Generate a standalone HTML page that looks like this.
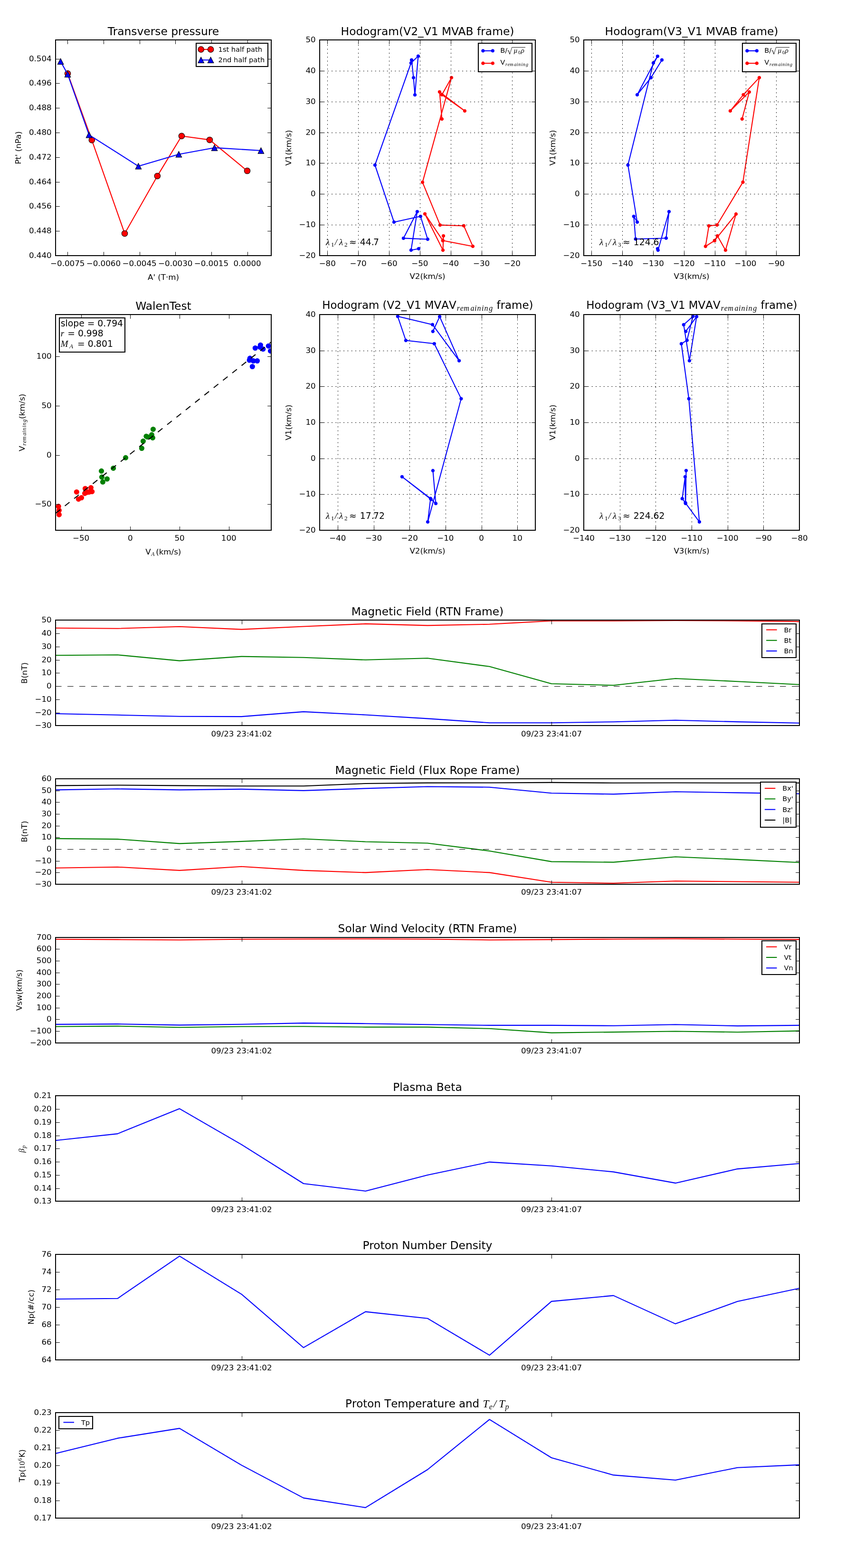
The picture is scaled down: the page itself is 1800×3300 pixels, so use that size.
<!DOCTYPE html>
<html><head><meta charset="utf-8"><title>Flux rope analysis</title>
<style>html,body{margin:0;padding:0;background:#fff;}svg{display:block;}</style>
</head><body>
<svg width="1800" height="3300" viewBox="0 0 864 1584" version="1.1">
<defs>
<style type="text/css">svg *{stroke-linejoin: round; stroke-linecap: butt}</style>
</defs>
<g id="figure_1">
<g id="patch_1">
<path d="M 0 1584 L 864 1584 L 864 0 L 0 0 z
" style="fill: #ffffff"/>
</g>
<g id="axes_1">
<g id="patch_2">
<path d="M 56.16 258.24 L 274.08 258.24 L 274.08 40.32 L 56.16 40.32 z
" style="fill: #ffffff"/>
</g>
<g id="line2d_1">
<path d="M 68.4 74.304 L 92.784 141.504 L 126 235.872 L 159.024 177.792 L 183.552 137.424 L 211.872 141.312 L 249.84 172.608 " clip-path="url(#p8485a4d8d3)" style="fill: none; stroke: #ff0000; stroke-linecap: square"/>
<g clip-path="url(#p8485a4d8d3)">
<path d="M 0 3 C 0.795609 3 1.55874 2.683901 2.12132 2.12132 C 2.683901 1.55874 3 0.795609 3 0 C 3 -0.795609 2.683901 -1.55874 2.12132 -2.12132 C 1.55874 -2.683901 0.795609 -3 0 -3 C -0.795609 -3 -1.55874 -2.683901 -2.12132 -2.12132 C -2.683901 -1.55874 -3 -0.795609 -3 0 C -3 0.795609 -2.683901 1.55874 -2.12132 2.12132 C -1.55874 2.683901 -0.795609 3 0 3 z" transform="translate(68.4 74.304)" style="fill: #ff0000; stroke: #000000; stroke-width: 0.5"/>
<path d="M 0 3 C 0.795609 3 1.55874 2.683901 2.12132 2.12132 C 2.683901 1.55874 3 0.795609 3 0 C 3 -0.795609 2.683901 -1.55874 2.12132 -2.12132 C 1.55874 -2.683901 0.795609 -3 0 -3 C -0.795609 -3 -1.55874 -2.683901 -2.12132 -2.12132 C -2.683901 -1.55874 -3 -0.795609 -3 0 C -3 0.795609 -2.683901 1.55874 -2.12132 2.12132 C -1.55874 2.683901 -0.795609 3 0 3 z" transform="translate(92.784 141.504)" style="fill: #ff0000; stroke: #000000; stroke-width: 0.5"/>
<path d="M 0 3 C 0.795609 3 1.55874 2.683901 2.12132 2.12132 C 2.683901 1.55874 3 0.795609 3 0 C 3 -0.795609 2.683901 -1.55874 2.12132 -2.12132 C 1.55874 -2.683901 0.795609 -3 0 -3 C -0.795609 -3 -1.55874 -2.683901 -2.12132 -2.12132 C -2.683901 -1.55874 -3 -0.795609 -3 0 C -3 0.795609 -2.683901 1.55874 -2.12132 2.12132 C -1.55874 2.683901 -0.795609 3 0 3 z" transform="translate(126 235.872)" style="fill: #ff0000; stroke: #000000; stroke-width: 0.5"/>
<path d="M 0 3 C 0.795609 3 1.55874 2.683901 2.12132 2.12132 C 2.683901 1.55874 3 0.795609 3 0 C 3 -0.795609 2.683901 -1.55874 2.12132 -2.12132 C 1.55874 -2.683901 0.795609 -3 0 -3 C -0.795609 -3 -1.55874 -2.683901 -2.12132 -2.12132 C -2.683901 -1.55874 -3 -0.795609 -3 0 C -3 0.795609 -2.683901 1.55874 -2.12132 2.12132 C -1.55874 2.683901 -0.795609 3 0 3 z" transform="translate(159.024 177.792)" style="fill: #ff0000; stroke: #000000; stroke-width: 0.5"/>
<path d="M 0 3 C 0.795609 3 1.55874 2.683901 2.12132 2.12132 C 2.683901 1.55874 3 0.795609 3 0 C 3 -0.795609 2.683901 -1.55874 2.12132 -2.12132 C 1.55874 -2.683901 0.795609 -3 0 -3 C -0.795609 -3 -1.55874 -2.683901 -2.12132 -2.12132 C -2.683901 -1.55874 -3 -0.795609 -3 0 C -3 0.795609 -2.683901 1.55874 -2.12132 2.12132 C -1.55874 2.683901 -0.795609 3 0 3 z" transform="translate(183.552 137.424)" style="fill: #ff0000; stroke: #000000; stroke-width: 0.5"/>
<path d="M 0 3 C 0.795609 3 1.55874 2.683901 2.12132 2.12132 C 2.683901 1.55874 3 0.795609 3 0 C 3 -0.795609 2.683901 -1.55874 2.12132 -2.12132 C 1.55874 -2.683901 0.795609 -3 0 -3 C -0.795609 -3 -1.55874 -2.683901 -2.12132 -2.12132 C -2.683901 -1.55874 -3 -0.795609 -3 0 C -3 0.795609 -2.683901 1.55874 -2.12132 2.12132 C -1.55874 2.683901 -0.795609 3 0 3 z" transform="translate(211.872 141.312)" style="fill: #ff0000; stroke: #000000; stroke-width: 0.5"/>
<path d="M 0 3 C 0.795609 3 1.55874 2.683901 2.12132 2.12132 C 2.683901 1.55874 3 0.795609 3 0 C 3 -0.795609 2.683901 -1.55874 2.12132 -2.12132 C 1.55874 -2.683901 0.795609 -3 0 -3 C -0.795609 -3 -1.55874 -2.683901 -2.12132 -2.12132 C -2.683901 -1.55874 -3 -0.795609 -3 0 C -3 0.795609 -2.683901 1.55874 -2.12132 2.12132 C -1.55874 2.683901 -0.795609 3 0 3 z" transform="translate(249.84 172.608)" style="fill: #ff0000; stroke: #000000; stroke-width: 0.5"/>
</g>
</g>
<g id="line2d_2">
<path d="M 61.248 62.064 L 68.4 75.024 L 90 136.224 L 139.872 167.904 L 180.672 155.856 L 216.72 149.232 L 263.712 152.112 " clip-path="url(#p8485a4d8d3)" style="fill: none; stroke: #0000ff; stroke-linecap: square"/>
<g clip-path="url(#p8485a4d8d3)">
<path d="M 0 -3 L -3 3 L 3 3 z" transform="translate(61.248 62.064)" style="fill: #0000ff; stroke: #000000; stroke-width: 0.5; stroke-linejoin: miter"/>
<path d="M 0 -3 L -3 3 L 3 3 z" transform="translate(68.4 75.024)" style="fill: #0000ff; stroke: #000000; stroke-width: 0.5; stroke-linejoin: miter"/>
<path d="M 0 -3 L -3 3 L 3 3 z" transform="translate(90 136.224)" style="fill: #0000ff; stroke: #000000; stroke-width: 0.5; stroke-linejoin: miter"/>
<path d="M 0 -3 L -3 3 L 3 3 z" transform="translate(139.872 167.904)" style="fill: #0000ff; stroke: #000000; stroke-width: 0.5; stroke-linejoin: miter"/>
<path d="M 0 -3 L -3 3 L 3 3 z" transform="translate(180.672 155.856)" style="fill: #0000ff; stroke: #000000; stroke-width: 0.5; stroke-linejoin: miter"/>
<path d="M 0 -3 L -3 3 L 3 3 z" transform="translate(216.72 149.232)" style="fill: #0000ff; stroke: #000000; stroke-width: 0.5; stroke-linejoin: miter"/>
<path d="M 0 -3 L -3 3 L 3 3 z" transform="translate(263.712 152.112)" style="fill: #0000ff; stroke: #000000; stroke-width: 0.5; stroke-linejoin: miter"/>
</g>
</g>
<g id="patch_3">
<path d="M 56.1600 258.2400 L 56.1600 40.3200 " style="fill: none; stroke: #000000; stroke-width: 0.96; stroke-linejoin: miter; stroke-linecap: square"/>
</g>
<g id="patch_4">
<path d="M 274.0800 258.2400 L 274.0800 40.3200 " style="fill: none; stroke: #000000; stroke-width: 0.96; stroke-linejoin: miter; stroke-linecap: square"/>
</g>
<g id="patch_5">
<path d="M 56.1600 258.2400 L 274.0800 258.2400 " style="fill: none; stroke: #000000; stroke-width: 0.96; stroke-linejoin: miter; stroke-linecap: square"/>
</g>
<g id="patch_6">
<path d="M 56.1600 40.3200 L 274.0800 40.3200 " style="fill: none; stroke: #000000; stroke-width: 0.96; stroke-linejoin: miter; stroke-linecap: square"/>
</g>
<g id="matplotlib.axis_1">
<g id="xtick_1">
<g id="line2d_3">
<g>
<path d="M 0 0 L 0 -4" transform="translate(68.4000 258.4800)" style="stroke: #000000; stroke-width: 0.48"/>
</g>
</g>
<g id="line2d_4">
<g>
<path d="M 0 0 L 0 4" transform="translate(68.4000 40.5600)" style="stroke: #000000; stroke-width: 0.48"/>
</g>
</g>
<g id="text_1">
<text style="font-size: 8px; font-family: 'DejaVu Sans', sans-serif; text-anchor: middle" x="68.266667" y="268.96" transform="rotate(-0 68.266667 268.96)">−0.0075</text>
</g>
</g>
<g id="xtick_2">
<g id="line2d_5">
<g>
<path d="M 0 0 L 0 -4" transform="translate(104.8800 258.4800)" style="stroke: #000000; stroke-width: 0.48"/>
</g>
</g>
<g id="line2d_6">
<g>
<path d="M 0 0 L 0 4" transform="translate(104.8800 40.5600)" style="stroke: #000000; stroke-width: 0.48"/>
</g>
</g>
<g id="text_2">
<text style="font-size: 8px; font-family: 'DejaVu Sans', sans-serif; text-anchor: middle" x="104.586667" y="268.96" transform="rotate(-0 104.586667 268.96)">−0.0060</text>
</g>
</g>
<g id="xtick_3">
<g id="line2d_7">
<g>
<path d="M 0 0 L 0 -4" transform="translate(141.3600 258.4800)" style="stroke: #000000; stroke-width: 0.48"/>
</g>
</g>
<g id="line2d_8">
<g>
<path d="M 0 0 L 0 4" transform="translate(141.3600 40.5600)" style="stroke: #000000; stroke-width: 0.48"/>
</g>
</g>
<g id="text_3">
<text style="font-size: 8px; font-family: 'DejaVu Sans', sans-serif; text-anchor: middle" x="140.906667" y="268.96" transform="rotate(-0 140.906667 268.96)">−0.0045</text>
</g>
</g>
<g id="xtick_4">
<g id="line2d_9">
<g>
<path d="M 0 0 L 0 -4" transform="translate(177.3600 258.4800)" style="stroke: #000000; stroke-width: 0.48"/>
</g>
</g>
<g id="line2d_10">
<g>
<path d="M 0 0 L 0 4" transform="translate(177.3600 40.5600)" style="stroke: #000000; stroke-width: 0.48"/>
</g>
</g>
<g id="text_4">
<text style="font-size: 8px; font-family: 'DejaVu Sans', sans-serif; text-anchor: middle" x="177.226667" y="268.96" transform="rotate(-0 177.226667 268.96)">−0.0030</text>
</g>
</g>
<g id="xtick_5">
<g id="line2d_11">
<g>
<path d="M 0 0 L 0 -4" transform="translate(213.8400 258.4800)" style="stroke: #000000; stroke-width: 0.48"/>
</g>
</g>
<g id="line2d_12">
<g>
<path d="M 0 0 L 0 4" transform="translate(213.8400 40.5600)" style="stroke: #000000; stroke-width: 0.48"/>
</g>
</g>
<g id="text_5">
<text style="font-size: 8px; font-family: 'DejaVu Sans', sans-serif; text-anchor: middle" x="213.546667" y="268.96" transform="rotate(-0 213.546667 268.96)">−0.0015</text>
</g>
</g>
<g id="xtick_6">
<g id="line2d_13">
<g>
<path d="M 0 0 L 0 -4" transform="translate(250.3200 258.4800)" style="stroke: #000000; stroke-width: 0.48"/>
</g>
</g>
<g id="line2d_14">
<g>
<path d="M 0 0 L 0 4" transform="translate(250.3200 40.5600)" style="stroke: #000000; stroke-width: 0.48"/>
</g>
</g>
<g id="text_6">
<text style="font-size: 8px; font-family: 'DejaVu Sans', sans-serif; text-anchor: middle" x="249.866667" y="268.96" transform="rotate(-0 249.866667 268.96)">0.0000</text>
</g>
</g>
<g id="text_7">
<text style="font-size: 8px; font-family: 'DejaVu Sans', sans-serif; text-anchor: middle" x="165.12" y="282.6" transform="rotate(-0 165.12 282.6)">A' (T·m)</text>
</g>
</g>
<g id="matplotlib.axis_2">
<g id="ytick_1">
<g id="line2d_15">
<g>
<path d="M 0 0 L 4 0" transform="translate(56.4000 258.4800)" style="stroke: #000000; stroke-width: 0.48"/>
</g>
</g>
<g id="line2d_16">
<g>
<path d="M 0 0 L -4 0" transform="translate(274.3200 258.4800)" style="stroke: #000000; stroke-width: 0.48"/>
</g>
</g>
<g id="text_8">
<text style="font-size: 8px; font-family: 'DejaVu Sans', sans-serif; text-anchor: end" x="52.16" y="260.64" transform="rotate(-0 52.16 260.64)">0.440</text>
</g>
</g>
<g id="ytick_2">
<g id="line2d_17">
<g>
<path d="M 0 0 L 4 0" transform="translate(56.4000 233.5200)" style="stroke: #000000; stroke-width: 0.48"/>
</g>
</g>
<g id="line2d_18">
<g>
<path d="M 0 0 L -4 0" transform="translate(274.3200 233.5200)" style="stroke: #000000; stroke-width: 0.48"/>
</g>
</g>
<g id="text_9">
<text style="font-size: 8px; font-family: 'DejaVu Sans', sans-serif; text-anchor: end" x="52.16" y="235.770385" transform="rotate(-0 52.16 235.770385)">0.448</text>
</g>
</g>
<g id="ytick_3">
<g id="line2d_19">
<g>
<path d="M 0 0 L 4 0" transform="translate(56.4000 208.5600)" style="stroke: #000000; stroke-width: 0.48"/>
</g>
</g>
<g id="line2d_20">
<g>
<path d="M 0 0 L -4 0" transform="translate(274.3200 208.5600)" style="stroke: #000000; stroke-width: 0.48"/>
</g>
</g>
<g id="text_10">
<text style="font-size: 8px; font-family: 'DejaVu Sans', sans-serif; text-anchor: end" x="52.16" y="210.90077" transform="rotate(-0 52.16 210.90077)">0.456</text>
</g>
</g>
<g id="ytick_4">
<g id="line2d_21">
<g>
<path d="M 0 0 L 4 0" transform="translate(56.4000 184.0800)" style="stroke: #000000; stroke-width: 0.48"/>
</g>
</g>
<g id="line2d_22">
<g>
<path d="M 0 0 L -4 0" transform="translate(274.3200 184.0800)" style="stroke: #000000; stroke-width: 0.48"/>
</g>
</g>
<g id="text_11">
<text style="font-size: 8px; font-family: 'DejaVu Sans', sans-serif; text-anchor: end" x="52.16" y="186.031155" transform="rotate(-0 52.16 186.031155)">0.464</text>
</g>
</g>
<g id="ytick_5">
<g id="line2d_23">
<g>
<path d="M 0 0 L 4 0" transform="translate(56.4000 159.1200)" style="stroke: #000000; stroke-width: 0.48"/>
</g>
</g>
<g id="line2d_24">
<g>
<path d="M 0 0 L -4 0" transform="translate(274.3200 159.1200)" style="stroke: #000000; stroke-width: 0.48"/>
</g>
</g>
<g id="text_12">
<text style="font-size: 8px; font-family: 'DejaVu Sans', sans-serif; text-anchor: end" x="52.16" y="161.161541" transform="rotate(-0 52.16 161.161541)">0.472</text>
</g>
</g>
<g id="ytick_6">
<g id="line2d_25">
<g>
<path d="M 0 0 L 4 0" transform="translate(56.4000 134.1600)" style="stroke: #000000; stroke-width: 0.48"/>
</g>
</g>
<g id="line2d_26">
<g>
<path d="M 0 0 L -4 0" transform="translate(274.3200 134.1600)" style="stroke: #000000; stroke-width: 0.48"/>
</g>
</g>
<g id="text_13">
<text style="font-size: 8px; font-family: 'DejaVu Sans', sans-serif; text-anchor: end" x="52.16" y="136.291926" transform="rotate(-0 52.16 136.291926)">0.480</text>
</g>
</g>
<g id="ytick_7">
<g id="line2d_27">
<g>
<path d="M 0 0 L 4 0" transform="translate(56.4000 109.2000)" style="stroke: #000000; stroke-width: 0.48"/>
</g>
</g>
<g id="line2d_28">
<g>
<path d="M 0 0 L -4 0" transform="translate(274.3200 109.2000)" style="stroke: #000000; stroke-width: 0.48"/>
</g>
</g>
<g id="text_14">
<text style="font-size: 8px; font-family: 'DejaVu Sans', sans-serif; text-anchor: end" x="52.16" y="111.422311" transform="rotate(-0 52.16 111.422311)">0.488</text>
</g>
</g>
<g id="ytick_8">
<g id="line2d_29">
<g>
<path d="M 0 0 L 4 0" transform="translate(56.4000 84.2400)" style="stroke: #000000; stroke-width: 0.48"/>
</g>
</g>
<g id="line2d_30">
<g>
<path d="M 0 0 L -4 0" transform="translate(274.3200 84.2400)" style="stroke: #000000; stroke-width: 0.48"/>
</g>
</g>
<g id="text_15">
<text style="font-size: 8px; font-family: 'DejaVu Sans', sans-serif; text-anchor: end" x="52.16" y="86.552696" transform="rotate(-0 52.16 86.552696)">0.496</text>
</g>
</g>
<g id="ytick_9">
<g id="line2d_31">
<g>
<path d="M 0 0 L 4 0" transform="translate(56.4000 59.7600)" style="stroke: #000000; stroke-width: 0.48"/>
</g>
</g>
<g id="line2d_32">
<g>
<path d="M 0 0 L -4 0" transform="translate(274.3200 59.7600)" style="stroke: #000000; stroke-width: 0.48"/>
</g>
</g>
<g id="text_16">
<text style="font-size: 8px; font-family: 'DejaVu Sans', sans-serif; text-anchor: end" x="52.16" y="61.683081" transform="rotate(-0 52.16 61.683081)">0.504</text>
</g>
</g>
<g id="text_17">
<text style="font-size: 8px; font-family: 'DejaVu Sans', sans-serif; text-anchor: middle" x="21.3" y="149.28" transform="rotate(-90 21.3 149.28)">Pt' (nPa)</text>
</g>
</g>
<g id="text_18">
<text style="font-size: 11.22px; font-family: 'DejaVu Sans', sans-serif; text-anchor: middle" x="165.12" y="35.32" transform="rotate(-0 165.12 35.32)">Transverse pressure</text>
</g>
<g id="legend_1">
<g id="patch_7">
<path d="M 198.2400 67.2000 L 270.7200 67.2000 L 270.7200 43.6800 L 198.2400 43.6800 z
" style="fill: #ffffff; stroke: #000000; stroke-linejoin: miter"/>
</g>
<g id="line2d_33">
<path d="M 203.12 49.93 L 212.92 49.93 " style="fill: none; stroke: #ff0000; stroke-linecap: square"/>
<g>
<path d="M 0 3 C 0.795609 3 1.55874 2.683901 2.12132 2.12132 C 2.683901 1.55874 3 0.795609 3 0 C 3 -0.795609 2.683901 -1.55874 2.12132 -2.12132 C 1.55874 -2.683901 0.795609 -3 0 -3 C -0.795609 -3 -1.55874 -2.683901 -2.12132 -2.12132 C -2.683901 -1.55874 -3 -0.795609 -3 0 C -3 0.795609 -2.683901 1.55874 -2.12132 2.12132 C -1.55874 2.683901 -0.795609 3 0 3 z" transform="translate(203.12 49.93)" style="fill: #ff0000; stroke: #000000; stroke-width: 0.5"/>
<path d="M 0 3 C 0.795609 3 1.55874 2.683901 2.12132 2.12132 C 2.683901 1.55874 3 0.795609 3 0 C 3 -0.795609 2.683901 -1.55874 2.12132 -2.12132 C 1.55874 -2.683901 0.795609 -3 0 -3 C -0.795609 -3 -1.55874 -2.683901 -2.12132 -2.12132 C -2.683901 -1.55874 -3 -0.795609 -3 0 C -3 0.795609 -2.683901 1.55874 -2.12132 2.12132 C -1.55874 2.683901 -0.795609 3 0 3 z" transform="translate(212.92 49.93)" style="fill: #ff0000; stroke: #000000; stroke-width: 0.5"/>
</g>
</g>
<g id="text_19">
<text style="font-size: 7px; font-family: 'DejaVu Sans', sans-serif; text-anchor: start" x="220.62" y="52.38" transform="rotate(-0 220.62 52.38)">1st half path</text>
</g>
<g id="line2d_34">
<path d="M 203.12 60.63 L 212.92 60.63 " style="fill: none; stroke: #0000ff; stroke-linecap: square"/>
<g>
<path d="M 0 -3 L -3 3 L 3 3 z" transform="translate(203.12 60.63)" style="fill: #0000ff; stroke: #000000; stroke-width: 0.5; stroke-linejoin: miter"/>
<path d="M 0 -3 L -3 3 L 3 3 z" transform="translate(212.92 60.63)" style="fill: #0000ff; stroke: #000000; stroke-width: 0.5; stroke-linejoin: miter"/>
</g>
</g>
<g id="text_20">
<text style="font-size: 7px; font-family: 'DejaVu Sans', sans-serif; text-anchor: start" x="220.62" y="63.08" transform="rotate(-0 220.62 63.08)">2nd half path</text>
</g>
</g>
</g>
<g id="axes_2">
<g id="patch_8">
<path d="M 323.04 258.24 L 540.96 258.24 L 540.96 40.32 L 323.04 40.32 z
" style="fill: #ffffff"/>
</g>
<g id="line2d_35">
<path d="M 415.92 60.576 L 417.84 78.48 L 419.28 95.856 L 422.592 56.736 L 415.344 63.648 L 378.912 166.704 L 398.16 224.352 L 424.944 218.544 L 432.192 241.68 L 407.712 240.672 L 421.632 213.744 L 415.392 252.672 L 423.072 251.232 " clip-path="url(#pe4867e20e9)" style="fill: none; stroke: #0000ff; stroke-linecap: square"/>
<g clip-path="url(#pe4867e20e9)">
<path d="M 0 1.5 C 0.397805 1.5 0.77937 1.341951 1.06066 1.06066 C 1.341951 0.77937 1.5 0.397805 1.5 0 C 1.5 -0.397805 1.341951 -0.77937 1.06066 -1.06066 C 0.77937 -1.341951 0.397805 -1.5 0 -1.5 C -0.397805 -1.5 -0.77937 -1.341951 -1.06066 -1.06066 C -1.341951 -0.77937 -1.5 -0.397805 -1.5 0 C -1.5 0.397805 -1.341951 0.77937 -1.06066 1.06066 C -0.77937 1.341951 -0.397805 1.5 0 1.5 z" transform="translate(415.92 60.576)" style="fill: #0000ff; stroke: #0000ff; stroke-width: 0.5"/>
<path d="M 0 1.5 C 0.397805 1.5 0.77937 1.341951 1.06066 1.06066 C 1.341951 0.77937 1.5 0.397805 1.5 0 C 1.5 -0.397805 1.341951 -0.77937 1.06066 -1.06066 C 0.77937 -1.341951 0.397805 -1.5 0 -1.5 C -0.397805 -1.5 -0.77937 -1.341951 -1.06066 -1.06066 C -1.341951 -0.77937 -1.5 -0.397805 -1.5 0 C -1.5 0.397805 -1.341951 0.77937 -1.06066 1.06066 C -0.77937 1.341951 -0.397805 1.5 0 1.5 z" transform="translate(417.84 78.48)" style="fill: #0000ff; stroke: #0000ff; stroke-width: 0.5"/>
<path d="M 0 1.5 C 0.397805 1.5 0.77937 1.341951 1.06066 1.06066 C 1.341951 0.77937 1.5 0.397805 1.5 0 C 1.5 -0.397805 1.341951 -0.77937 1.06066 -1.06066 C 0.77937 -1.341951 0.397805 -1.5 0 -1.5 C -0.397805 -1.5 -0.77937 -1.341951 -1.06066 -1.06066 C -1.341951 -0.77937 -1.5 -0.397805 -1.5 0 C -1.5 0.397805 -1.341951 0.77937 -1.06066 1.06066 C -0.77937 1.341951 -0.397805 1.5 0 1.5 z" transform="translate(419.28 95.856)" style="fill: #0000ff; stroke: #0000ff; stroke-width: 0.5"/>
<path d="M 0 1.5 C 0.397805 1.5 0.77937 1.341951 1.06066 1.06066 C 1.341951 0.77937 1.5 0.397805 1.5 0 C 1.5 -0.397805 1.341951 -0.77937 1.06066 -1.06066 C 0.77937 -1.341951 0.397805 -1.5 0 -1.5 C -0.397805 -1.5 -0.77937 -1.341951 -1.06066 -1.06066 C -1.341951 -0.77937 -1.5 -0.397805 -1.5 0 C -1.5 0.397805 -1.341951 0.77937 -1.06066 1.06066 C -0.77937 1.341951 -0.397805 1.5 0 1.5 z" transform="translate(422.592 56.736)" style="fill: #0000ff; stroke: #0000ff; stroke-width: 0.5"/>
<path d="M 0 1.5 C 0.397805 1.5 0.77937 1.341951 1.06066 1.06066 C 1.341951 0.77937 1.5 0.397805 1.5 0 C 1.5 -0.397805 1.341951 -0.77937 1.06066 -1.06066 C 0.77937 -1.341951 0.397805 -1.5 0 -1.5 C -0.397805 -1.5 -0.77937 -1.341951 -1.06066 -1.06066 C -1.341951 -0.77937 -1.5 -0.397805 -1.5 0 C -1.5 0.397805 -1.341951 0.77937 -1.06066 1.06066 C -0.77937 1.341951 -0.397805 1.5 0 1.5 z" transform="translate(415.344 63.648)" style="fill: #0000ff; stroke: #0000ff; stroke-width: 0.5"/>
<path d="M 0 1.5 C 0.397805 1.5 0.77937 1.341951 1.06066 1.06066 C 1.341951 0.77937 1.5 0.397805 1.5 0 C 1.5 -0.397805 1.341951 -0.77937 1.06066 -1.06066 C 0.77937 -1.341951 0.397805 -1.5 0 -1.5 C -0.397805 -1.5 -0.77937 -1.341951 -1.06066 -1.06066 C -1.341951 -0.77937 -1.5 -0.397805 -1.5 0 C -1.5 0.397805 -1.341951 0.77937 -1.06066 1.06066 C -0.77937 1.341951 -0.397805 1.5 0 1.5 z" transform="translate(378.912 166.704)" style="fill: #0000ff; stroke: #0000ff; stroke-width: 0.5"/>
<path d="M 0 1.5 C 0.397805 1.5 0.77937 1.341951 1.06066 1.06066 C 1.341951 0.77937 1.5 0.397805 1.5 0 C 1.5 -0.397805 1.341951 -0.77937 1.06066 -1.06066 C 0.77937 -1.341951 0.397805 -1.5 0 -1.5 C -0.397805 -1.5 -0.77937 -1.341951 -1.06066 -1.06066 C -1.341951 -0.77937 -1.5 -0.397805 -1.5 0 C -1.5 0.397805 -1.341951 0.77937 -1.06066 1.06066 C -0.77937 1.341951 -0.397805 1.5 0 1.5 z" transform="translate(398.16 224.352)" style="fill: #0000ff; stroke: #0000ff; stroke-width: 0.5"/>
<path d="M 0 1.5 C 0.397805 1.5 0.77937 1.341951 1.06066 1.06066 C 1.341951 0.77937 1.5 0.397805 1.5 0 C 1.5 -0.397805 1.341951 -0.77937 1.06066 -1.06066 C 0.77937 -1.341951 0.397805 -1.5 0 -1.5 C -0.397805 -1.5 -0.77937 -1.341951 -1.06066 -1.06066 C -1.341951 -0.77937 -1.5 -0.397805 -1.5 0 C -1.5 0.397805 -1.341951 0.77937 -1.06066 1.06066 C -0.77937 1.341951 -0.397805 1.5 0 1.5 z" transform="translate(424.944 218.544)" style="fill: #0000ff; stroke: #0000ff; stroke-width: 0.5"/>
<path d="M 0 1.5 C 0.397805 1.5 0.77937 1.341951 1.06066 1.06066 C 1.341951 0.77937 1.5 0.397805 1.5 0 C 1.5 -0.397805 1.341951 -0.77937 1.06066 -1.06066 C 0.77937 -1.341951 0.397805 -1.5 0 -1.5 C -0.397805 -1.5 -0.77937 -1.341951 -1.06066 -1.06066 C -1.341951 -0.77937 -1.5 -0.397805 -1.5 0 C -1.5 0.397805 -1.341951 0.77937 -1.06066 1.06066 C -0.77937 1.341951 -0.397805 1.5 0 1.5 z" transform="translate(432.192 241.68)" style="fill: #0000ff; stroke: #0000ff; stroke-width: 0.5"/>
<path d="M 0 1.5 C 0.397805 1.5 0.77937 1.341951 1.06066 1.06066 C 1.341951 0.77937 1.5 0.397805 1.5 0 C 1.5 -0.397805 1.341951 -0.77937 1.06066 -1.06066 C 0.77937 -1.341951 0.397805 -1.5 0 -1.5 C -0.397805 -1.5 -0.77937 -1.341951 -1.06066 -1.06066 C -1.341951 -0.77937 -1.5 -0.397805 -1.5 0 C -1.5 0.397805 -1.341951 0.77937 -1.06066 1.06066 C -0.77937 1.341951 -0.397805 1.5 0 1.5 z" transform="translate(407.712 240.672)" style="fill: #0000ff; stroke: #0000ff; stroke-width: 0.5"/>
<path d="M 0 1.5 C 0.397805 1.5 0.77937 1.341951 1.06066 1.06066 C 1.341951 0.77937 1.5 0.397805 1.5 0 C 1.5 -0.397805 1.341951 -0.77937 1.06066 -1.06066 C 0.77937 -1.341951 0.397805 -1.5 0 -1.5 C -0.397805 -1.5 -0.77937 -1.341951 -1.06066 -1.06066 C -1.341951 -0.77937 -1.5 -0.397805 -1.5 0 C -1.5 0.397805 -1.341951 0.77937 -1.06066 1.06066 C -0.77937 1.341951 -0.397805 1.5 0 1.5 z" transform="translate(421.632 213.744)" style="fill: #0000ff; stroke: #0000ff; stroke-width: 0.5"/>
<path d="M 0 1.5 C 0.397805 1.5 0.77937 1.341951 1.06066 1.06066 C 1.341951 0.77937 1.5 0.397805 1.5 0 C 1.5 -0.397805 1.341951 -0.77937 1.06066 -1.06066 C 0.77937 -1.341951 0.397805 -1.5 0 -1.5 C -0.397805 -1.5 -0.77937 -1.341951 -1.06066 -1.06066 C -1.341951 -0.77937 -1.5 -0.397805 -1.5 0 C -1.5 0.397805 -1.341951 0.77937 -1.06066 1.06066 C -0.77937 1.341951 -0.397805 1.5 0 1.5 z" transform="translate(415.392 252.672)" style="fill: #0000ff; stroke: #0000ff; stroke-width: 0.5"/>
<path d="M 0 1.5 C 0.397805 1.5 0.77937 1.341951 1.06066 1.06066 C 1.341951 0.77937 1.5 0.397805 1.5 0 C 1.5 -0.397805 1.341951 -0.77937 1.06066 -1.06066 C 0.77937 -1.341951 0.397805 -1.5 0 -1.5 C -0.397805 -1.5 -0.77937 -1.341951 -1.06066 -1.06066 C -1.341951 -0.77937 -1.5 -0.397805 -1.5 0 C -1.5 0.397805 -1.341951 0.77937 -1.06066 1.06066 C -0.77937 1.341951 -0.397805 1.5 0 1.5 z" transform="translate(423.072 251.232)" style="fill: #0000ff; stroke: #0000ff; stroke-width: 0.5"/>
</g>
</g>
<g id="line2d_36">
<path d="M 446.592 120.24 L 444.192 92.784 L 469.632 112.032 L 446.592 95.664 L 456.24 78.432 L 426.96 184.128 L 444.72 227.328 L 468.672 228.096 L 477.792 248.832 L 447.504 243.024 L 448.08 238.272 L 447.6 252.72 L 429.36 216.096 L 447.504 243.024 " clip-path="url(#pe4867e20e9)" style="fill: none; stroke: #ff0000; stroke-linecap: square"/>
<g clip-path="url(#pe4867e20e9)">
<path d="M 0 1.5 C 0.397805 1.5 0.77937 1.341951 1.06066 1.06066 C 1.341951 0.77937 1.5 0.397805 1.5 0 C 1.5 -0.397805 1.341951 -0.77937 1.06066 -1.06066 C 0.77937 -1.341951 0.397805 -1.5 0 -1.5 C -0.397805 -1.5 -0.77937 -1.341951 -1.06066 -1.06066 C -1.341951 -0.77937 -1.5 -0.397805 -1.5 0 C -1.5 0.397805 -1.341951 0.77937 -1.06066 1.06066 C -0.77937 1.341951 -0.397805 1.5 0 1.5 z" transform="translate(446.592 120.24)" style="fill: #ff0000; stroke: #ff0000; stroke-width: 0.5"/>
<path d="M 0 1.5 C 0.397805 1.5 0.77937 1.341951 1.06066 1.06066 C 1.341951 0.77937 1.5 0.397805 1.5 0 C 1.5 -0.397805 1.341951 -0.77937 1.06066 -1.06066 C 0.77937 -1.341951 0.397805 -1.5 0 -1.5 C -0.397805 -1.5 -0.77937 -1.341951 -1.06066 -1.06066 C -1.341951 -0.77937 -1.5 -0.397805 -1.5 0 C -1.5 0.397805 -1.341951 0.77937 -1.06066 1.06066 C -0.77937 1.341951 -0.397805 1.5 0 1.5 z" transform="translate(444.192 92.784)" style="fill: #ff0000; stroke: #ff0000; stroke-width: 0.5"/>
<path d="M 0 1.5 C 0.397805 1.5 0.77937 1.341951 1.06066 1.06066 C 1.341951 0.77937 1.5 0.397805 1.5 0 C 1.5 -0.397805 1.341951 -0.77937 1.06066 -1.06066 C 0.77937 -1.341951 0.397805 -1.5 0 -1.5 C -0.397805 -1.5 -0.77937 -1.341951 -1.06066 -1.06066 C -1.341951 -0.77937 -1.5 -0.397805 -1.5 0 C -1.5 0.397805 -1.341951 0.77937 -1.06066 1.06066 C -0.77937 1.341951 -0.397805 1.5 0 1.5 z" transform="translate(469.632 112.032)" style="fill: #ff0000; stroke: #ff0000; stroke-width: 0.5"/>
<path d="M 0 1.5 C 0.397805 1.5 0.77937 1.341951 1.06066 1.06066 C 1.341951 0.77937 1.5 0.397805 1.5 0 C 1.5 -0.397805 1.341951 -0.77937 1.06066 -1.06066 C 0.77937 -1.341951 0.397805 -1.5 0 -1.5 C -0.397805 -1.5 -0.77937 -1.341951 -1.06066 -1.06066 C -1.341951 -0.77937 -1.5 -0.397805 -1.5 0 C -1.5 0.397805 -1.341951 0.77937 -1.06066 1.06066 C -0.77937 1.341951 -0.397805 1.5 0 1.5 z" transform="translate(446.592 95.664)" style="fill: #ff0000; stroke: #ff0000; stroke-width: 0.5"/>
<path d="M 0 1.5 C 0.397805 1.5 0.77937 1.341951 1.06066 1.06066 C 1.341951 0.77937 1.5 0.397805 1.5 0 C 1.5 -0.397805 1.341951 -0.77937 1.06066 -1.06066 C 0.77937 -1.341951 0.397805 -1.5 0 -1.5 C -0.397805 -1.5 -0.77937 -1.341951 -1.06066 -1.06066 C -1.341951 -0.77937 -1.5 -0.397805 -1.5 0 C -1.5 0.397805 -1.341951 0.77937 -1.06066 1.06066 C -0.77937 1.341951 -0.397805 1.5 0 1.5 z" transform="translate(456.24 78.432)" style="fill: #ff0000; stroke: #ff0000; stroke-width: 0.5"/>
<path d="M 0 1.5 C 0.397805 1.5 0.77937 1.341951 1.06066 1.06066 C 1.341951 0.77937 1.5 0.397805 1.5 0 C 1.5 -0.397805 1.341951 -0.77937 1.06066 -1.06066 C 0.77937 -1.341951 0.397805 -1.5 0 -1.5 C -0.397805 -1.5 -0.77937 -1.341951 -1.06066 -1.06066 C -1.341951 -0.77937 -1.5 -0.397805 -1.5 0 C -1.5 0.397805 -1.341951 0.77937 -1.06066 1.06066 C -0.77937 1.341951 -0.397805 1.5 0 1.5 z" transform="translate(426.96 184.128)" style="fill: #ff0000; stroke: #ff0000; stroke-width: 0.5"/>
<path d="M 0 1.5 C 0.397805 1.5 0.77937 1.341951 1.06066 1.06066 C 1.341951 0.77937 1.5 0.397805 1.5 0 C 1.5 -0.397805 1.341951 -0.77937 1.06066 -1.06066 C 0.77937 -1.341951 0.397805 -1.5 0 -1.5 C -0.397805 -1.5 -0.77937 -1.341951 -1.06066 -1.06066 C -1.341951 -0.77937 -1.5 -0.397805 -1.5 0 C -1.5 0.397805 -1.341951 0.77937 -1.06066 1.06066 C -0.77937 1.341951 -0.397805 1.5 0 1.5 z" transform="translate(444.72 227.328)" style="fill: #ff0000; stroke: #ff0000; stroke-width: 0.5"/>
<path d="M 0 1.5 C 0.397805 1.5 0.77937 1.341951 1.06066 1.06066 C 1.341951 0.77937 1.5 0.397805 1.5 0 C 1.5 -0.397805 1.341951 -0.77937 1.06066 -1.06066 C 0.77937 -1.341951 0.397805 -1.5 0 -1.5 C -0.397805 -1.5 -0.77937 -1.341951 -1.06066 -1.06066 C -1.341951 -0.77937 -1.5 -0.397805 -1.5 0 C -1.5 0.397805 -1.341951 0.77937 -1.06066 1.06066 C -0.77937 1.341951 -0.397805 1.5 0 1.5 z" transform="translate(468.672 228.096)" style="fill: #ff0000; stroke: #ff0000; stroke-width: 0.5"/>
<path d="M 0 1.5 C 0.397805 1.5 0.77937 1.341951 1.06066 1.06066 C 1.341951 0.77937 1.5 0.397805 1.5 0 C 1.5 -0.397805 1.341951 -0.77937 1.06066 -1.06066 C 0.77937 -1.341951 0.397805 -1.5 0 -1.5 C -0.397805 -1.5 -0.77937 -1.341951 -1.06066 -1.06066 C -1.341951 -0.77937 -1.5 -0.397805 -1.5 0 C -1.5 0.397805 -1.341951 0.77937 -1.06066 1.06066 C -0.77937 1.341951 -0.397805 1.5 0 1.5 z" transform="translate(477.792 248.832)" style="fill: #ff0000; stroke: #ff0000; stroke-width: 0.5"/>
<path d="M 0 1.5 C 0.397805 1.5 0.77937 1.341951 1.06066 1.06066 C 1.341951 0.77937 1.5 0.397805 1.5 0 C 1.5 -0.397805 1.341951 -0.77937 1.06066 -1.06066 C 0.77937 -1.341951 0.397805 -1.5 0 -1.5 C -0.397805 -1.5 -0.77937 -1.341951 -1.06066 -1.06066 C -1.341951 -0.77937 -1.5 -0.397805 -1.5 0 C -1.5 0.397805 -1.341951 0.77937 -1.06066 1.06066 C -0.77937 1.341951 -0.397805 1.5 0 1.5 z" transform="translate(447.504 243.024)" style="fill: #ff0000; stroke: #ff0000; stroke-width: 0.5"/>
<path d="M 0 1.5 C 0.397805 1.5 0.77937 1.341951 1.06066 1.06066 C 1.341951 0.77937 1.5 0.397805 1.5 0 C 1.5 -0.397805 1.341951 -0.77937 1.06066 -1.06066 C 0.77937 -1.341951 0.397805 -1.5 0 -1.5 C -0.397805 -1.5 -0.77937 -1.341951 -1.06066 -1.06066 C -1.341951 -0.77937 -1.5 -0.397805 -1.5 0 C -1.5 0.397805 -1.341951 0.77937 -1.06066 1.06066 C -0.77937 1.341951 -0.397805 1.5 0 1.5 z" transform="translate(448.08 238.272)" style="fill: #ff0000; stroke: #ff0000; stroke-width: 0.5"/>
<path d="M 0 1.5 C 0.397805 1.5 0.77937 1.341951 1.06066 1.06066 C 1.341951 0.77937 1.5 0.397805 1.5 0 C 1.5 -0.397805 1.341951 -0.77937 1.06066 -1.06066 C 0.77937 -1.341951 0.397805 -1.5 0 -1.5 C -0.397805 -1.5 -0.77937 -1.341951 -1.06066 -1.06066 C -1.341951 -0.77937 -1.5 -0.397805 -1.5 0 C -1.5 0.397805 -1.341951 0.77937 -1.06066 1.06066 C -0.77937 1.341951 -0.397805 1.5 0 1.5 z" transform="translate(447.6 252.72)" style="fill: #ff0000; stroke: #ff0000; stroke-width: 0.5"/>
<path d="M 0 1.5 C 0.397805 1.5 0.77937 1.341951 1.06066 1.06066 C 1.341951 0.77937 1.5 0.397805 1.5 0 C 1.5 -0.397805 1.341951 -0.77937 1.06066 -1.06066 C 0.77937 -1.341951 0.397805 -1.5 0 -1.5 C -0.397805 -1.5 -0.77937 -1.341951 -1.06066 -1.06066 C -1.341951 -0.77937 -1.5 -0.397805 -1.5 0 C -1.5 0.397805 -1.341951 0.77937 -1.06066 1.06066 C -0.77937 1.341951 -0.397805 1.5 0 1.5 z" transform="translate(429.36 216.096)" style="fill: #ff0000; stroke: #ff0000; stroke-width: 0.5"/>
<path d="M 0 1.5 C 0.397805 1.5 0.77937 1.341951 1.06066 1.06066 C 1.341951 0.77937 1.5 0.397805 1.5 0 C 1.5 -0.397805 1.341951 -0.77937 1.06066 -1.06066 C 0.77937 -1.341951 0.397805 -1.5 0 -1.5 C -0.397805 -1.5 -0.77937 -1.341951 -1.06066 -1.06066 C -1.341951 -0.77937 -1.5 -0.397805 -1.5 0 C -1.5 0.397805 -1.341951 0.77937 -1.06066 1.06066 C -0.77937 1.341951 -0.397805 1.5 0 1.5 z" transform="translate(447.504 243.024)" style="fill: #ff0000; stroke: #ff0000; stroke-width: 0.5"/>
</g>
</g>
<g id="patch_9">
<path d="M 323.0400 258.2400 L 323.0400 40.3200 " style="fill: none; stroke: #000000; stroke-width: 0.96; stroke-linejoin: miter; stroke-linecap: square"/>
</g>
<g id="patch_10">
<path d="M 540.9600 258.2400 L 540.9600 40.3200 " style="fill: none; stroke: #000000; stroke-width: 0.96; stroke-linejoin: miter; stroke-linecap: square"/>
</g>
<g id="patch_11">
<path d="M 323.0400 258.2400 L 540.9600 258.2400 " style="fill: none; stroke: #000000; stroke-width: 0.96; stroke-linejoin: miter; stroke-linecap: square"/>
</g>
<g id="patch_12">
<path d="M 323.0400 40.3200 L 540.9600 40.3200 " style="fill: none; stroke: #000000; stroke-width: 0.96; stroke-linejoin: miter; stroke-linecap: square"/>
</g>
<g id="matplotlib.axis_3">
<g id="xtick_7">
<g id="line2d_37">
<path d="M 330.9600 258.2400 L 330.9600 40.3200 " clip-path="url(#pe4867e20e9)" style="fill: none; stroke-dasharray: 1,3; stroke-dashoffset: 0; stroke: #000000; stroke-width: 0.48"/>
</g>
<g id="line2d_38">
<g>
<path d="M 0 0 L 0 -4" transform="translate(330.9600 258.4800)" style="stroke: #000000; stroke-width: 0.48"/>
</g>
</g>
<g id="line2d_39">
<g>
<path d="M 0 0 L 0 4" transform="translate(330.9600 40.5600)" style="stroke: #000000; stroke-width: 0.48"/>
</g>
</g>
<g id="text_21">
<text style="font-size: 8px; font-family: 'DejaVu Sans', sans-serif; text-anchor: middle" x="330.822857" y="268.96" transform="rotate(-0 330.822857 268.96)">−80</text>
</g>
</g>
<g id="xtick_8">
<g id="line2d_40">
<path d="M 362.1600 258.2400 L 362.1600 40.3200 " clip-path="url(#pe4867e20e9)" style="fill: none; stroke-dasharray: 1,3; stroke-dashoffset: 0; stroke: #000000; stroke-width: 0.48"/>
</g>
<g id="line2d_41">
<g>
<path d="M 0 0 L 0 -4" transform="translate(362.1600 258.4800)" style="stroke: #000000; stroke-width: 0.48"/>
</g>
</g>
<g id="line2d_42">
<g>
<path d="M 0 0 L 0 4" transform="translate(362.1600 40.5600)" style="stroke: #000000; stroke-width: 0.48"/>
</g>
</g>
<g id="text_22">
<text style="font-size: 8px; font-family: 'DejaVu Sans', sans-serif; text-anchor: middle" x="361.954286" y="268.96" transform="rotate(-0 361.954286 268.96)">−70</text>
</g>
</g>
<g id="xtick_9">
<g id="line2d_43">
<path d="M 393.3600 258.2400 L 393.3600 40.3200 " clip-path="url(#pe4867e20e9)" style="fill: none; stroke-dasharray: 1,3; stroke-dashoffset: 0; stroke: #000000; stroke-width: 0.48"/>
</g>
<g id="line2d_44">
<g>
<path d="M 0 0 L 0 -4" transform="translate(393.3600 258.4800)" style="stroke: #000000; stroke-width: 0.48"/>
</g>
</g>
<g id="line2d_45">
<g>
<path d="M 0 0 L 0 4" transform="translate(393.3600 40.5600)" style="stroke: #000000; stroke-width: 0.48"/>
</g>
</g>
<g id="text_23">
<text style="font-size: 8px; font-family: 'DejaVu Sans', sans-serif; text-anchor: middle" x="393.085714" y="268.96" transform="rotate(-0 393.085714 268.96)">−60</text>
</g>
</g>
<g id="xtick_10">
<g id="line2d_46">
<path d="M 424.5600 258.2400 L 424.5600 40.3200 " clip-path="url(#pe4867e20e9)" style="fill: none; stroke-dasharray: 1,3; stroke-dashoffset: 0; stroke: #000000; stroke-width: 0.48"/>
</g>
<g id="line2d_47">
<g>
<path d="M 0 0 L 0 -4" transform="translate(424.5600 258.4800)" style="stroke: #000000; stroke-width: 0.48"/>
</g>
</g>
<g id="line2d_48">
<g>
<path d="M 0 0 L 0 4" transform="translate(424.5600 40.5600)" style="stroke: #000000; stroke-width: 0.48"/>
</g>
</g>
<g id="text_24">
<text style="font-size: 8px; font-family: 'DejaVu Sans', sans-serif; text-anchor: middle" x="424.217143" y="268.96" transform="rotate(-0 424.217143 268.96)">−50</text>
</g>
</g>
<g id="xtick_11">
<g id="line2d_49">
<path d="M 455.7600 258.2400 L 455.7600 40.3200 " clip-path="url(#pe4867e20e9)" style="fill: none; stroke-dasharray: 1,3; stroke-dashoffset: 0; stroke: #000000; stroke-width: 0.48"/>
</g>
<g id="line2d_50">
<g>
<path d="M 0 0 L 0 -4" transform="translate(455.7600 258.4800)" style="stroke: #000000; stroke-width: 0.48"/>
</g>
</g>
<g id="line2d_51">
<g>
<path d="M 0 0 L 0 4" transform="translate(455.7600 40.5600)" style="stroke: #000000; stroke-width: 0.48"/>
</g>
</g>
<g id="text_25">
<text style="font-size: 8px; font-family: 'DejaVu Sans', sans-serif; text-anchor: middle" x="455.348571" y="268.96" transform="rotate(-0 455.348571 268.96)">−40</text>
</g>
</g>
<g id="xtick_12">
<g id="line2d_52">
<path d="M 486.9600 258.2400 L 486.9600 40.3200 " clip-path="url(#pe4867e20e9)" style="fill: none; stroke-dasharray: 1,3; stroke-dashoffset: 0; stroke: #000000; stroke-width: 0.48"/>
</g>
<g id="line2d_53">
<g>
<path d="M 0 0 L 0 -4" transform="translate(486.9600 258.4800)" style="stroke: #000000; stroke-width: 0.48"/>
</g>
</g>
<g id="line2d_54">
<g>
<path d="M 0 0 L 0 4" transform="translate(486.9600 40.5600)" style="stroke: #000000; stroke-width: 0.48"/>
</g>
</g>
<g id="text_26">
<text style="font-size: 8px; font-family: 'DejaVu Sans', sans-serif; text-anchor: middle" x="486.48" y="268.96" transform="rotate(-0 486.48 268.96)">−30</text>
</g>
</g>
<g id="xtick_13">
<g id="line2d_55">
<path d="M 517.6800 258.2400 L 517.6800 40.3200 " clip-path="url(#pe4867e20e9)" style="fill: none; stroke-dasharray: 1,3; stroke-dashoffset: 0; stroke: #000000; stroke-width: 0.48"/>
</g>
<g id="line2d_56">
<g>
<path d="M 0 0 L 0 -4" transform="translate(517.6800 258.4800)" style="stroke: #000000; stroke-width: 0.48"/>
</g>
</g>
<g id="line2d_57">
<g>
<path d="M 0 0 L 0 4" transform="translate(517.6800 40.5600)" style="stroke: #000000; stroke-width: 0.48"/>
</g>
</g>
<g id="text_27">
<text style="font-size: 8px; font-family: 'DejaVu Sans', sans-serif; text-anchor: middle" x="517.611429" y="268.96" transform="rotate(-0 517.611429 268.96)">−20</text>
</g>
</g>
<g id="text_28">
<text style="font-size: 8px; font-family: 'DejaVu Sans', sans-serif; text-anchor: middle" x="432" y="281.6" transform="rotate(-0 432 281.6)">V2(km/s)</text>
</g>
</g>
<g id="matplotlib.axis_4">
<g id="ytick_10">
<g id="line2d_58">
<path d="M 323.0400 258.4800 L 540.9600 258.4800 " clip-path="url(#pe4867e20e9)" style="fill: none; stroke-dasharray: 1,3; stroke-dashoffset: 0; stroke: #000000; stroke-width: 0.48"/>
</g>
<g id="line2d_59">
<g>
<path d="M 0 0 L 4 0" transform="translate(323.2800 258.4800)" style="stroke: #000000; stroke-width: 0.48"/>
</g>
</g>
<g id="line2d_60">
<g>
<path d="M 0 0 L -4 0" transform="translate(541.2000 258.4800)" style="stroke: #000000; stroke-width: 0.48"/>
</g>
</g>
<g id="text_29">
<text style="font-size: 8px; font-family: 'DejaVu Sans', sans-serif; text-anchor: end" x="319.04" y="260.64" transform="rotate(-0 319.04 260.64)">−20</text>
</g>
</g>
<g id="ytick_11">
<g id="line2d_61">
<path d="M 323.0400 227.2800 L 540.9600 227.2800 " clip-path="url(#pe4867e20e9)" style="fill: none; stroke-dasharray: 1,3; stroke-dashoffset: 0; stroke: #000000; stroke-width: 0.48"/>
</g>
<g id="line2d_62">
<g>
<path d="M 0 0 L 4 0" transform="translate(323.2800 227.2800)" style="stroke: #000000; stroke-width: 0.48"/>
</g>
</g>
<g id="line2d_63">
<g>
<path d="M 0 0 L -4 0" transform="translate(541.2000 227.2800)" style="stroke: #000000; stroke-width: 0.48"/>
</g>
</g>
<g id="text_30">
<text style="font-size: 8px; font-family: 'DejaVu Sans', sans-serif; text-anchor: end" x="319.04" y="229.508571" transform="rotate(-0 319.04 229.508571)">−10</text>
</g>
</g>
<g id="ytick_12">
<g id="line2d_64">
<path d="M 323.0400 196.0800 L 540.9600 196.0800 " clip-path="url(#pe4867e20e9)" style="fill: none; stroke-dasharray: 1,3; stroke-dashoffset: 0; stroke: #000000; stroke-width: 0.48"/>
</g>
<g id="line2d_65">
<g>
<path d="M 0 0 L 4 0" transform="translate(323.2800 196.0800)" style="stroke: #000000; stroke-width: 0.48"/>
</g>
</g>
<g id="line2d_66">
<g>
<path d="M 0 0 L -4 0" transform="translate(541.2000 196.0800)" style="stroke: #000000; stroke-width: 0.48"/>
</g>
</g>
<g id="text_31">
<text style="font-size: 8px; font-family: 'DejaVu Sans', sans-serif; text-anchor: end" x="319.04" y="198.377143" transform="rotate(-0 319.04 198.377143)">0</text>
</g>
</g>
<g id="ytick_13">
<g id="line2d_67">
<path d="M 323.0400 164.8800 L 540.9600 164.8800 " clip-path="url(#pe4867e20e9)" style="fill: none; stroke-dasharray: 1,3; stroke-dashoffset: 0; stroke: #000000; stroke-width: 0.48"/>
</g>
<g id="line2d_68">
<g>
<path d="M 0 0 L 4 0" transform="translate(323.2800 164.8800)" style="stroke: #000000; stroke-width: 0.48"/>
</g>
</g>
<g id="line2d_69">
<g>
<path d="M 0 0 L -4 0" transform="translate(541.2000 164.8800)" style="stroke: #000000; stroke-width: 0.48"/>
</g>
</g>
<g id="text_32">
<text style="font-size: 8px; font-family: 'DejaVu Sans', sans-serif; text-anchor: end" x="319.04" y="167.245714" transform="rotate(-0 319.04 167.245714)">10</text>
</g>
</g>
<g id="ytick_14">
<g id="line2d_70">
<path d="M 323.0400 134.1600 L 540.9600 134.1600 " clip-path="url(#pe4867e20e9)" style="fill: none; stroke-dasharray: 1,3; stroke-dashoffset: 0; stroke: #000000; stroke-width: 0.48"/>
</g>
<g id="line2d_71">
<g>
<path d="M 0 0 L 4 0" transform="translate(323.2800 134.1600)" style="stroke: #000000; stroke-width: 0.48"/>
</g>
</g>
<g id="line2d_72">
<g>
<path d="M 0 0 L -4 0" transform="translate(541.2000 134.1600)" style="stroke: #000000; stroke-width: 0.48"/>
</g>
</g>
<g id="text_33">
<text style="font-size: 8px; font-family: 'DejaVu Sans', sans-serif; text-anchor: end" x="319.04" y="136.114286" transform="rotate(-0 319.04 136.114286)">20</text>
</g>
</g>
<g id="ytick_15">
<g id="line2d_73">
<path d="M 323.0400 102.9600 L 540.9600 102.9600 " clip-path="url(#pe4867e20e9)" style="fill: none; stroke-dasharray: 1,3; stroke-dashoffset: 0; stroke: #000000; stroke-width: 0.48"/>
</g>
<g id="line2d_74">
<g>
<path d="M 0 0 L 4 0" transform="translate(323.2800 102.9600)" style="stroke: #000000; stroke-width: 0.48"/>
</g>
</g>
<g id="line2d_75">
<g>
<path d="M 0 0 L -4 0" transform="translate(541.2000 102.9600)" style="stroke: #000000; stroke-width: 0.48"/>
</g>
</g>
<g id="text_34">
<text style="font-size: 8px; font-family: 'DejaVu Sans', sans-serif; text-anchor: end" x="319.04" y="104.982857" transform="rotate(-0 319.04 104.982857)">30</text>
</g>
</g>
<g id="ytick_16">
<g id="line2d_76">
<path d="M 323.0400 71.7600 L 540.9600 71.7600 " clip-path="url(#pe4867e20e9)" style="fill: none; stroke-dasharray: 1,3; stroke-dashoffset: 0; stroke: #000000; stroke-width: 0.48"/>
</g>
<g id="line2d_77">
<g>
<path d="M 0 0 L 4 0" transform="translate(323.2800 71.7600)" style="stroke: #000000; stroke-width: 0.48"/>
</g>
</g>
<g id="line2d_78">
<g>
<path d="M 0 0 L -4 0" transform="translate(541.2000 71.7600)" style="stroke: #000000; stroke-width: 0.48"/>
</g>
</g>
<g id="text_35">
<text style="font-size: 8px; font-family: 'DejaVu Sans', sans-serif; text-anchor: end" x="319.04" y="73.851429" transform="rotate(-0 319.04 73.851429)">40</text>
</g>
</g>
<g id="ytick_17">
<g id="line2d_79">
<path d="M 323.0400 40.5600 L 540.9600 40.5600 " clip-path="url(#pe4867e20e9)" style="fill: none; stroke-dasharray: 1,3; stroke-dashoffset: 0; stroke: #000000; stroke-width: 0.48"/>
</g>
<g id="line2d_80">
<g>
<path d="M 0 0 L 4 0" transform="translate(323.2800 40.5600)" style="stroke: #000000; stroke-width: 0.48"/>
</g>
</g>
<g id="line2d_81">
<g>
<path d="M 0 0 L -4 0" transform="translate(541.2000 40.5600)" style="stroke: #000000; stroke-width: 0.48"/>
</g>
</g>
<g id="text_36">
<text style="font-size: 8px; font-family: 'DejaVu Sans', sans-serif; text-anchor: end" x="319.04" y="42.72" transform="rotate(-0 319.04 42.72)">50</text>
</g>
</g>
<g id="text_37">
<text style="font-size: 8px; font-family: 'DejaVu Sans', sans-serif; text-anchor: middle" x="294.12" y="149.28" transform="rotate(-90 294.12 149.28)">V1(km/s)</text>
</g>
</g>
<g id="text_38">
<!-- $\lambda_1/\lambda_2\approx$44.7 -->
<g transform="translate(329.28 247.728)">
<text>
<tspan x="0" y="-0.25" style="font-size: 9.000px; font-family: 'Liberation Serif', serif; font-style: italic">λ</tspan>
<tspan x="8.971031" y="-0.25" style="font-size: 9.000px; font-family: 'Liberation Serif', serif; font-style: italic">/</tspan>
<tspan x="13.471031" y="-0.25" style="font-size: 9.000px; font-family: 'Liberation Serif', serif; font-style: italic">λ</tspan>
<tspan x="5.24707" y="1.280563" style="font-size: 6.300px; font-family: 'Liberation Serif', serif">1</tspan>
<tspan x="18.718102" y="1.280563" style="font-size: 6.300px; font-family: 'Liberation Serif', serif">2</tspan>
<tspan x="23.5223" y="-0.25" style="font-size: 9.000px; font-family: 'DejaVu Sans', sans-serif">≈</tspan>
<tspan x="34.4943" y="-0.25" style="font-size: 9px; font-family: 'DejaVu Sans', sans-serif">4</tspan>
<tspan x="40.2204" y="-0.25" style="font-size: 9px; font-family: 'DejaVu Sans', sans-serif">4</tspan>
<tspan x="45.9465" y="-0.25" style="font-size: 9px; font-family: 'DejaVu Sans', sans-serif">.</tspan>
<tspan x="48.0573" y="-0.25" style="font-size: 9px; font-family: 'DejaVu Sans', sans-serif">7</tspan>
</text>
</g>
</g>
<g id="text_39">
<text style="font-size: 11.22px; font-family: 'DejaVu Sans', sans-serif; text-anchor: middle" x="432" y="35.32" transform="rotate(-0 432 35.32)">Hodogram(V2_V1 MVAB frame)</text>
</g>
<g id="legend_2">
<g id="patch_13">
<path d="M 483.3600 72.4800 L 537.6000 72.4800 L 537.6000 43.6800 L 483.3600 43.6800 z
" style="fill: #ffffff; stroke: #000000; stroke-linejoin: miter"/>
</g>
<g id="line2d_82">
<path d="M 488.098144 51.3275 L 497.898144 51.3275 " style="fill: none; stroke: #0000ff; stroke-linecap: square"/>
<g>
<path d="M 0 1.5 C 0.397805 1.5 0.77937 1.341951 1.06066 1.06066 C 1.341951 0.77937 1.5 0.397805 1.5 0 C 1.5 -0.397805 1.341951 -0.77937 1.06066 -1.06066 C 0.77937 -1.341951 0.397805 -1.5 0 -1.5 C -0.397805 -1.5 -0.77937 -1.341951 -1.06066 -1.06066 C -1.341951 -0.77937 -1.5 -0.397805 -1.5 0 C -1.5 0.397805 -1.341951 0.77937 -1.06066 1.06066 C -0.77937 1.341951 -0.397805 1.5 0 1.5 z" transform="translate(488.098144 51.3275)" style="fill: #0000ff; stroke: #0000ff; stroke-width: 0.5"/>
<path d="M 0 1.5 C 0.397805 1.5 0.77937 1.341951 1.06066 1.06066 C 1.341951 0.77937 1.5 0.397805 1.5 0 C 1.5 -0.397805 1.341951 -0.77937 1.06066 -1.06066 C 0.77937 -1.341951 0.397805 -1.5 0 -1.5 C -0.397805 -1.5 -0.77937 -1.341951 -1.06066 -1.06066 C -1.341951 -0.77937 -1.5 -0.397805 -1.5 0 C -1.5 0.397805 -1.341951 0.77937 -1.06066 1.06066 C -0.77937 1.341951 -0.397805 1.5 0 1.5 z" transform="translate(497.898144 51.3275)" style="fill: #0000ff; stroke: #0000ff; stroke-width: 0.5"/>
</g>
</g>
<g id="text_40">
<!-- B/$\sqrt{\mu_0\rho}$ -->
<g transform="translate(505.598144 53.7775)">
<text>
<tspan x="0" y="-0.314375" style="font-size: 7px; font-family: 'DejaVu Sans', sans-serif">B</tspan>
<tspan x="4.802246" y="-0.314375" style="font-size: 7px; font-family: 'DejaVu Sans', sans-serif">/</tspan>
<tspan x="7.0606" y="0.9988" style="font-size: 9px; font-family: 'Liberation Serif', serif">√</tspan>
<tspan x="13.691895" y="-0.46875" style="font-size: 7.000px; font-family: 'Liberation Serif', serif; font-style: italic">μ</tspan>
<tspan x="20.802664" y="-0.46875" style="font-size: 7.000px; font-family: 'Liberation Serif', serif; font-style: italic">ρ</tspan>
<tspan x="17.90625" y="0.721687" style="font-size: 4.900px; font-family: 'Liberation Serif', serif">0</tspan>
</text>
<rect x="11.95" y="-6.125" width="13.347293" height="0.4375"/>
</g>
</g>
<g id="line2d_83">
<path d="M 488.098144 63.917 L 497.898144 63.917 " style="fill: none; stroke: #ff0000; stroke-linecap: square"/>
<g>
<path d="M 0 1.5 C 0.397805 1.5 0.77937 1.341951 1.06066 1.06066 C 1.341951 0.77937 1.5 0.397805 1.5 0 C 1.5 -0.397805 1.341951 -0.77937 1.06066 -1.06066 C 0.77937 -1.341951 0.397805 -1.5 0 -1.5 C -0.397805 -1.5 -0.77937 -1.341951 -1.06066 -1.06066 C -1.341951 -0.77937 -1.5 -0.397805 -1.5 0 C -1.5 0.397805 -1.341951 0.77937 -1.06066 1.06066 C -0.77937 1.341951 -0.397805 1.5 0 1.5 z" transform="translate(488.098144 63.917)" style="fill: #ff0000; stroke: #ff0000; stroke-width: 0.5"/>
<path d="M 0 1.5 C 0.397805 1.5 0.77937 1.341951 1.06066 1.06066 C 1.341951 0.77937 1.5 0.397805 1.5 0 C 1.5 -0.397805 1.341951 -0.77937 1.06066 -1.06066 C 0.77937 -1.341951 0.397805 -1.5 0 -1.5 C -0.397805 -1.5 -0.77937 -1.341951 -1.06066 -1.06066 C -1.341951 -0.77937 -1.5 -0.397805 -1.5 0 C -1.5 0.397805 -1.341951 0.77937 -1.06066 1.06066 C -0.77937 1.341951 -0.397805 1.5 0 1.5 z" transform="translate(497.898144 63.917)" style="fill: #ff0000; stroke: #ff0000; stroke-width: 0.5"/>
</g>
</g>
<g id="text_41">
<!-- V$_{remaining}$ -->
<g transform="translate(505.598144 66.367)">
<text>
<tspan x="0" y="-0.890625" style="font-size: 7px; font-family: 'DejaVu Sans', sans-serif">V</tspan>
<tspan x="5.101064" y="0.299812" style="font-size: 4.900px; font-family: 'Liberation Serif', serif; font-style: italic">r</tspan>
<tspan x="7.311806" y="0.299812" style="font-size: 4.900px; font-family: 'Liberation Serif', serif; font-style: italic">e</tspan>
<tspan x="9.589541" y="0.299812" style="font-size: 4.900px; font-family: 'Liberation Serif', serif; font-style: italic">m</tspan>
<tspan x="13.891396" y="0.299812" style="font-size: 4.900px; font-family: 'Liberation Serif', serif; font-style: italic">a</tspan>
<tspan x="16.477773" y="0.299812" style="font-size: 4.900px; font-family: 'Liberation Serif', serif; font-style: italic">i</tspan>
<tspan x="18.164541" y="0.299812" style="font-size: 4.900px; font-family: 'Liberation Serif', serif; font-style: italic">n</tspan>
<tspan x="21.105019" y="0.299812" style="font-size: 4.900px; font-family: 'Liberation Serif', serif; font-style: italic">i</tspan>
<tspan x="22.791787" y="0.299812" style="font-size: 4.900px; font-family: 'Liberation Serif', serif; font-style: italic">n</tspan>
<tspan x="25.732265" y="0.299812" style="font-size: 4.900px; font-family: 'Liberation Serif', serif; font-style: italic">g</tspan>
</text>
</g>
</g>
</g>
</g>
<g id="axes_3">
<g id="patch_14">
<path d="M 589.92 258.24 L 807.84 258.24 L 807.84 40.32 L 589.92 40.32 z
" style="fill: #ffffff"/>
</g>
<g id="line2d_84">
<path d="M 668.88 60.576 L 657.84 78.48 L 643.92 95.712 L 664.512 56.784 L 660.192 63.6 L 634.56 166.704 L 643.92 224.352 L 640.416 218.544 L 642.288 241.44 L 673.152 240.576 L 676.08 213.744 L 664.944 252.72 L 664.512 251.184 " clip-path="url(#pc75b457d42)" style="fill: none; stroke: #0000ff; stroke-linecap: square"/>
<g clip-path="url(#pc75b457d42)">
<path d="M 0 1.5 C 0.397805 1.5 0.77937 1.341951 1.06066 1.06066 C 1.341951 0.77937 1.5 0.397805 1.5 0 C 1.5 -0.397805 1.341951 -0.77937 1.06066 -1.06066 C 0.77937 -1.341951 0.397805 -1.5 0 -1.5 C -0.397805 -1.5 -0.77937 -1.341951 -1.06066 -1.06066 C -1.341951 -0.77937 -1.5 -0.397805 -1.5 0 C -1.5 0.397805 -1.341951 0.77937 -1.06066 1.06066 C -0.77937 1.341951 -0.397805 1.5 0 1.5 z" transform="translate(668.88 60.576)" style="fill: #0000ff; stroke: #0000ff; stroke-width: 0.5"/>
<path d="M 0 1.5 C 0.397805 1.5 0.77937 1.341951 1.06066 1.06066 C 1.341951 0.77937 1.5 0.397805 1.5 0 C 1.5 -0.397805 1.341951 -0.77937 1.06066 -1.06066 C 0.77937 -1.341951 0.397805 -1.5 0 -1.5 C -0.397805 -1.5 -0.77937 -1.341951 -1.06066 -1.06066 C -1.341951 -0.77937 -1.5 -0.397805 -1.5 0 C -1.5 0.397805 -1.341951 0.77937 -1.06066 1.06066 C -0.77937 1.341951 -0.397805 1.5 0 1.5 z" transform="translate(657.84 78.48)" style="fill: #0000ff; stroke: #0000ff; stroke-width: 0.5"/>
<path d="M 0 1.5 C 0.397805 1.5 0.77937 1.341951 1.06066 1.06066 C 1.341951 0.77937 1.5 0.397805 1.5 0 C 1.5 -0.397805 1.341951 -0.77937 1.06066 -1.06066 C 0.77937 -1.341951 0.397805 -1.5 0 -1.5 C -0.397805 -1.5 -0.77937 -1.341951 -1.06066 -1.06066 C -1.341951 -0.77937 -1.5 -0.397805 -1.5 0 C -1.5 0.397805 -1.341951 0.77937 -1.06066 1.06066 C -0.77937 1.341951 -0.397805 1.5 0 1.5 z" transform="translate(643.92 95.712)" style="fill: #0000ff; stroke: #0000ff; stroke-width: 0.5"/>
<path d="M 0 1.5 C 0.397805 1.5 0.77937 1.341951 1.06066 1.06066 C 1.341951 0.77937 1.5 0.397805 1.5 0 C 1.5 -0.397805 1.341951 -0.77937 1.06066 -1.06066 C 0.77937 -1.341951 0.397805 -1.5 0 -1.5 C -0.397805 -1.5 -0.77937 -1.341951 -1.06066 -1.06066 C -1.341951 -0.77937 -1.5 -0.397805 -1.5 0 C -1.5 0.397805 -1.341951 0.77937 -1.06066 1.06066 C -0.77937 1.341951 -0.397805 1.5 0 1.5 z" transform="translate(664.512 56.784)" style="fill: #0000ff; stroke: #0000ff; stroke-width: 0.5"/>
<path d="M 0 1.5 C 0.397805 1.5 0.77937 1.341951 1.06066 1.06066 C 1.341951 0.77937 1.5 0.397805 1.5 0 C 1.5 -0.397805 1.341951 -0.77937 1.06066 -1.06066 C 0.77937 -1.341951 0.397805 -1.5 0 -1.5 C -0.397805 -1.5 -0.77937 -1.341951 -1.06066 -1.06066 C -1.341951 -0.77937 -1.5 -0.397805 -1.5 0 C -1.5 0.397805 -1.341951 0.77937 -1.06066 1.06066 C -0.77937 1.341951 -0.397805 1.5 0 1.5 z" transform="translate(660.192 63.6)" style="fill: #0000ff; stroke: #0000ff; stroke-width: 0.5"/>
<path d="M 0 1.5 C 0.397805 1.5 0.77937 1.341951 1.06066 1.06066 C 1.341951 0.77937 1.5 0.397805 1.5 0 C 1.5 -0.397805 1.341951 -0.77937 1.06066 -1.06066 C 0.77937 -1.341951 0.397805 -1.5 0 -1.5 C -0.397805 -1.5 -0.77937 -1.341951 -1.06066 -1.06066 C -1.341951 -0.77937 -1.5 -0.397805 -1.5 0 C -1.5 0.397805 -1.341951 0.77937 -1.06066 1.06066 C -0.77937 1.341951 -0.397805 1.5 0 1.5 z" transform="translate(634.56 166.704)" style="fill: #0000ff; stroke: #0000ff; stroke-width: 0.5"/>
<path d="M 0 1.5 C 0.397805 1.5 0.77937 1.341951 1.06066 1.06066 C 1.341951 0.77937 1.5 0.397805 1.5 0 C 1.5 -0.397805 1.341951 -0.77937 1.06066 -1.06066 C 0.77937 -1.341951 0.397805 -1.5 0 -1.5 C -0.397805 -1.5 -0.77937 -1.341951 -1.06066 -1.06066 C -1.341951 -0.77937 -1.5 -0.397805 -1.5 0 C -1.5 0.397805 -1.341951 0.77937 -1.06066 1.06066 C -0.77937 1.341951 -0.397805 1.5 0 1.5 z" transform="translate(643.92 224.352)" style="fill: #0000ff; stroke: #0000ff; stroke-width: 0.5"/>
<path d="M 0 1.5 C 0.397805 1.5 0.77937 1.341951 1.06066 1.06066 C 1.341951 0.77937 1.5 0.397805 1.5 0 C 1.5 -0.397805 1.341951 -0.77937 1.06066 -1.06066 C 0.77937 -1.341951 0.397805 -1.5 0 -1.5 C -0.397805 -1.5 -0.77937 -1.341951 -1.06066 -1.06066 C -1.341951 -0.77937 -1.5 -0.397805 -1.5 0 C -1.5 0.397805 -1.341951 0.77937 -1.06066 1.06066 C -0.77937 1.341951 -0.397805 1.5 0 1.5 z" transform="translate(640.416 218.544)" style="fill: #0000ff; stroke: #0000ff; stroke-width: 0.5"/>
<path d="M 0 1.5 C 0.397805 1.5 0.77937 1.341951 1.06066 1.06066 C 1.341951 0.77937 1.5 0.397805 1.5 0 C 1.5 -0.397805 1.341951 -0.77937 1.06066 -1.06066 C 0.77937 -1.341951 0.397805 -1.5 0 -1.5 C -0.397805 -1.5 -0.77937 -1.341951 -1.06066 -1.06066 C -1.341951 -0.77937 -1.5 -0.397805 -1.5 0 C -1.5 0.397805 -1.341951 0.77937 -1.06066 1.06066 C -0.77937 1.341951 -0.397805 1.5 0 1.5 z" transform="translate(642.288 241.44)" style="fill: #0000ff; stroke: #0000ff; stroke-width: 0.5"/>
<path d="M 0 1.5 C 0.397805 1.5 0.77937 1.341951 1.06066 1.06066 C 1.341951 0.77937 1.5 0.397805 1.5 0 C 1.5 -0.397805 1.341951 -0.77937 1.06066 -1.06066 C 0.77937 -1.341951 0.397805 -1.5 0 -1.5 C -0.397805 -1.5 -0.77937 -1.341951 -1.06066 -1.06066 C -1.341951 -0.77937 -1.5 -0.397805 -1.5 0 C -1.5 0.397805 -1.341951 0.77937 -1.06066 1.06066 C -0.77937 1.341951 -0.397805 1.5 0 1.5 z" transform="translate(673.152 240.576)" style="fill: #0000ff; stroke: #0000ff; stroke-width: 0.5"/>
<path d="M 0 1.5 C 0.397805 1.5 0.77937 1.341951 1.06066 1.06066 C 1.341951 0.77937 1.5 0.397805 1.5 0 C 1.5 -0.397805 1.341951 -0.77937 1.06066 -1.06066 C 0.77937 -1.341951 0.397805 -1.5 0 -1.5 C -0.397805 -1.5 -0.77937 -1.341951 -1.06066 -1.06066 C -1.341951 -0.77937 -1.5 -0.397805 -1.5 0 C -1.5 0.397805 -1.341951 0.77937 -1.06066 1.06066 C -0.77937 1.341951 -0.397805 1.5 0 1.5 z" transform="translate(676.08 213.744)" style="fill: #0000ff; stroke: #0000ff; stroke-width: 0.5"/>
<path d="M 0 1.5 C 0.397805 1.5 0.77937 1.341951 1.06066 1.06066 C 1.341951 0.77937 1.5 0.397805 1.5 0 C 1.5 -0.397805 1.341951 -0.77937 1.06066 -1.06066 C 0.77937 -1.341951 0.397805 -1.5 0 -1.5 C -0.397805 -1.5 -0.77937 -1.341951 -1.06066 -1.06066 C -1.341951 -0.77937 -1.5 -0.397805 -1.5 0 C -1.5 0.397805 -1.341951 0.77937 -1.06066 1.06066 C -0.77937 1.341951 -0.397805 1.5 0 1.5 z" transform="translate(664.944 252.72)" style="fill: #0000ff; stroke: #0000ff; stroke-width: 0.5"/>
<path d="M 0 1.5 C 0.397805 1.5 0.77937 1.341951 1.06066 1.06066 C 1.341951 0.77937 1.5 0.397805 1.5 0 C 1.5 -0.397805 1.341951 -0.77937 1.06066 -1.06066 C 0.77937 -1.341951 0.397805 -1.5 0 -1.5 C -0.397805 -1.5 -0.77937 -1.341951 -1.06066 -1.06066 C -1.341951 -0.77937 -1.5 -0.397805 -1.5 0 C -1.5 0.397805 -1.341951 0.77937 -1.06066 1.06066 C -0.77937 1.341951 -0.397805 1.5 0 1.5 z" transform="translate(664.512 251.184)" style="fill: #0000ff; stroke: #0000ff; stroke-width: 0.5"/>
</g>
</g>
<g id="line2d_85">
<path d="M 749.904 120.144 L 757.152 92.928 L 737.952 112.032 L 751.2 95.664 L 767.28 78.432 L 750.72 184.032 L 724.56 227.28 L 716.352 228.192 L 712.944 248.88 L 722.112 243.072 L 724.992 238.272 L 733.152 252.72 L 743.76 216.24 L 722.112 243.072 " clip-path="url(#pc75b457d42)" style="fill: none; stroke: #ff0000; stroke-linecap: square"/>
<g clip-path="url(#pc75b457d42)">
<path d="M 0 1.5 C 0.397805 1.5 0.77937 1.341951 1.06066 1.06066 C 1.341951 0.77937 1.5 0.397805 1.5 0 C 1.5 -0.397805 1.341951 -0.77937 1.06066 -1.06066 C 0.77937 -1.341951 0.397805 -1.5 0 -1.5 C -0.397805 -1.5 -0.77937 -1.341951 -1.06066 -1.06066 C -1.341951 -0.77937 -1.5 -0.397805 -1.5 0 C -1.5 0.397805 -1.341951 0.77937 -1.06066 1.06066 C -0.77937 1.341951 -0.397805 1.5 0 1.5 z" transform="translate(749.904 120.144)" style="fill: #ff0000; stroke: #ff0000; stroke-width: 0.5"/>
<path d="M 0 1.5 C 0.397805 1.5 0.77937 1.341951 1.06066 1.06066 C 1.341951 0.77937 1.5 0.397805 1.5 0 C 1.5 -0.397805 1.341951 -0.77937 1.06066 -1.06066 C 0.77937 -1.341951 0.397805 -1.5 0 -1.5 C -0.397805 -1.5 -0.77937 -1.341951 -1.06066 -1.06066 C -1.341951 -0.77937 -1.5 -0.397805 -1.5 0 C -1.5 0.397805 -1.341951 0.77937 -1.06066 1.06066 C -0.77937 1.341951 -0.397805 1.5 0 1.5 z" transform="translate(757.152 92.928)" style="fill: #ff0000; stroke: #ff0000; stroke-width: 0.5"/>
<path d="M 0 1.5 C 0.397805 1.5 0.77937 1.341951 1.06066 1.06066 C 1.341951 0.77937 1.5 0.397805 1.5 0 C 1.5 -0.397805 1.341951 -0.77937 1.06066 -1.06066 C 0.77937 -1.341951 0.397805 -1.5 0 -1.5 C -0.397805 -1.5 -0.77937 -1.341951 -1.06066 -1.06066 C -1.341951 -0.77937 -1.5 -0.397805 -1.5 0 C -1.5 0.397805 -1.341951 0.77937 -1.06066 1.06066 C -0.77937 1.341951 -0.397805 1.5 0 1.5 z" transform="translate(737.952 112.032)" style="fill: #ff0000; stroke: #ff0000; stroke-width: 0.5"/>
<path d="M 0 1.5 C 0.397805 1.5 0.77937 1.341951 1.06066 1.06066 C 1.341951 0.77937 1.5 0.397805 1.5 0 C 1.5 -0.397805 1.341951 -0.77937 1.06066 -1.06066 C 0.77937 -1.341951 0.397805 -1.5 0 -1.5 C -0.397805 -1.5 -0.77937 -1.341951 -1.06066 -1.06066 C -1.341951 -0.77937 -1.5 -0.397805 -1.5 0 C -1.5 0.397805 -1.341951 0.77937 -1.06066 1.06066 C -0.77937 1.341951 -0.397805 1.5 0 1.5 z" transform="translate(751.2 95.664)" style="fill: #ff0000; stroke: #ff0000; stroke-width: 0.5"/>
<path d="M 0 1.5 C 0.397805 1.5 0.77937 1.341951 1.06066 1.06066 C 1.341951 0.77937 1.5 0.397805 1.5 0 C 1.5 -0.397805 1.341951 -0.77937 1.06066 -1.06066 C 0.77937 -1.341951 0.397805 -1.5 0 -1.5 C -0.397805 -1.5 -0.77937 -1.341951 -1.06066 -1.06066 C -1.341951 -0.77937 -1.5 -0.397805 -1.5 0 C -1.5 0.397805 -1.341951 0.77937 -1.06066 1.06066 C -0.77937 1.341951 -0.397805 1.5 0 1.5 z" transform="translate(767.28 78.432)" style="fill: #ff0000; stroke: #ff0000; stroke-width: 0.5"/>
<path d="M 0 1.5 C 0.397805 1.5 0.77937 1.341951 1.06066 1.06066 C 1.341951 0.77937 1.5 0.397805 1.5 0 C 1.5 -0.397805 1.341951 -0.77937 1.06066 -1.06066 C 0.77937 -1.341951 0.397805 -1.5 0 -1.5 C -0.397805 -1.5 -0.77937 -1.341951 -1.06066 -1.06066 C -1.341951 -0.77937 -1.5 -0.397805 -1.5 0 C -1.5 0.397805 -1.341951 0.77937 -1.06066 1.06066 C -0.77937 1.341951 -0.397805 1.5 0 1.5 z" transform="translate(750.72 184.032)" style="fill: #ff0000; stroke: #ff0000; stroke-width: 0.5"/>
<path d="M 0 1.5 C 0.397805 1.5 0.77937 1.341951 1.06066 1.06066 C 1.341951 0.77937 1.5 0.397805 1.5 0 C 1.5 -0.397805 1.341951 -0.77937 1.06066 -1.06066 C 0.77937 -1.341951 0.397805 -1.5 0 -1.5 C -0.397805 -1.5 -0.77937 -1.341951 -1.06066 -1.06066 C -1.341951 -0.77937 -1.5 -0.397805 -1.5 0 C -1.5 0.397805 -1.341951 0.77937 -1.06066 1.06066 C -0.77937 1.341951 -0.397805 1.5 0 1.5 z" transform="translate(724.56 227.28)" style="fill: #ff0000; stroke: #ff0000; stroke-width: 0.5"/>
<path d="M 0 1.5 C 0.397805 1.5 0.77937 1.341951 1.06066 1.06066 C 1.341951 0.77937 1.5 0.397805 1.5 0 C 1.5 -0.397805 1.341951 -0.77937 1.06066 -1.06066 C 0.77937 -1.341951 0.397805 -1.5 0 -1.5 C -0.397805 -1.5 -0.77937 -1.341951 -1.06066 -1.06066 C -1.341951 -0.77937 -1.5 -0.397805 -1.5 0 C -1.5 0.397805 -1.341951 0.77937 -1.06066 1.06066 C -0.77937 1.341951 -0.397805 1.5 0 1.5 z" transform="translate(716.352 228.192)" style="fill: #ff0000; stroke: #ff0000; stroke-width: 0.5"/>
<path d="M 0 1.5 C 0.397805 1.5 0.77937 1.341951 1.06066 1.06066 C 1.341951 0.77937 1.5 0.397805 1.5 0 C 1.5 -0.397805 1.341951 -0.77937 1.06066 -1.06066 C 0.77937 -1.341951 0.397805 -1.5 0 -1.5 C -0.397805 -1.5 -0.77937 -1.341951 -1.06066 -1.06066 C -1.341951 -0.77937 -1.5 -0.397805 -1.5 0 C -1.5 0.397805 -1.341951 0.77937 -1.06066 1.06066 C -0.77937 1.341951 -0.397805 1.5 0 1.5 z" transform="translate(712.944 248.88)" style="fill: #ff0000; stroke: #ff0000; stroke-width: 0.5"/>
<path d="M 0 1.5 C 0.397805 1.5 0.77937 1.341951 1.06066 1.06066 C 1.341951 0.77937 1.5 0.397805 1.5 0 C 1.5 -0.397805 1.341951 -0.77937 1.06066 -1.06066 C 0.77937 -1.341951 0.397805 -1.5 0 -1.5 C -0.397805 -1.5 -0.77937 -1.341951 -1.06066 -1.06066 C -1.341951 -0.77937 -1.5 -0.397805 -1.5 0 C -1.5 0.397805 -1.341951 0.77937 -1.06066 1.06066 C -0.77937 1.341951 -0.397805 1.5 0 1.5 z" transform="translate(722.112 243.072)" style="fill: #ff0000; stroke: #ff0000; stroke-width: 0.5"/>
<path d="M 0 1.5 C 0.397805 1.5 0.77937 1.341951 1.06066 1.06066 C 1.341951 0.77937 1.5 0.397805 1.5 0 C 1.5 -0.397805 1.341951 -0.77937 1.06066 -1.06066 C 0.77937 -1.341951 0.397805 -1.5 0 -1.5 C -0.397805 -1.5 -0.77937 -1.341951 -1.06066 -1.06066 C -1.341951 -0.77937 -1.5 -0.397805 -1.5 0 C -1.5 0.397805 -1.341951 0.77937 -1.06066 1.06066 C -0.77937 1.341951 -0.397805 1.5 0 1.5 z" transform="translate(724.992 238.272)" style="fill: #ff0000; stroke: #ff0000; stroke-width: 0.5"/>
<path d="M 0 1.5 C 0.397805 1.5 0.77937 1.341951 1.06066 1.06066 C 1.341951 0.77937 1.5 0.397805 1.5 0 C 1.5 -0.397805 1.341951 -0.77937 1.06066 -1.06066 C 0.77937 -1.341951 0.397805 -1.5 0 -1.5 C -0.397805 -1.5 -0.77937 -1.341951 -1.06066 -1.06066 C -1.341951 -0.77937 -1.5 -0.397805 -1.5 0 C -1.5 0.397805 -1.341951 0.77937 -1.06066 1.06066 C -0.77937 1.341951 -0.397805 1.5 0 1.5 z" transform="translate(733.152 252.72)" style="fill: #ff0000; stroke: #ff0000; stroke-width: 0.5"/>
<path d="M 0 1.5 C 0.397805 1.5 0.77937 1.341951 1.06066 1.06066 C 1.341951 0.77937 1.5 0.397805 1.5 0 C 1.5 -0.397805 1.341951 -0.77937 1.06066 -1.06066 C 0.77937 -1.341951 0.397805 -1.5 0 -1.5 C -0.397805 -1.5 -0.77937 -1.341951 -1.06066 -1.06066 C -1.341951 -0.77937 -1.5 -0.397805 -1.5 0 C -1.5 0.397805 -1.341951 0.77937 -1.06066 1.06066 C -0.77937 1.341951 -0.397805 1.5 0 1.5 z" transform="translate(743.76 216.24)" style="fill: #ff0000; stroke: #ff0000; stroke-width: 0.5"/>
<path d="M 0 1.5 C 0.397805 1.5 0.77937 1.341951 1.06066 1.06066 C 1.341951 0.77937 1.5 0.397805 1.5 0 C 1.5 -0.397805 1.341951 -0.77937 1.06066 -1.06066 C 0.77937 -1.341951 0.397805 -1.5 0 -1.5 C -0.397805 -1.5 -0.77937 -1.341951 -1.06066 -1.06066 C -1.341951 -0.77937 -1.5 -0.397805 -1.5 0 C -1.5 0.397805 -1.341951 0.77937 -1.06066 1.06066 C -0.77937 1.341951 -0.397805 1.5 0 1.5 z" transform="translate(722.112 243.072)" style="fill: #ff0000; stroke: #ff0000; stroke-width: 0.5"/>
</g>
</g>
<g id="patch_15">
<path d="M 589.9200 258.2400 L 589.9200 40.3200 " style="fill: none; stroke: #000000; stroke-width: 0.96; stroke-linejoin: miter; stroke-linecap: square"/>
</g>
<g id="patch_16">
<path d="M 807.8400 258.2400 L 807.8400 40.3200 " style="fill: none; stroke: #000000; stroke-width: 0.96; stroke-linejoin: miter; stroke-linecap: square"/>
</g>
<g id="patch_17">
<path d="M 589.9200 258.2400 L 807.8400 258.2400 " style="fill: none; stroke: #000000; stroke-width: 0.96; stroke-linejoin: miter; stroke-linecap: square"/>
</g>
<g id="patch_18">
<path d="M 589.9200 40.3200 L 807.8400 40.3200 " style="fill: none; stroke: #000000; stroke-width: 0.96; stroke-linejoin: miter; stroke-linecap: square"/>
</g>
<g id="matplotlib.axis_5">
<g id="xtick_14">
<g id="line2d_86">
<path d="M 597.8400 258.2400 L 597.8400 40.3200 " clip-path="url(#pc75b457d42)" style="fill: none; stroke-dasharray: 1,3; stroke-dashoffset: 0; stroke: #000000; stroke-width: 0.48"/>
</g>
<g id="line2d_87">
<g>
<path d="M 0 0 L 0 -4" transform="translate(597.8400 258.4800)" style="stroke: #000000; stroke-width: 0.48"/>
</g>
</g>
<g id="line2d_88">
<g>
<path d="M 0 0 L 0 4" transform="translate(597.8400 40.5600)" style="stroke: #000000; stroke-width: 0.48"/>
</g>
</g>
<g id="text_42">
<text style="font-size: 8px; font-family: 'DejaVu Sans', sans-serif; text-anchor: middle" x="597.702857" y="268.96" transform="rotate(-0 597.702857 268.96)">−150</text>
</g>
</g>
<g id="xtick_15">
<g id="line2d_89">
<path d="M 629.0400 258.2400 L 629.0400 40.3200 " clip-path="url(#pc75b457d42)" style="fill: none; stroke-dasharray: 1,3; stroke-dashoffset: 0; stroke: #000000; stroke-width: 0.48"/>
</g>
<g id="line2d_90">
<g>
<path d="M 0 0 L 0 -4" transform="translate(629.0400 258.4800)" style="stroke: #000000; stroke-width: 0.48"/>
</g>
</g>
<g id="line2d_91">
<g>
<path d="M 0 0 L 0 4" transform="translate(629.0400 40.5600)" style="stroke: #000000; stroke-width: 0.48"/>
</g>
</g>
<g id="text_43">
<text style="font-size: 8px; font-family: 'DejaVu Sans', sans-serif; text-anchor: middle" x="628.834286" y="268.96" transform="rotate(-0 628.834286 268.96)">−140</text>
</g>
</g>
<g id="xtick_16">
<g id="line2d_92">
<path d="M 660.2400 258.2400 L 660.2400 40.3200 " clip-path="url(#pc75b457d42)" style="fill: none; stroke-dasharray: 1,3; stroke-dashoffset: 0; stroke: #000000; stroke-width: 0.48"/>
</g>
<g id="line2d_93">
<g>
<path d="M 0 0 L 0 -4" transform="translate(660.2400 258.4800)" style="stroke: #000000; stroke-width: 0.48"/>
</g>
</g>
<g id="line2d_94">
<g>
<path d="M 0 0 L 0 4" transform="translate(660.2400 40.5600)" style="stroke: #000000; stroke-width: 0.48"/>
</g>
</g>
<g id="text_44">
<text style="font-size: 8px; font-family: 'DejaVu Sans', sans-serif; text-anchor: middle" x="659.965714" y="268.96" transform="rotate(-0 659.965714 268.96)">−130</text>
</g>
</g>
<g id="xtick_17">
<g id="line2d_95">
<path d="M 691.4400 258.2400 L 691.4400 40.3200 " clip-path="url(#pc75b457d42)" style="fill: none; stroke-dasharray: 1,3; stroke-dashoffset: 0; stroke: #000000; stroke-width: 0.48"/>
</g>
<g id="line2d_96">
<g>
<path d="M 0 0 L 0 -4" transform="translate(691.4400 258.4800)" style="stroke: #000000; stroke-width: 0.48"/>
</g>
</g>
<g id="line2d_97">
<g>
<path d="M 0 0 L 0 4" transform="translate(691.4400 40.5600)" style="stroke: #000000; stroke-width: 0.48"/>
</g>
</g>
<g id="text_45">
<text style="font-size: 8px; font-family: 'DejaVu Sans', sans-serif; text-anchor: middle" x="691.097143" y="268.96" transform="rotate(-0 691.097143 268.96)">−120</text>
</g>
</g>
<g id="xtick_18">
<g id="line2d_98">
<path d="M 722.6400 258.2400 L 722.6400 40.3200 " clip-path="url(#pc75b457d42)" style="fill: none; stroke-dasharray: 1,3; stroke-dashoffset: 0; stroke: #000000; stroke-width: 0.48"/>
</g>
<g id="line2d_99">
<g>
<path d="M 0 0 L 0 -4" transform="translate(722.6400 258.4800)" style="stroke: #000000; stroke-width: 0.48"/>
</g>
</g>
<g id="line2d_100">
<g>
<path d="M 0 0 L 0 4" transform="translate(722.6400 40.5600)" style="stroke: #000000; stroke-width: 0.48"/>
</g>
</g>
<g id="text_46">
<text style="font-size: 8px; font-family: 'DejaVu Sans', sans-serif; text-anchor: middle" x="722.228571" y="268.96" transform="rotate(-0 722.228571 268.96)">−110</text>
</g>
</g>
<g id="xtick_19">
<g id="line2d_101">
<path d="M 753.8400 258.2400 L 753.8400 40.3200 " clip-path="url(#pc75b457d42)" style="fill: none; stroke-dasharray: 1,3; stroke-dashoffset: 0; stroke: #000000; stroke-width: 0.48"/>
</g>
<g id="line2d_102">
<g>
<path d="M 0 0 L 0 -4" transform="translate(753.8400 258.4800)" style="stroke: #000000; stroke-width: 0.48"/>
</g>
</g>
<g id="line2d_103">
<g>
<path d="M 0 0 L 0 4" transform="translate(753.8400 40.5600)" style="stroke: #000000; stroke-width: 0.48"/>
</g>
</g>
<g id="text_47">
<text style="font-size: 8px; font-family: 'DejaVu Sans', sans-serif; text-anchor: middle" x="753.36" y="268.96" transform="rotate(-0 753.36 268.96)">−100</text>
</g>
</g>
<g id="xtick_20">
<g id="line2d_104">
<path d="M 784.5600 258.2400 L 784.5600 40.3200 " clip-path="url(#pc75b457d42)" style="fill: none; stroke-dasharray: 1,3; stroke-dashoffset: 0; stroke: #000000; stroke-width: 0.48"/>
</g>
<g id="line2d_105">
<g>
<path d="M 0 0 L 0 -4" transform="translate(784.5600 258.4800)" style="stroke: #000000; stroke-width: 0.48"/>
</g>
</g>
<g id="line2d_106">
<g>
<path d="M 0 0 L 0 4" transform="translate(784.5600 40.5600)" style="stroke: #000000; stroke-width: 0.48"/>
</g>
</g>
<g id="text_48">
<text style="font-size: 8px; font-family: 'DejaVu Sans', sans-serif; text-anchor: middle" x="784.491429" y="268.96" transform="rotate(-0 784.491429 268.96)">−90</text>
</g>
</g>
<g id="text_49">
<text style="font-size: 8px; font-family: 'DejaVu Sans', sans-serif; text-anchor: middle" x="698.88" y="281.6" transform="rotate(-0 698.88 281.6)">V3(km/s)</text>
</g>
</g>
<g id="matplotlib.axis_6">
<g id="ytick_18">
<g id="line2d_107">
<path d="M 589.9200 258.4800 L 807.8400 258.4800 " clip-path="url(#pc75b457d42)" style="fill: none; stroke-dasharray: 1,3; stroke-dashoffset: 0; stroke: #000000; stroke-width: 0.48"/>
</g>
<g id="line2d_108">
<g>
<path d="M 0 0 L 4 0" transform="translate(590.1600 258.4800)" style="stroke: #000000; stroke-width: 0.48"/>
</g>
</g>
<g id="line2d_109">
<g>
<path d="M 0 0 L -4 0" transform="translate(808.0800 258.4800)" style="stroke: #000000; stroke-width: 0.48"/>
</g>
</g>
<g id="text_50">
<text style="font-size: 8px; font-family: 'DejaVu Sans', sans-serif; text-anchor: end" x="585.92" y="260.64" transform="rotate(-0 585.92 260.64)">−20</text>
</g>
</g>
<g id="ytick_19">
<g id="line2d_110">
<path d="M 589.9200 227.2800 L 807.8400 227.2800 " clip-path="url(#pc75b457d42)" style="fill: none; stroke-dasharray: 1,3; stroke-dashoffset: 0; stroke: #000000; stroke-width: 0.48"/>
</g>
<g id="line2d_111">
<g>
<path d="M 0 0 L 4 0" transform="translate(590.1600 227.2800)" style="stroke: #000000; stroke-width: 0.48"/>
</g>
</g>
<g id="line2d_112">
<g>
<path d="M 0 0 L -4 0" transform="translate(808.0800 227.2800)" style="stroke: #000000; stroke-width: 0.48"/>
</g>
</g>
<g id="text_51">
<text style="font-size: 8px; font-family: 'DejaVu Sans', sans-serif; text-anchor: end" x="585.92" y="229.508571" transform="rotate(-0 585.92 229.508571)">−10</text>
</g>
</g>
<g id="ytick_20">
<g id="line2d_113">
<path d="M 589.9200 196.0800 L 807.8400 196.0800 " clip-path="url(#pc75b457d42)" style="fill: none; stroke-dasharray: 1,3; stroke-dashoffset: 0; stroke: #000000; stroke-width: 0.48"/>
</g>
<g id="line2d_114">
<g>
<path d="M 0 0 L 4 0" transform="translate(590.1600 196.0800)" style="stroke: #000000; stroke-width: 0.48"/>
</g>
</g>
<g id="line2d_115">
<g>
<path d="M 0 0 L -4 0" transform="translate(808.0800 196.0800)" style="stroke: #000000; stroke-width: 0.48"/>
</g>
</g>
<g id="text_52">
<text style="font-size: 8px; font-family: 'DejaVu Sans', sans-serif; text-anchor: end" x="585.92" y="198.377143" transform="rotate(-0 585.92 198.377143)">0</text>
</g>
</g>
<g id="ytick_21">
<g id="line2d_116">
<path d="M 589.9200 164.8800 L 807.8400 164.8800 " clip-path="url(#pc75b457d42)" style="fill: none; stroke-dasharray: 1,3; stroke-dashoffset: 0; stroke: #000000; stroke-width: 0.48"/>
</g>
<g id="line2d_117">
<g>
<path d="M 0 0 L 4 0" transform="translate(590.1600 164.8800)" style="stroke: #000000; stroke-width: 0.48"/>
</g>
</g>
<g id="line2d_118">
<g>
<path d="M 0 0 L -4 0" transform="translate(808.0800 164.8800)" style="stroke: #000000; stroke-width: 0.48"/>
</g>
</g>
<g id="text_53">
<text style="font-size: 8px; font-family: 'DejaVu Sans', sans-serif; text-anchor: end" x="585.92" y="167.245714" transform="rotate(-0 585.92 167.245714)">10</text>
</g>
</g>
<g id="ytick_22">
<g id="line2d_119">
<path d="M 589.9200 134.1600 L 807.8400 134.1600 " clip-path="url(#pc75b457d42)" style="fill: none; stroke-dasharray: 1,3; stroke-dashoffset: 0; stroke: #000000; stroke-width: 0.48"/>
</g>
<g id="line2d_120">
<g>
<path d="M 0 0 L 4 0" transform="translate(590.1600 134.1600)" style="stroke: #000000; stroke-width: 0.48"/>
</g>
</g>
<g id="line2d_121">
<g>
<path d="M 0 0 L -4 0" transform="translate(808.0800 134.1600)" style="stroke: #000000; stroke-width: 0.48"/>
</g>
</g>
<g id="text_54">
<text style="font-size: 8px; font-family: 'DejaVu Sans', sans-serif; text-anchor: end" x="585.92" y="136.114286" transform="rotate(-0 585.92 136.114286)">20</text>
</g>
</g>
<g id="ytick_23">
<g id="line2d_122">
<path d="M 589.9200 102.9600 L 807.8400 102.9600 " clip-path="url(#pc75b457d42)" style="fill: none; stroke-dasharray: 1,3; stroke-dashoffset: 0; stroke: #000000; stroke-width: 0.48"/>
</g>
<g id="line2d_123">
<g>
<path d="M 0 0 L 4 0" transform="translate(590.1600 102.9600)" style="stroke: #000000; stroke-width: 0.48"/>
</g>
</g>
<g id="line2d_124">
<g>
<path d="M 0 0 L -4 0" transform="translate(808.0800 102.9600)" style="stroke: #000000; stroke-width: 0.48"/>
</g>
</g>
<g id="text_55">
<text style="font-size: 8px; font-family: 'DejaVu Sans', sans-serif; text-anchor: end" x="585.92" y="104.982857" transform="rotate(-0 585.92 104.982857)">30</text>
</g>
</g>
<g id="ytick_24">
<g id="line2d_125">
<path d="M 589.9200 71.7600 L 807.8400 71.7600 " clip-path="url(#pc75b457d42)" style="fill: none; stroke-dasharray: 1,3; stroke-dashoffset: 0; stroke: #000000; stroke-width: 0.48"/>
</g>
<g id="line2d_126">
<g>
<path d="M 0 0 L 4 0" transform="translate(590.1600 71.7600)" style="stroke: #000000; stroke-width: 0.48"/>
</g>
</g>
<g id="line2d_127">
<g>
<path d="M 0 0 L -4 0" transform="translate(808.0800 71.7600)" style="stroke: #000000; stroke-width: 0.48"/>
</g>
</g>
<g id="text_56">
<text style="font-size: 8px; font-family: 'DejaVu Sans', sans-serif; text-anchor: end" x="585.92" y="73.851429" transform="rotate(-0 585.92 73.851429)">40</text>
</g>
</g>
<g id="ytick_25">
<g id="line2d_128">
<path d="M 589.9200 40.5600 L 807.8400 40.5600 " clip-path="url(#pc75b457d42)" style="fill: none; stroke-dasharray: 1,3; stroke-dashoffset: 0; stroke: #000000; stroke-width: 0.48"/>
</g>
<g id="line2d_129">
<g>
<path d="M 0 0 L 4 0" transform="translate(590.1600 40.5600)" style="stroke: #000000; stroke-width: 0.48"/>
</g>
</g>
<g id="line2d_130">
<g>
<path d="M 0 0 L -4 0" transform="translate(808.0800 40.5600)" style="stroke: #000000; stroke-width: 0.48"/>
</g>
</g>
<g id="text_57">
<text style="font-size: 8px; font-family: 'DejaVu Sans', sans-serif; text-anchor: end" x="585.92" y="42.72" transform="rotate(-0 585.92 42.72)">50</text>
</g>
</g>
<g id="text_58">
<text style="font-size: 8px; font-family: 'DejaVu Sans', sans-serif; text-anchor: middle" x="561" y="149.28" transform="rotate(-90 561 149.28)">V1(km/s)</text>
</g>
</g>
<g id="text_59">
<!-- $\lambda_1/\lambda_3\approx$124.6 -->
<g transform="translate(605.76 247.728)">
<text>
<tspan x="0" y="-0.25" style="font-size: 9.000px; font-family: 'Liberation Serif', serif; font-style: italic">λ</tspan>
<tspan x="8.971031" y="-0.25" style="font-size: 9.000px; font-family: 'Liberation Serif', serif; font-style: italic">/</tspan>
<tspan x="13.471031" y="-0.25" style="font-size: 9.000px; font-family: 'Liberation Serif', serif; font-style: italic">λ</tspan>
<tspan x="5.24707" y="1.280563" style="font-size: 6.300px; font-family: 'Liberation Serif', serif">1</tspan>
<tspan x="18.718102" y="1.280563" style="font-size: 6.300px; font-family: 'Liberation Serif', serif">3</tspan>
<tspan x="23.5223" y="-0.25" style="font-size: 9.000px; font-family: 'DejaVu Sans', sans-serif">≈</tspan>
<tspan x="34.4943" y="-0.25" style="font-size: 9px; font-family: 'DejaVu Sans', sans-serif">1</tspan>
<tspan x="40.2204" y="-0.25" style="font-size: 9px; font-family: 'DejaVu Sans', sans-serif">2</tspan>
<tspan x="45.9465" y="-0.25" style="font-size: 9px; font-family: 'DejaVu Sans', sans-serif">4</tspan>
<tspan x="51.6725" y="-0.25" style="font-size: 9px; font-family: 'DejaVu Sans', sans-serif">.</tspan>
<tspan x="54.5334" y="-0.25" style="font-size: 9px; font-family: 'DejaVu Sans', sans-serif">6</tspan>
</text>
</g>
</g>
<g id="text_60">
<text style="font-size: 11.22px; font-family: 'DejaVu Sans', sans-serif; text-anchor: middle" x="698.88" y="35.32" transform="rotate(-0 698.88 35.32)">Hodogram(V3_V1 MVAB frame)</text>
</g>
<g id="legend_3">
<g id="patch_19">
<path d="M 750.2400 72.4800 L 804.4800 72.4800 L 804.4800 43.6800 L 750.2400 43.6800 z
" style="fill: #ffffff; stroke: #000000; stroke-linejoin: miter"/>
</g>
<g id="line2d_131">
<path d="M 754.978144 51.3275 L 764.778144 51.3275 " style="fill: none; stroke: #0000ff; stroke-linecap: square"/>
<g>
<path d="M 0 1.5 C 0.397805 1.5 0.77937 1.341951 1.06066 1.06066 C 1.341951 0.77937 1.5 0.397805 1.5 0 C 1.5 -0.397805 1.341951 -0.77937 1.06066 -1.06066 C 0.77937 -1.341951 0.397805 -1.5 0 -1.5 C -0.397805 -1.5 -0.77937 -1.341951 -1.06066 -1.06066 C -1.341951 -0.77937 -1.5 -0.397805 -1.5 0 C -1.5 0.397805 -1.341951 0.77937 -1.06066 1.06066 C -0.77937 1.341951 -0.397805 1.5 0 1.5 z" transform="translate(754.978144 51.3275)" style="fill: #0000ff; stroke: #0000ff; stroke-width: 0.5"/>
<path d="M 0 1.5 C 0.397805 1.5 0.77937 1.341951 1.06066 1.06066 C 1.341951 0.77937 1.5 0.397805 1.5 0 C 1.5 -0.397805 1.341951 -0.77937 1.06066 -1.06066 C 0.77937 -1.341951 0.397805 -1.5 0 -1.5 C -0.397805 -1.5 -0.77937 -1.341951 -1.06066 -1.06066 C -1.341951 -0.77937 -1.5 -0.397805 -1.5 0 C -1.5 0.397805 -1.341951 0.77937 -1.06066 1.06066 C -0.77937 1.341951 -0.397805 1.5 0 1.5 z" transform="translate(764.778144 51.3275)" style="fill: #0000ff; stroke: #0000ff; stroke-width: 0.5"/>
</g>
</g>
<g id="text_61">
<!-- B/$\sqrt{\mu_0\rho}$ -->
<g transform="translate(772.478144 53.7775)">
<text>
<tspan x="0" y="-0.314375" style="font-size: 7px; font-family: 'DejaVu Sans', sans-serif">B</tspan>
<tspan x="4.802246" y="-0.314375" style="font-size: 7px; font-family: 'DejaVu Sans', sans-serif">/</tspan>
<tspan x="7.0606" y="0.9988" style="font-size: 9px; font-family: 'Liberation Serif', serif">√</tspan>
<tspan x="13.691895" y="-0.46875" style="font-size: 7.000px; font-family: 'Liberation Serif', serif; font-style: italic">μ</tspan>
<tspan x="20.802664" y="-0.46875" style="font-size: 7.000px; font-family: 'Liberation Serif', serif; font-style: italic">ρ</tspan>
<tspan x="17.90625" y="0.721687" style="font-size: 4.900px; font-family: 'Liberation Serif', serif">0</tspan>
</text>
<rect x="11.95" y="-6.125" width="13.347293" height="0.4375"/>
</g>
</g>
<g id="line2d_132">
<path d="M 754.978144 63.917 L 764.778144 63.917 " style="fill: none; stroke: #ff0000; stroke-linecap: square"/>
<g>
<path d="M 0 1.5 C 0.397805 1.5 0.77937 1.341951 1.06066 1.06066 C 1.341951 0.77937 1.5 0.397805 1.5 0 C 1.5 -0.397805 1.341951 -0.77937 1.06066 -1.06066 C 0.77937 -1.341951 0.397805 -1.5 0 -1.5 C -0.397805 -1.5 -0.77937 -1.341951 -1.06066 -1.06066 C -1.341951 -0.77937 -1.5 -0.397805 -1.5 0 C -1.5 0.397805 -1.341951 0.77937 -1.06066 1.06066 C -0.77937 1.341951 -0.397805 1.5 0 1.5 z" transform="translate(754.978144 63.917)" style="fill: #ff0000; stroke: #ff0000; stroke-width: 0.5"/>
<path d="M 0 1.5 C 0.397805 1.5 0.77937 1.341951 1.06066 1.06066 C 1.341951 0.77937 1.5 0.397805 1.5 0 C 1.5 -0.397805 1.341951 -0.77937 1.06066 -1.06066 C 0.77937 -1.341951 0.397805 -1.5 0 -1.5 C -0.397805 -1.5 -0.77937 -1.341951 -1.06066 -1.06066 C -1.341951 -0.77937 -1.5 -0.397805 -1.5 0 C -1.5 0.397805 -1.341951 0.77937 -1.06066 1.06066 C -0.77937 1.341951 -0.397805 1.5 0 1.5 z" transform="translate(764.778144 63.917)" style="fill: #ff0000; stroke: #ff0000; stroke-width: 0.5"/>
</g>
</g>
<g id="text_62">
<!-- V$_{remaining}$ -->
<g transform="translate(772.478144 66.367)">
<text>
<tspan x="0" y="-0.890625" style="font-size: 7px; font-family: 'DejaVu Sans', sans-serif">V</tspan>
<tspan x="5.101064" y="0.299812" style="font-size: 4.900px; font-family: 'Liberation Serif', serif; font-style: italic">r</tspan>
<tspan x="7.311806" y="0.299812" style="font-size: 4.900px; font-family: 'Liberation Serif', serif; font-style: italic">e</tspan>
<tspan x="9.589541" y="0.299812" style="font-size: 4.900px; font-family: 'Liberation Serif', serif; font-style: italic">m</tspan>
<tspan x="13.891396" y="0.299812" style="font-size: 4.900px; font-family: 'Liberation Serif', serif; font-style: italic">a</tspan>
<tspan x="16.477773" y="0.299812" style="font-size: 4.900px; font-family: 'Liberation Serif', serif; font-style: italic">i</tspan>
<tspan x="18.164541" y="0.299812" style="font-size: 4.900px; font-family: 'Liberation Serif', serif; font-style: italic">n</tspan>
<tspan x="21.105019" y="0.299812" style="font-size: 4.900px; font-family: 'Liberation Serif', serif; font-style: italic">i</tspan>
<tspan x="22.791787" y="0.299812" style="font-size: 4.900px; font-family: 'Liberation Serif', serif; font-style: italic">n</tspan>
<tspan x="25.732265" y="0.299812" style="font-size: 4.900px; font-family: 'Liberation Serif', serif; font-style: italic">g</tspan>
</text>
</g>
</g>
</g>
</g>
<g id="axes_4">
<g id="patch_20">
<path d="M 56.16 535.68 L 274.08 535.68 L 274.08 317.76 L 56.16 317.76 z
" style="fill: #ffffff"/>
</g>
<g id="PathCollection_1">
<g clip-path="url(#p6fa958b996)">
<path d="M 0 2.645751 C 0.701661 2.645751 1.374679 2.366978 1.870829 1.870829 C 2.366978 1.374679 2.645751 0.701661 2.645751 -0 C 2.645751 -0.701661 2.366978 -1.374679 1.870829 -1.870829 C 1.374679 -2.366978 0.701661 -2.645751 0 -2.645751 C -0.701661 -2.645751 -1.374679 -2.366978 -1.870829 -1.870829 C -2.366978 -1.374679 -2.645751 -0.701661 -2.645751 0 C -2.645751 0.701661 -2.366978 1.374679 -1.870829 1.870829 C -1.374679 2.366978 -0.701661 2.645751 0 2.645751 z" transform="translate(53.28 509.76)" style="fill: #ff0000"/>
</g>
<g clip-path="url(#p6fa958b996)">
<path d="M 0 2.645751 C 0.701661 2.645751 1.374679 2.366978 1.870829 1.870829 C 2.366978 1.374679 2.645751 0.701661 2.645751 -0 C 2.645751 -0.701661 2.366978 -1.374679 1.870829 -1.870829 C 1.374679 -2.366978 0.701661 -2.645751 0 -2.645751 C -0.701661 -2.645751 -1.374679 -2.366978 -1.870829 -1.870829 C -2.366978 -1.374679 -2.645751 -0.701661 -2.645751 0 C -2.645751 0.701661 -2.366978 1.374679 -1.870829 1.870829 C -1.374679 2.366978 -0.701661 2.645751 0 2.645751 z" transform="translate(54.24 517.44)" style="fill: #ff0000"/>
</g>
<g clip-path="url(#p6fa958b996)">
<path d="M 0 2.645751 C 0.701661 2.645751 1.374679 2.366978 1.870829 1.870829 C 2.366978 1.374679 2.645751 0.701661 2.645751 -0 C 2.645751 -0.701661 2.366978 -1.374679 1.870829 -1.870829 C 1.374679 -2.366978 0.701661 -2.645751 0 -2.645751 C -0.701661 -2.645751 -1.374679 -2.366978 -1.870829 -1.870829 C -2.366978 -1.374679 -2.645751 -0.701661 -2.645751 0 C -2.645751 0.701661 -2.366978 1.374679 -1.870829 1.870829 C -1.374679 2.366978 -0.701661 2.645751 0 2.645751 z" transform="translate(59.136 511.584)" style="fill: #ff0000"/>
</g>
<g clip-path="url(#p6fa958b996)">
<path d="M 0 2.645751 C 0.701661 2.645751 1.374679 2.366978 1.870829 1.870829 C 2.366978 1.374679 2.645751 0.701661 2.645751 -0 C 2.645751 -0.701661 2.366978 -1.374679 1.870829 -1.870829 C 1.374679 -2.366978 0.701661 -2.645751 0 -2.645751 C -0.701661 -2.645751 -1.374679 -2.366978 -1.870829 -1.870829 C -2.366978 -1.374679 -2.645751 -0.701661 -2.645751 0 C -2.645751 0.701661 -2.366978 1.374679 -1.870829 1.870829 C -1.374679 2.366978 -0.701661 2.645751 0 2.645751 z" transform="translate(59.712 515.568)" style="fill: #ff0000"/>
</g>
<g clip-path="url(#p6fa958b996)">
<path d="M 0 2.645751 C 0.701661 2.645751 1.374679 2.366978 1.870829 1.870829 C 2.366978 1.374679 2.645751 0.701661 2.645751 -0 C 2.645751 -0.701661 2.366978 -1.374679 1.870829 -1.870829 C 1.374679 -2.366978 0.701661 -2.645751 0 -2.645751 C -0.701661 -2.645751 -1.374679 -2.366978 -1.870829 -1.870829 C -2.366978 -1.374679 -2.645751 -0.701661 -2.645751 0 C -2.645751 0.701661 -2.366978 1.374679 -1.870829 1.870829 C -1.374679 2.366978 -0.701661 2.645751 0 2.645751 z" transform="translate(59.712 519.936)" style="fill: #ff0000"/>
</g>
<g clip-path="url(#p6fa958b996)">
<path d="M 0 2.645751 C 0.701661 2.645751 1.374679 2.366978 1.870829 1.870829 C 2.366978 1.374679 2.645751 0.701661 2.645751 -0 C 2.645751 -0.701661 2.366978 -1.374679 1.870829 -1.870829 C 1.374679 -2.366978 0.701661 -2.645751 0 -2.645751 C -0.701661 -2.645751 -1.374679 -2.366978 -1.870829 -1.870829 C -2.366978 -1.374679 -2.645751 -0.701661 -2.645751 0 C -2.645751 0.701661 -2.366978 1.374679 -1.870829 1.870829 C -1.374679 2.366978 -0.701661 2.645751 0 2.645751 z" transform="translate(77.424 496.992)" style="fill: #ff0000"/>
</g>
<g clip-path="url(#p6fa958b996)">
<path d="M 0 2.645751 C 0.701661 2.645751 1.374679 2.366978 1.870829 1.870829 C 2.366978 1.374679 2.645751 0.701661 2.645751 -0 C 2.645751 -0.701661 2.366978 -1.374679 1.870829 -1.870829 C 1.374679 -2.366978 0.701661 -2.645751 0 -2.645751 C -0.701661 -2.645751 -1.374679 -2.366978 -1.870829 -1.870829 C -2.366978 -1.374679 -2.645751 -0.701661 -2.645751 0 C -2.645751 0.701661 -2.366978 1.374679 -1.870829 1.870829 C -1.374679 2.366978 -0.701661 2.645751 0 2.645751 z" transform="translate(79.344 504.192)" style="fill: #ff0000"/>
</g>
<g clip-path="url(#p6fa958b996)">
<path d="M 0 2.645751 C 0.701661 2.645751 1.374679 2.366978 1.870829 1.870829 C 2.366978 1.374679 2.645751 0.701661 2.645751 -0 C 2.645751 -0.701661 2.366978 -1.374679 1.870829 -1.870829 C 1.374679 -2.366978 0.701661 -2.645751 0 -2.645751 C -0.701661 -2.645751 -1.374679 -2.366978 -1.870829 -1.870829 C -2.366978 -1.374679 -2.645751 -0.701661 -2.645751 0 C -2.645751 0.701661 -2.366978 1.374679 -1.870829 1.870829 C -1.374679 2.366978 -0.701661 2.645751 0 2.645751 z" transform="translate(82.32 502.848)" style="fill: #ff0000"/>
</g>
<g clip-path="url(#p6fa958b996)">
<path d="M 0 2.645751 C 0.701661 2.645751 1.374679 2.366978 1.870829 1.870829 C 2.366978 1.374679 2.645751 0.701661 2.645751 -0 C 2.645751 -0.701661 2.366978 -1.374679 1.870829 -1.870829 C 1.374679 -2.366978 0.701661 -2.645751 0 -2.645751 C -0.701661 -2.645751 -1.374679 -2.366978 -1.870829 -1.870829 C -2.366978 -1.374679 -2.645751 -0.701661 -2.645751 0 C -2.645751 0.701661 -2.366978 1.374679 -1.870829 1.870829 C -1.374679 2.366978 -0.701661 2.645751 0 2.645751 z" transform="translate(86.112 493.536)" style="fill: #ff0000"/>
</g>
<g clip-path="url(#p6fa958b996)">
<path d="M 0 2.645751 C 0.701661 2.645751 1.374679 2.366978 1.870829 1.870829 C 2.366978 1.374679 2.645751 0.701661 2.645751 -0 C 2.645751 -0.701661 2.366978 -1.374679 1.870829 -1.870829 C 1.374679 -2.366978 0.701661 -2.645751 0 -2.645751 C -0.701661 -2.645751 -1.374679 -2.366978 -1.870829 -1.870829 C -2.366978 -1.374679 -2.645751 -0.701661 -2.645751 0 C -2.645751 0.701661 -2.366978 1.374679 -1.870829 1.870829 C -1.374679 2.366978 -0.701661 2.645751 0 2.645751 z" transform="translate(85.68 498.432)" style="fill: #ff0000"/>
</g>
<g clip-path="url(#p6fa958b996)">
<path d="M 0 2.645751 C 0.701661 2.645751 1.374679 2.366978 1.870829 1.870829 C 2.366978 1.374679 2.645751 0.701661 2.645751 -0 C 2.645751 -0.701661 2.366978 -1.374679 1.870829 -1.870829 C 1.374679 -2.366978 0.701661 -2.645751 0 -2.645751 C -0.701661 -2.645751 -1.374679 -2.366978 -1.870829 -1.870829 C -2.366978 -1.374679 -2.645751 -0.701661 -2.645751 0 C -2.645751 0.701661 -2.366978 1.374679 -1.870829 1.870829 C -1.374679 2.366978 -0.701661 2.645751 0 2.645751 z" transform="translate(91.872 492.672)" style="fill: #ff0000"/>
</g>
<g clip-path="url(#p6fa958b996)">
<path d="M 0 2.645751 C 0.701661 2.645751 1.374679 2.366978 1.870829 1.870829 C 2.366978 1.374679 2.645751 0.701661 2.645751 -0 C 2.645751 -0.701661 2.366978 -1.374679 1.870829 -1.870829 C 1.374679 -2.366978 0.701661 -2.645751 0 -2.645751 C -0.701661 -2.645751 -1.374679 -2.366978 -1.870829 -1.870829 C -2.366978 -1.374679 -2.645751 -0.701661 -2.645751 0 C -2.645751 0.701661 -2.366978 1.374679 -1.870829 1.870829 C -1.374679 2.366978 -0.701661 2.645751 0 2.645751 z" transform="translate(90 497.088)" style="fill: #ff0000"/>
</g>
<g clip-path="url(#p6fa958b996)">
<path d="M 0 2.645751 C 0.701661 2.645751 1.374679 2.366978 1.870829 1.870829 C 2.366978 1.374679 2.645751 0.701661 2.645751 -0 C 2.645751 -0.701661 2.366978 -1.374679 1.870829 -1.870829 C 1.374679 -2.366978 0.701661 -2.645751 0 -2.645751 C -0.701661 -2.645751 -1.374679 -2.366978 -1.870829 -1.870829 C -2.366978 -1.374679 -2.645751 -0.701661 -2.645751 0 C -2.645751 0.701661 -2.366978 1.374679 -1.870829 1.870829 C -1.374679 2.366978 -0.701661 2.645751 0 2.645751 z" transform="translate(92.976 496.656)" style="fill: #ff0000"/>
</g>
<g clip-path="url(#p6fa958b996)">
<path d="M 0 2.645751 C 0.701661 2.645751 1.374679 2.366978 1.870829 1.870829 C 2.366978 1.374679 2.645751 0.701661 2.645751 -0 C 2.645751 -0.701661 2.366978 -1.374679 1.870829 -1.870829 C 1.374679 -2.366978 0.701661 -2.645751 0 -2.645751 C -0.701661 -2.645751 -1.374679 -2.366978 -1.870829 -1.870829 C -2.366978 -1.374679 -2.645751 -0.701661 -2.645751 0 C -2.645751 0.701661 -2.366978 1.374679 -1.870829 1.870829 C -1.374679 2.366978 -0.701661 2.645751 0 2.645751 z" transform="translate(88.32 497.28)" style="fill: #ff0000"/>
</g>
</g>
<g id="PathCollection_2">
<g clip-path="url(#p6fa958b996)">
<path d="M 0 2.645751 C 0.701661 2.645751 1.374679 2.366978 1.870829 1.870829 C 2.366978 1.374679 2.645751 0.701661 2.645751 -0 C 2.645751 -0.701661 2.366978 -1.374679 1.870829 -1.870829 C 1.374679 -2.366978 0.701661 -2.645751 0 -2.645751 C -0.701661 -2.645751 -1.374679 -2.366978 -1.870829 -1.870829 C -2.366978 -1.374679 -2.645751 -0.701661 -2.645751 0 C -2.645751 0.701661 -2.366978 1.374679 -1.870829 1.870829 C -1.374679 2.366978 -0.701661 2.645751 0 2.645751 z" transform="translate(102.48 475.824)" style="fill: #008000"/>
</g>
<g clip-path="url(#p6fa958b996)">
<path d="M 0 2.645751 C 0.701661 2.645751 1.374679 2.366978 1.870829 1.870829 C 2.366978 1.374679 2.645751 0.701661 2.645751 -0 C 2.645751 -0.701661 2.366978 -1.374679 1.870829 -1.870829 C 1.374679 -2.366978 0.701661 -2.645751 0 -2.645751 C -0.701661 -2.645751 -1.374679 -2.366978 -1.870829 -1.870829 C -2.366978 -1.374679 -2.645751 -0.701661 -2.645751 0 C -2.645751 0.701661 -2.366978 1.374679 -1.870829 1.870829 C -1.374679 2.366978 -0.701661 2.645751 0 2.645751 z" transform="translate(102.912 481.968)" style="fill: #008000"/>
</g>
<g clip-path="url(#p6fa958b996)">
<path d="M 0 2.645751 C 0.701661 2.645751 1.374679 2.366978 1.870829 1.870829 C 2.366978 1.374679 2.645751 0.701661 2.645751 -0 C 2.645751 -0.701661 2.366978 -1.374679 1.870829 -1.870829 C 1.374679 -2.366978 0.701661 -2.645751 0 -2.645751 C -0.701661 -2.645751 -1.374679 -2.366978 -1.870829 -1.870829 C -2.366978 -1.374679 -2.645751 -0.701661 -2.645751 0 C -2.645751 0.701661 -2.366978 1.374679 -1.870829 1.870829 C -1.374679 2.366978 -0.701661 2.645751 0 2.645751 z" transform="translate(108.192 483.84)" style="fill: #008000"/>
</g>
<g clip-path="url(#p6fa958b996)">
<path d="M 0 2.645751 C 0.701661 2.645751 1.374679 2.366978 1.870829 1.870829 C 2.366978 1.374679 2.645751 0.701661 2.645751 -0 C 2.645751 -0.701661 2.366978 -1.374679 1.870829 -1.870829 C 1.374679 -2.366978 0.701661 -2.645751 0 -2.645751 C -0.701661 -2.645751 -1.374679 -2.366978 -1.870829 -1.870829 C -2.366978 -1.374679 -2.645751 -0.701661 -2.645751 0 C -2.645751 0.701661 -2.366978 1.374679 -1.870829 1.870829 C -1.374679 2.366978 -0.701661 2.645751 0 2.645751 z" transform="translate(103.872 486.864)" style="fill: #008000"/>
</g>
<g clip-path="url(#p6fa958b996)">
<path d="M 0 2.645751 C 0.701661 2.645751 1.374679 2.366978 1.870829 1.870829 C 2.366978 1.374679 2.645751 0.701661 2.645751 -0 C 2.645751 -0.701661 2.366978 -1.374679 1.870829 -1.870829 C 1.374679 -2.366978 0.701661 -2.645751 0 -2.645751 C -0.701661 -2.645751 -1.374679 -2.366978 -1.870829 -1.870829 C -2.366978 -1.374679 -2.645751 -0.701661 -2.645751 0 C -2.645751 0.701661 -2.366978 1.374679 -1.870829 1.870829 C -1.374679 2.366978 -0.701661 2.645751 0 2.645751 z" transform="translate(114.528 472.992)" style="fill: #008000"/>
</g>
<g clip-path="url(#p6fa958b996)">
<path d="M 0 2.645751 C 0.701661 2.645751 1.374679 2.366978 1.870829 1.870829 C 2.366978 1.374679 2.645751 0.701661 2.645751 -0 C 2.645751 -0.701661 2.366978 -1.374679 1.870829 -1.870829 C 1.374679 -2.366978 0.701661 -2.645751 0 -2.645751 C -0.701661 -2.645751 -1.374679 -2.366978 -1.870829 -1.870829 C -2.366978 -1.374679 -2.645751 -0.701661 -2.645751 0 C -2.645751 0.701661 -2.366978 1.374679 -1.870829 1.870829 C -1.374679 2.366978 -0.701661 2.645751 0 2.645751 z" transform="translate(126.96 462.384)" style="fill: #008000"/>
</g>
<g clip-path="url(#p6fa958b996)">
<path d="M 0 2.645751 C 0.701661 2.645751 1.374679 2.366978 1.870829 1.870829 C 2.366978 1.374679 2.645751 0.701661 2.645751 -0 C 2.645751 -0.701661 2.366978 -1.374679 1.870829 -1.870829 C 1.374679 -2.366978 0.701661 -2.645751 0 -2.645751 C -0.701661 -2.645751 -1.374679 -2.366978 -1.870829 -1.870829 C -2.366978 -1.374679 -2.645751 -0.701661 -2.645751 0 C -2.645751 0.701661 -2.366978 1.374679 -1.870829 1.870829 C -1.374679 2.366978 -0.701661 2.645751 0 2.645751 z" transform="translate(143.232 452.88)" style="fill: #008000"/>
</g>
<g clip-path="url(#p6fa958b996)">
<path d="M 0 2.645751 C 0.701661 2.645751 1.374679 2.366978 1.870829 1.870829 C 2.366978 1.374679 2.645751 0.701661 2.645751 -0 C 2.645751 -0.701661 2.366978 -1.374679 1.870829 -1.870829 C 1.374679 -2.366978 0.701661 -2.645751 0 -2.645751 C -0.701661 -2.645751 -1.374679 -2.366978 -1.870829 -1.870829 C -2.366978 -1.374679 -2.645751 -0.701661 -2.645751 0 C -2.645751 0.701661 -2.366978 1.374679 -1.870829 1.870829 C -1.374679 2.366978 -0.701661 2.645751 0 2.645751 z" transform="translate(144.672 445.68)" style="fill: #008000"/>
</g>
<g clip-path="url(#p6fa958b996)">
<path d="M 0 2.645751 C 0.701661 2.645751 1.374679 2.366978 1.870829 1.870829 C 2.366978 1.374679 2.645751 0.701661 2.645751 -0 C 2.645751 -0.701661 2.366978 -1.374679 1.870829 -1.870829 C 1.374679 -2.366978 0.701661 -2.645751 0 -2.645751 C -0.701661 -2.645751 -1.374679 -2.366978 -1.870829 -1.870829 C -2.366978 -1.374679 -2.645751 -0.701661 -2.645751 0 C -2.645751 0.701661 -2.366978 1.374679 -1.870829 1.870829 C -1.374679 2.366978 -0.701661 2.645751 0 2.645751 z" transform="translate(147.792 440.736)" style="fill: #008000"/>
</g>
<g clip-path="url(#p6fa958b996)">
<path d="M 0 2.645751 C 0.701661 2.645751 1.374679 2.366978 1.870829 1.870829 C 2.366978 1.374679 2.645751 0.701661 2.645751 -0 C 2.645751 -0.701661 2.366978 -1.374679 1.870829 -1.870829 C 1.374679 -2.366978 0.701661 -2.645751 0 -2.645751 C -0.701661 -2.645751 -1.374679 -2.366978 -1.870829 -1.870829 C -2.366978 -1.374679 -2.645751 -0.701661 -2.645751 0 C -2.645751 0.701661 -2.366978 1.374679 -1.870829 1.870829 C -1.374679 2.366978 -0.701661 2.645751 0 2.645751 z" transform="translate(153.312 439.248)" style="fill: #008000"/>
</g>
<g clip-path="url(#p6fa958b996)">
<path d="M 0 2.645751 C 0.701661 2.645751 1.374679 2.366978 1.870829 1.870829 C 2.366978 1.374679 2.645751 0.701661 2.645751 -0 C 2.645751 -0.701661 2.366978 -1.374679 1.870829 -1.870829 C 1.374679 -2.366978 0.701661 -2.645751 0 -2.645751 C -0.701661 -2.645751 -1.374679 -2.366978 -1.870829 -1.870829 C -2.366978 -1.374679 -2.645751 -0.701661 -2.645751 0 C -2.645751 0.701661 -2.366978 1.374679 -1.870829 1.870829 C -1.374679 2.366978 -0.701661 2.645751 0 2.645751 z" transform="translate(154.272 442.272)" style="fill: #008000"/>
</g>
<g clip-path="url(#p6fa958b996)">
<path d="M 0 2.645751 C 0.701661 2.645751 1.374679 2.366978 1.870829 1.870829 C 2.366978 1.374679 2.645751 0.701661 2.645751 -0 C 2.645751 -0.701661 2.366978 -1.374679 1.870829 -1.870829 C 1.374679 -2.366978 0.701661 -2.645751 0 -2.645751 C -0.701661 -2.645751 -1.374679 -2.366978 -1.870829 -1.870829 C -2.366978 -1.374679 -2.645751 -0.701661 -2.645751 0 C -2.645751 0.701661 -2.366978 1.374679 -1.870829 1.870829 C -1.374679 2.366978 -0.701661 2.645751 0 2.645751 z" transform="translate(154.752 433.632)" style="fill: #008000"/>
</g>
<g clip-path="url(#p6fa958b996)">
<path d="M 0 2.645751 C 0.701661 2.645751 1.374679 2.366978 1.870829 1.870829 C 2.366978 1.374679 2.645751 0.701661 2.645751 -0 C 2.645751 -0.701661 2.366978 -1.374679 1.870829 -1.870829 C 1.374679 -2.366978 0.701661 -2.645751 0 -2.645751 C -0.701661 -2.645751 -1.374679 -2.366978 -1.870829 -1.870829 C -2.366978 -1.374679 -2.645751 -0.701661 -2.645751 0 C -2.645751 0.701661 -2.366978 1.374679 -1.870829 1.870829 C -1.374679 2.366978 -0.701661 2.645751 0 2.645751 z" transform="translate(149.04 441.36)" style="fill: #008000"/>
</g>
</g>
<g id="PathCollection_3">
<g clip-path="url(#p6fa958b996)">
<path d="M 0 2.645751 C 0.701661 2.645751 1.374679 2.366978 1.870829 1.870829 C 2.366978 1.374679 2.645751 0.701661 2.645751 -0 C 2.645751 -0.701661 2.366978 -1.374679 1.870829 -1.870829 C 1.374679 -2.366978 0.701661 -2.645751 0 -2.645751 C -0.701661 -2.645751 -1.374679 -2.366978 -1.870829 -1.870829 C -2.366978 -1.374679 -2.645751 -0.701661 -2.645751 0 C -2.645751 0.701661 -2.366978 1.374679 -1.870829 1.870829 C -1.374679 2.366978 -0.701661 2.645751 0 2.645751 z" transform="translate(257.904 351.6)" style="fill: #0000ff"/>
</g>
<g clip-path="url(#p6fa958b996)">
<path d="M 0 2.645751 C 0.701661 2.645751 1.374679 2.366978 1.870829 1.870829 C 2.366978 1.374679 2.645751 0.701661 2.645751 -0 C 2.645751 -0.701661 2.366978 -1.374679 1.870829 -1.870829 C 1.374679 -2.366978 0.701661 -2.645751 0 -2.645751 C -0.701661 -2.645751 -1.374679 -2.366978 -1.870829 -1.870829 C -2.366978 -1.374679 -2.645751 -0.701661 -2.645751 0 C -2.645751 0.701661 -2.366978 1.374679 -1.870829 1.870829 C -1.374679 2.366978 -0.701661 2.645751 0 2.645751 z" transform="translate(263.232 348.576)" style="fill: #0000ff"/>
</g>
<g clip-path="url(#p6fa958b996)">
<path d="M 0 2.645751 C 0.701661 2.645751 1.374679 2.366978 1.870829 1.870829 C 2.366978 1.374679 2.645751 0.701661 2.645751 -0 C 2.645751 -0.701661 2.366978 -1.374679 1.870829 -1.870829 C 1.374679 -2.366978 0.701661 -2.645751 0 -2.645751 C -0.701661 -2.645751 -1.374679 -2.366978 -1.870829 -1.870829 C -2.366978 -1.374679 -2.645751 -0.701661 -2.645751 0 C -2.645751 0.701661 -2.366978 1.374679 -1.870829 1.870829 C -1.374679 2.366978 -0.701661 2.645751 0 2.645751 z" transform="translate(265.824 352.656)" style="fill: #0000ff"/>
</g>
<g clip-path="url(#p6fa958b996)">
<path d="M 0 2.645751 C 0.701661 2.645751 1.374679 2.366978 1.870829 1.870829 C 2.366978 1.374679 2.645751 0.701661 2.645751 -0 C 2.645751 -0.701661 2.366978 -1.374679 1.870829 -1.870829 C 1.374679 -2.366978 0.701661 -2.645751 0 -2.645751 C -0.701661 -2.645751 -1.374679 -2.366978 -1.870829 -1.870829 C -2.366978 -1.374679 -2.645751 -0.701661 -2.645751 0 C -2.645751 0.701661 -2.366978 1.374679 -1.870829 1.870829 C -1.374679 2.366978 -0.701661 2.645751 0 2.645751 z" transform="translate(271.296 349.536)" style="fill: #0000ff"/>
</g>
<g clip-path="url(#p6fa958b996)">
<path d="M 0 2.645751 C 0.701661 2.645751 1.374679 2.366978 1.870829 1.870829 C 2.366978 1.374679 2.645751 0.701661 2.645751 -0 C 2.645751 -0.701661 2.366978 -1.374679 1.870829 -1.870829 C 1.374679 -2.366978 0.701661 -2.645751 0 -2.645751 C -0.701661 -2.645751 -1.374679 -2.366978 -1.870829 -1.870829 C -2.366978 -1.374679 -2.645751 -0.701661 -2.645751 0 C -2.645751 0.701661 -2.366978 1.374679 -1.870829 1.870829 C -1.374679 2.366978 -0.701661 2.645751 0 2.645751 z" transform="translate(273.36 354.576)" style="fill: #0000ff"/>
</g>
<g clip-path="url(#p6fa958b996)">
<path d="M 0 2.645751 C 0.701661 2.645751 1.374679 2.366978 1.870829 1.870829 C 2.366978 1.374679 2.645751 0.701661 2.645751 -0 C 2.645751 -0.701661 2.366978 -1.374679 1.870829 -1.870829 C 1.374679 -2.366978 0.701661 -2.645751 0 -2.645751 C -0.701661 -2.645751 -1.374679 -2.366978 -1.870829 -1.870829 C -2.366978 -1.374679 -2.645751 -0.701661 -2.645751 0 C -2.645751 0.701661 -2.366978 1.374679 -1.870829 1.870829 C -1.374679 2.366978 -0.701661 2.645751 0 2.645751 z" transform="translate(252.576 361.968)" style="fill: #0000ff"/>
</g>
<g clip-path="url(#p6fa958b996)">
<path d="M 0 2.645751 C 0.701661 2.645751 1.374679 2.366978 1.870829 1.870829 C 2.366978 1.374679 2.645751 0.701661 2.645751 -0 C 2.645751 -0.701661 2.366978 -1.374679 1.870829 -1.870829 C 1.374679 -2.366978 0.701661 -2.645751 0 -2.645751 C -0.701661 -2.645751 -1.374679 -2.366978 -1.870829 -1.870829 C -2.366978 -1.374679 -2.645751 -0.701661 -2.645751 0 C -2.645751 0.701661 -2.366978 1.374679 -1.870829 1.870829 C -1.374679 2.366978 -0.701661 2.645751 0 2.645751 z" transform="translate(252.048 363.888)" style="fill: #0000ff"/>
</g>
<g clip-path="url(#p6fa958b996)">
<path d="M 0 2.645751 C 0.701661 2.645751 1.374679 2.366978 1.870829 1.870829 C 2.366978 1.374679 2.645751 0.701661 2.645751 -0 C 2.645751 -0.701661 2.366978 -1.374679 1.870829 -1.870829 C 1.374679 -2.366978 0.701661 -2.645751 0 -2.645751 C -0.701661 -2.645751 -1.374679 -2.366978 -1.870829 -1.870829 C -2.366978 -1.374679 -2.645751 -0.701661 -2.645751 0 C -2.645751 0.701661 -2.366978 1.374679 -1.870829 1.870829 C -1.374679 2.366978 -0.701661 2.645751 0 2.645751 z" transform="translate(255.984 364.56)" style="fill: #0000ff"/>
</g>
<g clip-path="url(#p6fa958b996)">
<path d="M 0 2.645751 C 0.701661 2.645751 1.374679 2.366978 1.870829 1.870829 C 2.366978 1.374679 2.645751 0.701661 2.645751 -0 C 2.645751 -0.701661 2.366978 -1.374679 1.870829 -1.870829 C 1.374679 -2.366978 0.701661 -2.645751 0 -2.645751 C -0.701661 -2.645751 -1.374679 -2.366978 -1.870829 -1.870829 C -2.366978 -1.374679 -2.645751 -0.701661 -2.645751 0 C -2.645751 0.701661 -2.366978 1.374679 -1.870829 1.870829 C -1.374679 2.366978 -0.701661 2.645751 0 2.645751 z" transform="translate(259.92 364.56)" style="fill: #0000ff"/>
</g>
<g clip-path="url(#p6fa958b996)">
<path d="M 0 2.645751 C 0.701661 2.645751 1.374679 2.366978 1.870829 1.870829 C 2.366978 1.374679 2.645751 0.701661 2.645751 -0 C 2.645751 -0.701661 2.366978 -1.374679 1.870829 -1.870829 C 1.374679 -2.366978 0.701661 -2.645751 0 -2.645751 C -0.701661 -2.645751 -1.374679 -2.366978 -1.870829 -1.870829 C -2.366978 -1.374679 -2.645751 -0.701661 -2.645751 0 C -2.645751 0.701661 -2.366978 1.374679 -1.870829 1.870829 C -1.374679 2.366978 -0.701661 2.645751 0 2.645751 z" transform="translate(255.024 370.32)" style="fill: #0000ff"/>
</g>
<g clip-path="url(#p6fa958b996)">
<path d="M 0 2.645751 C 0.701661 2.645751 1.374679 2.366978 1.870829 1.870829 C 2.366978 1.374679 2.645751 0.701661 2.645751 -0 C 2.645751 -0.701661 2.366978 -1.374679 1.870829 -1.870829 C 1.374679 -2.366978 0.701661 -2.645751 0 -2.645751 C -0.701661 -2.645751 -1.374679 -2.366978 -1.870829 -1.870829 C -2.366978 -1.374679 -2.645751 -0.701661 -2.645751 0 C -2.645751 0.701661 -2.366978 1.374679 -1.870829 1.870829 C -1.374679 2.366978 -0.701661 2.645751 0 2.645751 z" transform="translate(262.8 350.64)" style="fill: #0000ff"/>
</g>
<g clip-path="url(#p6fa958b996)">
<path d="M 0 2.645751 C 0.701661 2.645751 1.374679 2.366978 1.870829 1.870829 C 2.366978 1.374679 2.645751 0.701661 2.645751 -0 C 2.645751 -0.701661 2.366978 -1.374679 1.870829 -1.870829 C 1.374679 -2.366978 0.701661 -2.645751 0 -2.645751 C -0.701661 -2.645751 -1.374679 -2.366978 -1.870829 -1.870829 C -2.366978 -1.374679 -2.645751 -0.701661 -2.645751 0 C -2.645751 0.701661 -2.366978 1.374679 -1.870829 1.870829 C -1.374679 2.366978 -0.701661 2.645751 0 2.645751 z" transform="translate(276 348.96)" style="fill: #0000ff"/>
</g>
</g>
<g id="line2d_133">
<path d="M 56.16 518.559648 L 274.08 345.531168 " clip-path="url(#p6fa958b996)" style="fill: none; stroke-dasharray: 6,6; stroke-dashoffset: 0; stroke: #000000"/>
</g>
<g id="patch_21">
<path d="M 56.1600 535.6800 L 56.1600 317.7600 " style="fill: none; stroke: #000000; stroke-width: 0.96; stroke-linejoin: miter; stroke-linecap: square"/>
</g>
<g id="patch_22">
<path d="M 274.0800 535.6800 L 274.0800 317.7600 " style="fill: none; stroke: #000000; stroke-width: 0.96; stroke-linejoin: miter; stroke-linecap: square"/>
</g>
<g id="patch_23">
<path d="M 56.1600 535.6800 L 274.0800 535.6800 " style="fill: none; stroke: #000000; stroke-width: 0.96; stroke-linejoin: miter; stroke-linecap: square"/>
</g>
<g id="patch_24">
<path d="M 56.1600 317.7600 L 274.0800 317.7600 " style="fill: none; stroke: #000000; stroke-width: 0.96; stroke-linejoin: miter; stroke-linecap: square"/>
</g>
<g id="matplotlib.axis_7">
<g id="xtick_21">
<g id="line2d_134">
<g>
<path d="M 0 0 L 0 -4" transform="translate(82.3200 535.9200)" style="stroke: #000000; stroke-width: 0.48"/>
</g>
</g>
<g id="line2d_135">
<g>
<path d="M 0 0 L 0 4" transform="translate(82.3200 318.0000)" style="stroke: #000000; stroke-width: 0.48"/>
</g>
</g>
<g id="text_63">
<text style="font-size: 8px; font-family: 'DejaVu Sans', sans-serif; text-anchor: middle" x="81.888" y="546.4" transform="rotate(-0 81.888 546.4)">−50</text>
</g>
</g>
<g id="xtick_22">
<g id="line2d_136">
<g>
<path d="M 0 0 L 0 -4" transform="translate(131.7600 535.9200)" style="stroke: #000000; stroke-width: 0.48"/>
</g>
</g>
<g id="line2d_137">
<g>
<path d="M 0 0 L 0 4" transform="translate(131.7600 318.0000)" style="stroke: #000000; stroke-width: 0.48"/>
</g>
</g>
<g id="text_64">
<text style="font-size: 8px; font-family: 'DejaVu Sans', sans-serif; text-anchor: middle" x="131.664" y="546.4" transform="rotate(-0 131.664 546.4)">0</text>
</g>
</g>
<g id="xtick_23">
<g id="line2d_138">
<g>
<path d="M 0 0 L 0 -4" transform="translate(181.6800 535.9200)" style="stroke: #000000; stroke-width: 0.48"/>
</g>
</g>
<g id="line2d_139">
<g>
<path d="M 0 0 L 0 4" transform="translate(181.6800 318.0000)" style="stroke: #000000; stroke-width: 0.48"/>
</g>
</g>
<g id="text_65">
<text style="font-size: 8px; font-family: 'DejaVu Sans', sans-serif; text-anchor: middle" x="181.44" y="546.4" transform="rotate(-0 181.44 546.4)">50</text>
</g>
</g>
<g id="xtick_24">
<g id="line2d_140">
<g>
<path d="M 0 0 L 0 -4" transform="translate(231.6000 535.9200)" style="stroke: #000000; stroke-width: 0.48"/>
</g>
</g>
<g id="line2d_141">
<g>
<path d="M 0 0 L 0 4" transform="translate(231.6000 318.0000)" style="stroke: #000000; stroke-width: 0.48"/>
</g>
</g>
<g id="text_66">
<text style="font-size: 8px; font-family: 'DejaVu Sans', sans-serif; text-anchor: middle" x="231.216" y="546.4" transform="rotate(-0 231.216 546.4)">100</text>
</g>
</g>
<g id="text_67">
<!-- V$_A$(km/s) -->
<g transform="translate(146.98112 561)">
<text>
<tspan x="0" y="-0.921875" style="font-size: 8px; font-family: 'DejaVu Sans', sans-serif">V</tspan>
<tspan x="10.539975" y="-0.921875" style="font-size: 8px; font-family: 'DejaVu Sans', sans-serif">(</tspan>
<tspan x="13.661069" y="-0.921875" style="font-size: 8px; font-family: 'DejaVu Sans', sans-serif">k</tspan>
<tspan x="18.293881" y="-0.921875" style="font-size: 8px; font-family: 'DejaVu Sans', sans-serif">m</tspan>
<tspan x="26.08685" y="-0.921875" style="font-size: 8px; font-family: 'DejaVu Sans', sans-serif">/</tspan>
<tspan x="28.782162" y="-0.921875" style="font-size: 8px; font-family: 'DejaVu Sans', sans-serif">s</tspan>
<tspan x="32.950131" y="-0.921875" style="font-size: 8px; font-family: 'DejaVu Sans', sans-serif">)</tspan>
<tspan x="5.829788" y="0.438625" style="font-size: 5.600px; font-family: 'Liberation Serif', serif; font-style: italic">A</tspan>
</text>
</g>
</g>
</g>
<g id="matplotlib.axis_8">
<g id="ytick_26">
<g id="line2d_142">
<g>
<path d="M 0 0 L 4 0" transform="translate(56.4000 509.5200)" style="stroke: #000000; stroke-width: 0.48"/>
</g>
</g>
<g id="line2d_143">
<g>
<path d="M 0 0 L -4 0" transform="translate(274.3200 509.5200)" style="stroke: #000000; stroke-width: 0.48"/>
</g>
</g>
<g id="text_68">
<text style="font-size: 8px; font-family: 'DejaVu Sans', sans-serif; text-anchor: end" x="52.16" y="511.872" transform="rotate(-0 52.16 511.872)">−50</text>
</g>
</g>
<g id="ytick_27">
<g id="line2d_144">
<g>
<path d="M 0 0 L 4 0" transform="translate(56.4000 460.0800)" style="stroke: #000000; stroke-width: 0.48"/>
</g>
</g>
<g id="line2d_145">
<g>
<path d="M 0 0 L -4 0" transform="translate(274.3200 460.0800)" style="stroke: #000000; stroke-width: 0.48"/>
</g>
</g>
<g id="text_69">
<text style="font-size: 8px; font-family: 'DejaVu Sans', sans-serif; text-anchor: end" x="52.16" y="462.096" transform="rotate(-0 52.16 462.096)">0</text>
</g>
</g>
<g id="ytick_28">
<g id="line2d_146">
<g>
<path d="M 0 0 L 4 0" transform="translate(56.4000 410.1600)" style="stroke: #000000; stroke-width: 0.48"/>
</g>
</g>
<g id="line2d_147">
<g>
<path d="M 0 0 L -4 0" transform="translate(274.3200 410.1600)" style="stroke: #000000; stroke-width: 0.48"/>
</g>
</g>
<g id="text_70">
<text style="font-size: 8px; font-family: 'DejaVu Sans', sans-serif; text-anchor: end" x="52.16" y="412.32" transform="rotate(-0 52.16 412.32)">50</text>
</g>
</g>
<g id="ytick_29">
<g id="line2d_148">
<g>
<path d="M 0 0 L 4 0" transform="translate(56.4000 360.2400)" style="stroke: #000000; stroke-width: 0.48"/>
</g>
</g>
<g id="line2d_149">
<g>
<path d="M 0 0 L -4 0" transform="translate(274.3200 360.2400)" style="stroke: #000000; stroke-width: 0.48"/>
</g>
</g>
<g id="text_71">
<text style="font-size: 8px; font-family: 'DejaVu Sans', sans-serif; text-anchor: end" x="52.16" y="362.544" transform="rotate(-0 52.16 362.544)">100</text>
</g>
</g>
<g id="text_72">
<!-- V$_{remaining}$(km/s) -->
<g transform="translate(25.9395 455.883439) rotate(-90)">
<text>
<tspan x="0" y="-0.921875" style="font-size: 8px; font-family: 'DejaVu Sans', sans-serif">V</tspan>
<tspan x="32.589975" y="-0.921875" style="font-size: 8px; font-family: 'DejaVu Sans', sans-serif">(</tspan>
<tspan x="35.711069" y="-0.921875" style="font-size: 8px; font-family: 'DejaVu Sans', sans-serif">k</tspan>
<tspan x="40.343881" y="-0.921875" style="font-size: 8px; font-family: 'DejaVu Sans', sans-serif">m</tspan>
<tspan x="48.13685" y="-0.921875" style="font-size: 8px; font-family: 'DejaVu Sans', sans-serif">/</tspan>
<tspan x="50.832162" y="-0.921875" style="font-size: 8px; font-family: 'DejaVu Sans', sans-serif">s</tspan>
<tspan x="55.000131" y="-0.921875" style="font-size: 8px; font-family: 'DejaVu Sans', sans-serif">)</tspan>
<tspan x="5.829788" y="0.438625" style="font-size: 5.600px; font-family: 'Liberation Serif', serif; font-style: italic">r</tspan>
<tspan x="8.35635" y="0.438625" style="font-size: 5.600px; font-family: 'Liberation Serif', serif; font-style: italic">e</tspan>
<tspan x="10.959475" y="0.438625" style="font-size: 5.600px; font-family: 'Liberation Serif', serif; font-style: italic">m</tspan>
<tspan x="15.875881" y="0.438625" style="font-size: 5.600px; font-family: 'Liberation Serif', serif; font-style: italic">a</tspan>
<tspan x="18.831741" y="0.438625" style="font-size: 5.600px; font-family: 'Liberation Serif', serif; font-style: italic">i</tspan>
<tspan x="20.759475" y="0.438625" style="font-size: 5.600px; font-family: 'Liberation Serif', serif; font-style: italic">n</tspan>
<tspan x="24.120022" y="0.438625" style="font-size: 5.600px; font-family: 'Liberation Serif', serif; font-style: italic">i</tspan>
<tspan x="26.047756" y="0.438625" style="font-size: 5.600px; font-family: 'Liberation Serif', serif; font-style: italic">n</tspan>
<tspan x="29.408303" y="0.438625" style="font-size: 5.600px; font-family: 'Liberation Serif', serif; font-style: italic">g</tspan>
</text>
</g>
</g>
</g>
<g id="text_73">
<text style="font-size: 11.22px; font-family: 'DejaVu Sans', sans-serif; text-anchor: middle" x="165.12" y="312.76" transform="rotate(-0 165.12 312.76)">WalenTest</text>
</g>
</g>
<g id="axes_5">
<g id="patch_25">
<path d="M 323.04 535.68 L 540.96 535.68 L 540.96 317.76 L 323.04 317.76 z
" style="fill: #ffffff"/>
</g>
<g id="line2d_150">
<path d="M 437.424 334.8 L 444.288 319.872 L 463.968 364.416 L 437.04 327.936 L 401.904 319.584 L 410.112 343.92 L 438.864 347.184 L 466.032 402.768 L 432.24 527.232 L 435.072 503.568 L 406.272 481.584 L 435.6 504.48 L 440.4 508.656 L 437.472 475.44 " clip-path="url(#pda71e8f11e)" style="fill: none; stroke: #0000ff; stroke-linecap: square"/>
<g clip-path="url(#pda71e8f11e)">
<path d="M 0 1.5 C 0.397805 1.5 0.77937 1.341951 1.06066 1.06066 C 1.341951 0.77937 1.5 0.397805 1.5 0 C 1.5 -0.397805 1.341951 -0.77937 1.06066 -1.06066 C 0.77937 -1.341951 0.397805 -1.5 0 -1.5 C -0.397805 -1.5 -0.77937 -1.341951 -1.06066 -1.06066 C -1.341951 -0.77937 -1.5 -0.397805 -1.5 0 C -1.5 0.397805 -1.341951 0.77937 -1.06066 1.06066 C -0.77937 1.341951 -0.397805 1.5 0 1.5 z" transform="translate(437.424 334.8)" style="fill: #0000ff; stroke: #0000ff; stroke-width: 0.5"/>
<path d="M 0 1.5 C 0.397805 1.5 0.77937 1.341951 1.06066 1.06066 C 1.341951 0.77937 1.5 0.397805 1.5 0 C 1.5 -0.397805 1.341951 -0.77937 1.06066 -1.06066 C 0.77937 -1.341951 0.397805 -1.5 0 -1.5 C -0.397805 -1.5 -0.77937 -1.341951 -1.06066 -1.06066 C -1.341951 -0.77937 -1.5 -0.397805 -1.5 0 C -1.5 0.397805 -1.341951 0.77937 -1.06066 1.06066 C -0.77937 1.341951 -0.397805 1.5 0 1.5 z" transform="translate(444.288 319.872)" style="fill: #0000ff; stroke: #0000ff; stroke-width: 0.5"/>
<path d="M 0 1.5 C 0.397805 1.5 0.77937 1.341951 1.06066 1.06066 C 1.341951 0.77937 1.5 0.397805 1.5 0 C 1.5 -0.397805 1.341951 -0.77937 1.06066 -1.06066 C 0.77937 -1.341951 0.397805 -1.5 0 -1.5 C -0.397805 -1.5 -0.77937 -1.341951 -1.06066 -1.06066 C -1.341951 -0.77937 -1.5 -0.397805 -1.5 0 C -1.5 0.397805 -1.341951 0.77937 -1.06066 1.06066 C -0.77937 1.341951 -0.397805 1.5 0 1.5 z" transform="translate(463.968 364.416)" style="fill: #0000ff; stroke: #0000ff; stroke-width: 0.5"/>
<path d="M 0 1.5 C 0.397805 1.5 0.77937 1.341951 1.06066 1.06066 C 1.341951 0.77937 1.5 0.397805 1.5 0 C 1.5 -0.397805 1.341951 -0.77937 1.06066 -1.06066 C 0.77937 -1.341951 0.397805 -1.5 0 -1.5 C -0.397805 -1.5 -0.77937 -1.341951 -1.06066 -1.06066 C -1.341951 -0.77937 -1.5 -0.397805 -1.5 0 C -1.5 0.397805 -1.341951 0.77937 -1.06066 1.06066 C -0.77937 1.341951 -0.397805 1.5 0 1.5 z" transform="translate(437.04 327.936)" style="fill: #0000ff; stroke: #0000ff; stroke-width: 0.5"/>
<path d="M 0 1.5 C 0.397805 1.5 0.77937 1.341951 1.06066 1.06066 C 1.341951 0.77937 1.5 0.397805 1.5 0 C 1.5 -0.397805 1.341951 -0.77937 1.06066 -1.06066 C 0.77937 -1.341951 0.397805 -1.5 0 -1.5 C -0.397805 -1.5 -0.77937 -1.341951 -1.06066 -1.06066 C -1.341951 -0.77937 -1.5 -0.397805 -1.5 0 C -1.5 0.397805 -1.341951 0.77937 -1.06066 1.06066 C -0.77937 1.341951 -0.397805 1.5 0 1.5 z" transform="translate(401.904 319.584)" style="fill: #0000ff; stroke: #0000ff; stroke-width: 0.5"/>
<path d="M 0 1.5 C 0.397805 1.5 0.77937 1.341951 1.06066 1.06066 C 1.341951 0.77937 1.5 0.397805 1.5 0 C 1.5 -0.397805 1.341951 -0.77937 1.06066 -1.06066 C 0.77937 -1.341951 0.397805 -1.5 0 -1.5 C -0.397805 -1.5 -0.77937 -1.341951 -1.06066 -1.06066 C -1.341951 -0.77937 -1.5 -0.397805 -1.5 0 C -1.5 0.397805 -1.341951 0.77937 -1.06066 1.06066 C -0.77937 1.341951 -0.397805 1.5 0 1.5 z" transform="translate(410.112 343.92)" style="fill: #0000ff; stroke: #0000ff; stroke-width: 0.5"/>
<path d="M 0 1.5 C 0.397805 1.5 0.77937 1.341951 1.06066 1.06066 C 1.341951 0.77937 1.5 0.397805 1.5 0 C 1.5 -0.397805 1.341951 -0.77937 1.06066 -1.06066 C 0.77937 -1.341951 0.397805 -1.5 0 -1.5 C -0.397805 -1.5 -0.77937 -1.341951 -1.06066 -1.06066 C -1.341951 -0.77937 -1.5 -0.397805 -1.5 0 C -1.5 0.397805 -1.341951 0.77937 -1.06066 1.06066 C -0.77937 1.341951 -0.397805 1.5 0 1.5 z" transform="translate(438.864 347.184)" style="fill: #0000ff; stroke: #0000ff; stroke-width: 0.5"/>
<path d="M 0 1.5 C 0.397805 1.5 0.77937 1.341951 1.06066 1.06066 C 1.341951 0.77937 1.5 0.397805 1.5 0 C 1.5 -0.397805 1.341951 -0.77937 1.06066 -1.06066 C 0.77937 -1.341951 0.397805 -1.5 0 -1.5 C -0.397805 -1.5 -0.77937 -1.341951 -1.06066 -1.06066 C -1.341951 -0.77937 -1.5 -0.397805 -1.5 0 C -1.5 0.397805 -1.341951 0.77937 -1.06066 1.06066 C -0.77937 1.341951 -0.397805 1.5 0 1.5 z" transform="translate(466.032 402.768)" style="fill: #0000ff; stroke: #0000ff; stroke-width: 0.5"/>
<path d="M 0 1.5 C 0.397805 1.5 0.77937 1.341951 1.06066 1.06066 C 1.341951 0.77937 1.5 0.397805 1.5 0 C 1.5 -0.397805 1.341951 -0.77937 1.06066 -1.06066 C 0.77937 -1.341951 0.397805 -1.5 0 -1.5 C -0.397805 -1.5 -0.77937 -1.341951 -1.06066 -1.06066 C -1.341951 -0.77937 -1.5 -0.397805 -1.5 0 C -1.5 0.397805 -1.341951 0.77937 -1.06066 1.06066 C -0.77937 1.341951 -0.397805 1.5 0 1.5 z" transform="translate(432.24 527.232)" style="fill: #0000ff; stroke: #0000ff; stroke-width: 0.5"/>
<path d="M 0 1.5 C 0.397805 1.5 0.77937 1.341951 1.06066 1.06066 C 1.341951 0.77937 1.5 0.397805 1.5 0 C 1.5 -0.397805 1.341951 -0.77937 1.06066 -1.06066 C 0.77937 -1.341951 0.397805 -1.5 0 -1.5 C -0.397805 -1.5 -0.77937 -1.341951 -1.06066 -1.06066 C -1.341951 -0.77937 -1.5 -0.397805 -1.5 0 C -1.5 0.397805 -1.341951 0.77937 -1.06066 1.06066 C -0.77937 1.341951 -0.397805 1.5 0 1.5 z" transform="translate(435.072 503.568)" style="fill: #0000ff; stroke: #0000ff; stroke-width: 0.5"/>
<path d="M 0 1.5 C 0.397805 1.5 0.77937 1.341951 1.06066 1.06066 C 1.341951 0.77937 1.5 0.397805 1.5 0 C 1.5 -0.397805 1.341951 -0.77937 1.06066 -1.06066 C 0.77937 -1.341951 0.397805 -1.5 0 -1.5 C -0.397805 -1.5 -0.77937 -1.341951 -1.06066 -1.06066 C -1.341951 -0.77937 -1.5 -0.397805 -1.5 0 C -1.5 0.397805 -1.341951 0.77937 -1.06066 1.06066 C -0.77937 1.341951 -0.397805 1.5 0 1.5 z" transform="translate(406.272 481.584)" style="fill: #0000ff; stroke: #0000ff; stroke-width: 0.5"/>
<path d="M 0 1.5 C 0.397805 1.5 0.77937 1.341951 1.06066 1.06066 C 1.341951 0.77937 1.5 0.397805 1.5 0 C 1.5 -0.397805 1.341951 -0.77937 1.06066 -1.06066 C 0.77937 -1.341951 0.397805 -1.5 0 -1.5 C -0.397805 -1.5 -0.77937 -1.341951 -1.06066 -1.06066 C -1.341951 -0.77937 -1.5 -0.397805 -1.5 0 C -1.5 0.397805 -1.341951 0.77937 -1.06066 1.06066 C -0.77937 1.341951 -0.397805 1.5 0 1.5 z" transform="translate(435.6 504.48)" style="fill: #0000ff; stroke: #0000ff; stroke-width: 0.5"/>
<path d="M 0 1.5 C 0.397805 1.5 0.77937 1.341951 1.06066 1.06066 C 1.341951 0.77937 1.5 0.397805 1.5 0 C 1.5 -0.397805 1.341951 -0.77937 1.06066 -1.06066 C 0.77937 -1.341951 0.397805 -1.5 0 -1.5 C -0.397805 -1.5 -0.77937 -1.341951 -1.06066 -1.06066 C -1.341951 -0.77937 -1.5 -0.397805 -1.5 0 C -1.5 0.397805 -1.341951 0.77937 -1.06066 1.06066 C -0.77937 1.341951 -0.397805 1.5 0 1.5 z" transform="translate(440.4 508.656)" style="fill: #0000ff; stroke: #0000ff; stroke-width: 0.5"/>
<path d="M 0 1.5 C 0.397805 1.5 0.77937 1.341951 1.06066 1.06066 C 1.341951 0.77937 1.5 0.397805 1.5 0 C 1.5 -0.397805 1.341951 -0.77937 1.06066 -1.06066 C 0.77937 -1.341951 0.397805 -1.5 0 -1.5 C -0.397805 -1.5 -0.77937 -1.341951 -1.06066 -1.06066 C -1.341951 -0.77937 -1.5 -0.397805 -1.5 0 C -1.5 0.397805 -1.341951 0.77937 -1.06066 1.06066 C -0.77937 1.341951 -0.397805 1.5 0 1.5 z" transform="translate(437.472 475.44)" style="fill: #0000ff; stroke: #0000ff; stroke-width: 0.5"/>
</g>
</g>
<g id="patch_26">
<path d="M 323.0400 535.6800 L 323.0400 317.7600 " style="fill: none; stroke: #000000; stroke-width: 0.96; stroke-linejoin: miter; stroke-linecap: square"/>
</g>
<g id="patch_27">
<path d="M 540.9600 535.6800 L 540.9600 317.7600 " style="fill: none; stroke: #000000; stroke-width: 0.96; stroke-linejoin: miter; stroke-linecap: square"/>
</g>
<g id="patch_28">
<path d="M 323.0400 535.6800 L 540.9600 535.6800 " style="fill: none; stroke: #000000; stroke-width: 0.96; stroke-linejoin: miter; stroke-linecap: square"/>
</g>
<g id="patch_29">
<path d="M 323.0400 317.7600 L 540.9600 317.7600 " style="fill: none; stroke: #000000; stroke-width: 0.96; stroke-linejoin: miter; stroke-linecap: square"/>
</g>
<g id="matplotlib.axis_9">
<g id="xtick_25">
<g id="line2d_151">
<path d="M 341.5200 535.6800 L 341.5200 317.7600 " clip-path="url(#pda71e8f11e)" style="fill: none; stroke-dasharray: 1,3; stroke-dashoffset: 0; stroke: #000000; stroke-width: 0.48"/>
</g>
<g id="line2d_152">
<g>
<path d="M 0 0 L 0 -4" transform="translate(341.5200 535.9200)" style="stroke: #000000; stroke-width: 0.48"/>
</g>
</g>
<g id="line2d_153">
<g>
<path d="M 0 0 L 0 4" transform="translate(341.5200 318.0000)" style="stroke: #000000; stroke-width: 0.48"/>
</g>
</g>
<g id="text_74">
<text style="font-size: 8px; font-family: 'DejaVu Sans', sans-serif; text-anchor: middle" x="341.2" y="546.4" transform="rotate(-0 341.2 546.4)">−40</text>
</g>
</g>
<g id="xtick_26">
<g id="line2d_154">
<path d="M 378.0000 535.6800 L 378.0000 317.7600 " clip-path="url(#pda71e8f11e)" style="fill: none; stroke-dasharray: 1,3; stroke-dashoffset: 0; stroke: #000000; stroke-width: 0.48"/>
</g>
<g id="line2d_155">
<g>
<path d="M 0 0 L 0 -4" transform="translate(378.0000 535.9200)" style="stroke: #000000; stroke-width: 0.48"/>
</g>
</g>
<g id="line2d_156">
<g>
<path d="M 0 0 L 0 4" transform="translate(378.0000 318.0000)" style="stroke: #000000; stroke-width: 0.48"/>
</g>
</g>
<g id="text_75">
<text style="font-size: 8px; font-family: 'DejaVu Sans', sans-serif; text-anchor: middle" x="377.52" y="546.4" transform="rotate(-0 377.52 546.4)">−30</text>
</g>
</g>
<g id="xtick_27">
<g id="line2d_157">
<path d="M 414.0000 535.6800 L 414.0000 317.7600 " clip-path="url(#pda71e8f11e)" style="fill: none; stroke-dasharray: 1,3; stroke-dashoffset: 0; stroke: #000000; stroke-width: 0.48"/>
</g>
<g id="line2d_158">
<g>
<path d="M 0 0 L 0 -4" transform="translate(414.0000 535.9200)" style="stroke: #000000; stroke-width: 0.48"/>
</g>
</g>
<g id="line2d_159">
<g>
<path d="M 0 0 L 0 4" transform="translate(414.0000 318.0000)" style="stroke: #000000; stroke-width: 0.48"/>
</g>
</g>
<g id="text_76">
<text style="font-size: 8px; font-family: 'DejaVu Sans', sans-serif; text-anchor: middle" x="413.84" y="546.4" transform="rotate(-0 413.84 546.4)">−20</text>
</g>
</g>
<g id="xtick_28">
<g id="line2d_160">
<path d="M 450.4800 535.6800 L 450.4800 317.7600 " clip-path="url(#pda71e8f11e)" style="fill: none; stroke-dasharray: 1,3; stroke-dashoffset: 0; stroke: #000000; stroke-width: 0.48"/>
</g>
<g id="line2d_161">
<g>
<path d="M 0 0 L 0 -4" transform="translate(450.4800 535.9200)" style="stroke: #000000; stroke-width: 0.48"/>
</g>
</g>
<g id="line2d_162">
<g>
<path d="M 0 0 L 0 4" transform="translate(450.4800 318.0000)" style="stroke: #000000; stroke-width: 0.48"/>
</g>
</g>
<g id="text_77">
<text style="font-size: 8px; font-family: 'DejaVu Sans', sans-serif; text-anchor: middle" x="450.16" y="546.4" transform="rotate(-0 450.16 546.4)">−10</text>
</g>
</g>
<g id="xtick_29">
<g id="line2d_163">
<path d="M 486.9600 535.6800 L 486.9600 317.7600 " clip-path="url(#pda71e8f11e)" style="fill: none; stroke-dasharray: 1,3; stroke-dashoffset: 0; stroke: #000000; stroke-width: 0.48"/>
</g>
<g id="line2d_164">
<g>
<path d="M 0 0 L 0 -4" transform="translate(486.9600 535.9200)" style="stroke: #000000; stroke-width: 0.48"/>
</g>
</g>
<g id="line2d_165">
<g>
<path d="M 0 0 L 0 4" transform="translate(486.9600 318.0000)" style="stroke: #000000; stroke-width: 0.48"/>
</g>
</g>
<g id="text_78">
<text style="font-size: 8px; font-family: 'DejaVu Sans', sans-serif; text-anchor: middle" x="486.48" y="546.4" transform="rotate(-0 486.48 546.4)">0</text>
</g>
</g>
<g id="xtick_30">
<g id="line2d_166">
<path d="M 522.9600 535.6800 L 522.9600 317.7600 " clip-path="url(#pda71e8f11e)" style="fill: none; stroke-dasharray: 1,3; stroke-dashoffset: 0; stroke: #000000; stroke-width: 0.48"/>
</g>
<g id="line2d_167">
<g>
<path d="M 0 0 L 0 -4" transform="translate(522.9600 535.9200)" style="stroke: #000000; stroke-width: 0.48"/>
</g>
</g>
<g id="line2d_168">
<g>
<path d="M 0 0 L 0 4" transform="translate(522.9600 318.0000)" style="stroke: #000000; stroke-width: 0.48"/>
</g>
</g>
<g id="text_79">
<text style="font-size: 8px; font-family: 'DejaVu Sans', sans-serif; text-anchor: middle" x="522.8" y="546.4" transform="rotate(-0 522.8 546.4)">10</text>
</g>
</g>
<g id="text_80">
<text style="font-size: 8px; font-family: 'DejaVu Sans', sans-serif; text-anchor: middle" x="432" y="559.04" transform="rotate(-0 432 559.04)">V2(km/s)</text>
</g>
</g>
<g id="matplotlib.axis_10">
<g id="ytick_30">
<g id="line2d_169">
<path d="M 323.0400 535.9200 L 540.9600 535.9200 " clip-path="url(#pda71e8f11e)" style="fill: none; stroke-dasharray: 1,3; stroke-dashoffset: 0; stroke: #000000; stroke-width: 0.48"/>
</g>
<g id="line2d_170">
<g>
<path d="M 0 0 L 4 0" transform="translate(323.2800 535.9200)" style="stroke: #000000; stroke-width: 0.48"/>
</g>
</g>
<g id="line2d_171">
<g>
<path d="M 0 0 L -4 0" transform="translate(541.2000 535.9200)" style="stroke: #000000; stroke-width: 0.48"/>
</g>
</g>
<g id="text_81">
<text style="font-size: 8px; font-family: 'DejaVu Sans', sans-serif; text-anchor: end" x="319.04" y="538.08" transform="rotate(-0 319.04 538.08)">−20</text>
</g>
</g>
<g id="ytick_31">
<g id="line2d_172">
<path d="M 323.0400 499.4400 L 540.9600 499.4400 " clip-path="url(#pda71e8f11e)" style="fill: none; stroke-dasharray: 1,3; stroke-dashoffset: 0; stroke: #000000; stroke-width: 0.48"/>
</g>
<g id="line2d_173">
<g>
<path d="M 0 0 L 4 0" transform="translate(323.2800 499.4400)" style="stroke: #000000; stroke-width: 0.48"/>
</g>
</g>
<g id="line2d_174">
<g>
<path d="M 0 0 L -4 0" transform="translate(541.2000 499.4400)" style="stroke: #000000; stroke-width: 0.48"/>
</g>
</g>
<g id="text_82">
<text style="font-size: 8px; font-family: 'DejaVu Sans', sans-serif; text-anchor: end" x="319.04" y="501.76" transform="rotate(-0 319.04 501.76)">−10</text>
</g>
</g>
<g id="ytick_32">
<g id="line2d_175">
<path d="M 323.0400 463.4400 L 540.9600 463.4400 " clip-path="url(#pda71e8f11e)" style="fill: none; stroke-dasharray: 1,3; stroke-dashoffset: 0; stroke: #000000; stroke-width: 0.48"/>
</g>
<g id="line2d_176">
<g>
<path d="M 0 0 L 4 0" transform="translate(323.2800 463.4400)" style="stroke: #000000; stroke-width: 0.48"/>
</g>
</g>
<g id="line2d_177">
<g>
<path d="M 0 0 L -4 0" transform="translate(541.2000 463.4400)" style="stroke: #000000; stroke-width: 0.48"/>
</g>
</g>
<g id="text_83">
<text style="font-size: 8px; font-family: 'DejaVu Sans', sans-serif; text-anchor: end" x="319.04" y="465.44" transform="rotate(-0 319.04 465.44)">0</text>
</g>
</g>
<g id="ytick_33">
<g id="line2d_178">
<path d="M 323.0400 426.9600 L 540.9600 426.9600 " clip-path="url(#pda71e8f11e)" style="fill: none; stroke-dasharray: 1,3; stroke-dashoffset: 0; stroke: #000000; stroke-width: 0.48"/>
</g>
<g id="line2d_179">
<g>
<path d="M 0 0 L 4 0" transform="translate(323.2800 426.9600)" style="stroke: #000000; stroke-width: 0.48"/>
</g>
</g>
<g id="line2d_180">
<g>
<path d="M 0 0 L -4 0" transform="translate(541.2000 426.9600)" style="stroke: #000000; stroke-width: 0.48"/>
</g>
</g>
<g id="text_84">
<text style="font-size: 8px; font-family: 'DejaVu Sans', sans-serif; text-anchor: end" x="319.04" y="429.12" transform="rotate(-0 319.04 429.12)">10</text>
</g>
</g>
<g id="ytick_34">
<g id="line2d_181">
<path d="M 323.0400 390.4800 L 540.9600 390.4800 " clip-path="url(#pda71e8f11e)" style="fill: none; stroke-dasharray: 1,3; stroke-dashoffset: 0; stroke: #000000; stroke-width: 0.48"/>
</g>
<g id="line2d_182">
<g>
<path d="M 0 0 L 4 0" transform="translate(323.2800 390.4800)" style="stroke: #000000; stroke-width: 0.48"/>
</g>
</g>
<g id="line2d_183">
<g>
<path d="M 0 0 L -4 0" transform="translate(541.2000 390.4800)" style="stroke: #000000; stroke-width: 0.48"/>
</g>
</g>
<g id="text_85">
<text style="font-size: 8px; font-family: 'DejaVu Sans', sans-serif; text-anchor: end" x="319.04" y="392.8" transform="rotate(-0 319.04 392.8)">20</text>
</g>
</g>
<g id="ytick_35">
<g id="line2d_184">
<path d="M 323.0400 354.4800 L 540.9600 354.4800 " clip-path="url(#pda71e8f11e)" style="fill: none; stroke-dasharray: 1,3; stroke-dashoffset: 0; stroke: #000000; stroke-width: 0.48"/>
</g>
<g id="line2d_185">
<g>
<path d="M 0 0 L 4 0" transform="translate(323.2800 354.4800)" style="stroke: #000000; stroke-width: 0.48"/>
</g>
</g>
<g id="line2d_186">
<g>
<path d="M 0 0 L -4 0" transform="translate(541.2000 354.4800)" style="stroke: #000000; stroke-width: 0.48"/>
</g>
</g>
<g id="text_86">
<text style="font-size: 8px; font-family: 'DejaVu Sans', sans-serif; text-anchor: end" x="319.04" y="356.48" transform="rotate(-0 319.04 356.48)">30</text>
</g>
</g>
<g id="ytick_36">
<g id="line2d_187">
<path d="M 323.0400 318.0000 L 540.9600 318.0000 " clip-path="url(#pda71e8f11e)" style="fill: none; stroke-dasharray: 1,3; stroke-dashoffset: 0; stroke: #000000; stroke-width: 0.48"/>
</g>
<g id="line2d_188">
<g>
<path d="M 0 0 L 4 0" transform="translate(323.2800 318.0000)" style="stroke: #000000; stroke-width: 0.48"/>
</g>
</g>
<g id="line2d_189">
<g>
<path d="M 0 0 L -4 0" transform="translate(541.2000 318.0000)" style="stroke: #000000; stroke-width: 0.48"/>
</g>
</g>
<g id="text_87">
<text style="font-size: 8px; font-family: 'DejaVu Sans', sans-serif; text-anchor: end" x="319.04" y="320.16" transform="rotate(-0 319.04 320.16)">40</text>
</g>
</g>
<g id="text_88">
<text style="font-size: 8px; font-family: 'DejaVu Sans', sans-serif; text-anchor: middle" x="294.12" y="426.72" transform="rotate(-90 294.12 426.72)">V1(km/s)</text>
</g>
</g>
<g id="text_89">
<!-- $\lambda_1/\lambda_2\approx$17.72 -->
<g transform="translate(329.28 524.496)">
<text>
<tspan x="0" y="-0.25" style="font-size: 9.000px; font-family: 'Liberation Serif', serif; font-style: italic">λ</tspan>
<tspan x="8.971031" y="-0.25" style="font-size: 9.000px; font-family: 'Liberation Serif', serif; font-style: italic">/</tspan>
<tspan x="13.471031" y="-0.25" style="font-size: 9.000px; font-family: 'Liberation Serif', serif; font-style: italic">λ</tspan>
<tspan x="5.24707" y="1.280563" style="font-size: 6.300px; font-family: 'Liberation Serif', serif">1</tspan>
<tspan x="18.718102" y="1.280563" style="font-size: 6.300px; font-family: 'Liberation Serif', serif">2</tspan>
<tspan x="23.5223" y="-0.25" style="font-size: 9.000px; font-family: 'DejaVu Sans', sans-serif">≈</tspan>
<tspan x="34.4943" y="-0.25" style="font-size: 9px; font-family: 'DejaVu Sans', sans-serif">1</tspan>
<tspan x="40.2204" y="-0.25" style="font-size: 9px; font-family: 'DejaVu Sans', sans-serif">7</tspan>
<tspan x="45.9465" y="-0.25" style="font-size: 9px; font-family: 'DejaVu Sans', sans-serif">.</tspan>
<tspan x="48.0573" y="-0.25" style="font-size: 9px; font-family: 'DejaVu Sans', sans-serif">7</tspan>
<tspan x="53.7834" y="-0.25" style="font-size: 9px; font-family: 'DejaVu Sans', sans-serif">2</tspan>
</text>
</g>
</g>
<g id="text_90">
<!-- Hodogram (V2_V1 MVAV$_{remaining}$ frame) -->
<g transform="translate(325.52869 312.76)">
<text>
<tspan x="0" y="-0.640625" style="font-size: 11px; font-family: 'DejaVu Sans', sans-serif">H</tspan>
<tspan x="8.271484" y="-0.640625" style="font-size: 11px; font-family: 'DejaVu Sans', sans-serif">o</tspan>
<tspan x="15.001465" y="-0.640625" style="font-size: 11px; font-family: 'DejaVu Sans', sans-serif">d</tspan>
<tspan x="21.983887" y="-0.640625" style="font-size: 11px; font-family: 'DejaVu Sans', sans-serif">o</tspan>
<tspan x="28.713867" y="-0.640625" style="font-size: 11px; font-family: 'DejaVu Sans', sans-serif">g</tspan>
<tspan x="35.696289" y="-0.640625" style="font-size: 11px; font-family: 'DejaVu Sans', sans-serif">r</tspan>
<tspan x="40.21875" y="-0.640625" style="font-size: 11px; font-family: 'DejaVu Sans', sans-serif">a</tspan>
<tspan x="46.959473" y="-0.640625" style="font-size: 11px; font-family: 'DejaVu Sans', sans-serif">m</tspan>
<tspan x="57.674805" y="-0.640625" style="font-size: 11px; font-family: 'DejaVu Sans', sans-serif"> </tspan>
<tspan x="61.171387" y="-0.640625" style="font-size: 11px; font-family: 'DejaVu Sans', sans-serif">(</tspan>
<tspan x="65.462891" y="-0.640625" style="font-size: 11px; font-family: 'DejaVu Sans', sans-serif">V</tspan>
<tspan x="72.987793" y="-0.640625" style="font-size: 11px; font-family: 'DejaVu Sans', sans-serif">2</tspan>
<tspan x="79.986328" y="-0.640625" style="font-size: 11px; font-family: 'DejaVu Sans', sans-serif">_</tspan>
<tspan x="85.486328" y="-0.640625" style="font-size: 11px; font-family: 'DejaVu Sans', sans-serif">V</tspan>
<tspan x="93.01123" y="-0.640625" style="font-size: 11px; font-family: 'DejaVu Sans', sans-serif">1</tspan>
<tspan x="100.009766" y="-0.640625" style="font-size: 11px; font-family: 'DejaVu Sans', sans-serif"> </tspan>
<tspan x="103.506348" y="-0.640625" style="font-size: 11px; font-family: 'DejaVu Sans', sans-serif">M</tspan>
<tspan x="112.99707" y="-0.640625" style="font-size: 11px; font-family: 'DejaVu Sans', sans-serif">V</tspan>
<tspan x="120.521973" y="-0.640625" style="font-size: 11px; font-family: 'DejaVu Sans', sans-serif">A</tspan>
<tspan x="128.046875" y="-0.640625" style="font-size: 11px; font-family: 'DejaVu Sans', sans-serif">V</tspan>
<tspan x="172.858091" y="-0.640625" style="font-size: 11px; font-family: 'DejaVu Sans', sans-serif"> </tspan>
<tspan x="176.354673" y="-0.640625" style="font-size: 11px; font-family: 'DejaVu Sans', sans-serif">f</tspan>
<tspan x="180.227231" y="-0.640625" style="font-size: 11px; font-family: 'DejaVu Sans', sans-serif">r</tspan>
<tspan x="184.749692" y="-0.640625" style="font-size: 11px; font-family: 'DejaVu Sans', sans-serif">a</tspan>
<tspan x="191.490415" y="-0.640625" style="font-size: 11px; font-family: 'DejaVu Sans', sans-serif">m</tspan>
<tspan x="202.205747" y="-0.640625" style="font-size: 11px; font-family: 'DejaVu Sans', sans-serif">e</tspan>
<tspan x="208.973325" y="-0.640625" style="font-size: 11px; font-family: 'DejaVu Sans', sans-serif">)</tspan>
<tspan x="136.062833" y="1.230063" style="font-size: 7.700px; font-family: 'Liberation Serif', serif; font-style: italic">r</tspan>
<tspan x="139.536856" y="1.230063" style="font-size: 7.700px; font-family: 'Liberation Serif', serif; font-style: italic">e</tspan>
<tspan x="143.116153" y="1.230063" style="font-size: 7.700px; font-family: 'Liberation Serif', serif; font-style: italic">m</tspan>
<tspan x="149.876212" y="1.230063" style="font-size: 7.700px; font-family: 'Liberation Serif', serif; font-style: italic">a</tspan>
<tspan x="153.940518" y="1.230063" style="font-size: 7.700px; font-family: 'Liberation Serif', serif; font-style: italic">i</tspan>
<tspan x="156.591153" y="1.230063" style="font-size: 7.700px; font-family: 'Liberation Serif', serif; font-style: italic">n</tspan>
<tspan x="161.211905" y="1.230063" style="font-size: 7.700px; font-family: 'Liberation Serif', serif; font-style: italic">i</tspan>
<tspan x="163.86254" y="1.230063" style="font-size: 7.700px; font-family: 'Liberation Serif', serif; font-style: italic">n</tspan>
<tspan x="168.483292" y="1.230063" style="font-size: 7.700px; font-family: 'Liberation Serif', serif; font-style: italic">g</tspan>
</text>
</g>
</g>
</g>
<g id="axes_6">
<g id="patch_30">
<path d="M 589.92 535.68 L 807.84 535.68 L 807.84 317.76 L 589.92 317.76 z
" style="fill: #ffffff"/>
</g>
<g id="line2d_190">
<path d="M 693.024 334.752 L 703.968 319.872 L 696.672 364.368 L 690.864 328.032 L 700.272 319.536 L 694.224 343.776 L 688.512 347.28 L 696.096 402.816 L 706.752 527.184 L 689.424 503.712 L 692.352 481.632 L 692.64 507.84 L 692.784 508.608 L 693.36 475.344 " clip-path="url(#p9c6c197f49)" style="fill: none; stroke: #0000ff; stroke-linecap: square"/>
<g clip-path="url(#p9c6c197f49)">
<path d="M 0 1.5 C 0.397805 1.5 0.77937 1.341951 1.06066 1.06066 C 1.341951 0.77937 1.5 0.397805 1.5 0 C 1.5 -0.397805 1.341951 -0.77937 1.06066 -1.06066 C 0.77937 -1.341951 0.397805 -1.5 0 -1.5 C -0.397805 -1.5 -0.77937 -1.341951 -1.06066 -1.06066 C -1.341951 -0.77937 -1.5 -0.397805 -1.5 0 C -1.5 0.397805 -1.341951 0.77937 -1.06066 1.06066 C -0.77937 1.341951 -0.397805 1.5 0 1.5 z" transform="translate(693.024 334.752)" style="fill: #0000ff; stroke: #0000ff; stroke-width: 0.5"/>
<path d="M 0 1.5 C 0.397805 1.5 0.77937 1.341951 1.06066 1.06066 C 1.341951 0.77937 1.5 0.397805 1.5 0 C 1.5 -0.397805 1.341951 -0.77937 1.06066 -1.06066 C 0.77937 -1.341951 0.397805 -1.5 0 -1.5 C -0.397805 -1.5 -0.77937 -1.341951 -1.06066 -1.06066 C -1.341951 -0.77937 -1.5 -0.397805 -1.5 0 C -1.5 0.397805 -1.341951 0.77937 -1.06066 1.06066 C -0.77937 1.341951 -0.397805 1.5 0 1.5 z" transform="translate(703.968 319.872)" style="fill: #0000ff; stroke: #0000ff; stroke-width: 0.5"/>
<path d="M 0 1.5 C 0.397805 1.5 0.77937 1.341951 1.06066 1.06066 C 1.341951 0.77937 1.5 0.397805 1.5 0 C 1.5 -0.397805 1.341951 -0.77937 1.06066 -1.06066 C 0.77937 -1.341951 0.397805 -1.5 0 -1.5 C -0.397805 -1.5 -0.77937 -1.341951 -1.06066 -1.06066 C -1.341951 -0.77937 -1.5 -0.397805 -1.5 0 C -1.5 0.397805 -1.341951 0.77937 -1.06066 1.06066 C -0.77937 1.341951 -0.397805 1.5 0 1.5 z" transform="translate(696.672 364.368)" style="fill: #0000ff; stroke: #0000ff; stroke-width: 0.5"/>
<path d="M 0 1.5 C 0.397805 1.5 0.77937 1.341951 1.06066 1.06066 C 1.341951 0.77937 1.5 0.397805 1.5 0 C 1.5 -0.397805 1.341951 -0.77937 1.06066 -1.06066 C 0.77937 -1.341951 0.397805 -1.5 0 -1.5 C -0.397805 -1.5 -0.77937 -1.341951 -1.06066 -1.06066 C -1.341951 -0.77937 -1.5 -0.397805 -1.5 0 C -1.5 0.397805 -1.341951 0.77937 -1.06066 1.06066 C -0.77937 1.341951 -0.397805 1.5 0 1.5 z" transform="translate(690.864 328.032)" style="fill: #0000ff; stroke: #0000ff; stroke-width: 0.5"/>
<path d="M 0 1.5 C 0.397805 1.5 0.77937 1.341951 1.06066 1.06066 C 1.341951 0.77937 1.5 0.397805 1.5 0 C 1.5 -0.397805 1.341951 -0.77937 1.06066 -1.06066 C 0.77937 -1.341951 0.397805 -1.5 0 -1.5 C -0.397805 -1.5 -0.77937 -1.341951 -1.06066 -1.06066 C -1.341951 -0.77937 -1.5 -0.397805 -1.5 0 C -1.5 0.397805 -1.341951 0.77937 -1.06066 1.06066 C -0.77937 1.341951 -0.397805 1.5 0 1.5 z" transform="translate(700.272 319.536)" style="fill: #0000ff; stroke: #0000ff; stroke-width: 0.5"/>
<path d="M 0 1.5 C 0.397805 1.5 0.77937 1.341951 1.06066 1.06066 C 1.341951 0.77937 1.5 0.397805 1.5 0 C 1.5 -0.397805 1.341951 -0.77937 1.06066 -1.06066 C 0.77937 -1.341951 0.397805 -1.5 0 -1.5 C -0.397805 -1.5 -0.77937 -1.341951 -1.06066 -1.06066 C -1.341951 -0.77937 -1.5 -0.397805 -1.5 0 C -1.5 0.397805 -1.341951 0.77937 -1.06066 1.06066 C -0.77937 1.341951 -0.397805 1.5 0 1.5 z" transform="translate(694.224 343.776)" style="fill: #0000ff; stroke: #0000ff; stroke-width: 0.5"/>
<path d="M 0 1.5 C 0.397805 1.5 0.77937 1.341951 1.06066 1.06066 C 1.341951 0.77937 1.5 0.397805 1.5 0 C 1.5 -0.397805 1.341951 -0.77937 1.06066 -1.06066 C 0.77937 -1.341951 0.397805 -1.5 0 -1.5 C -0.397805 -1.5 -0.77937 -1.341951 -1.06066 -1.06066 C -1.341951 -0.77937 -1.5 -0.397805 -1.5 0 C -1.5 0.397805 -1.341951 0.77937 -1.06066 1.06066 C -0.77937 1.341951 -0.397805 1.5 0 1.5 z" transform="translate(688.512 347.28)" style="fill: #0000ff; stroke: #0000ff; stroke-width: 0.5"/>
<path d="M 0 1.5 C 0.397805 1.5 0.77937 1.341951 1.06066 1.06066 C 1.341951 0.77937 1.5 0.397805 1.5 0 C 1.5 -0.397805 1.341951 -0.77937 1.06066 -1.06066 C 0.77937 -1.341951 0.397805 -1.5 0 -1.5 C -0.397805 -1.5 -0.77937 -1.341951 -1.06066 -1.06066 C -1.341951 -0.77937 -1.5 -0.397805 -1.5 0 C -1.5 0.397805 -1.341951 0.77937 -1.06066 1.06066 C -0.77937 1.341951 -0.397805 1.5 0 1.5 z" transform="translate(696.096 402.816)" style="fill: #0000ff; stroke: #0000ff; stroke-width: 0.5"/>
<path d="M 0 1.5 C 0.397805 1.5 0.77937 1.341951 1.06066 1.06066 C 1.341951 0.77937 1.5 0.397805 1.5 0 C 1.5 -0.397805 1.341951 -0.77937 1.06066 -1.06066 C 0.77937 -1.341951 0.397805 -1.5 0 -1.5 C -0.397805 -1.5 -0.77937 -1.341951 -1.06066 -1.06066 C -1.341951 -0.77937 -1.5 -0.397805 -1.5 0 C -1.5 0.397805 -1.341951 0.77937 -1.06066 1.06066 C -0.77937 1.341951 -0.397805 1.5 0 1.5 z" transform="translate(706.752 527.184)" style="fill: #0000ff; stroke: #0000ff; stroke-width: 0.5"/>
<path d="M 0 1.5 C 0.397805 1.5 0.77937 1.341951 1.06066 1.06066 C 1.341951 0.77937 1.5 0.397805 1.5 0 C 1.5 -0.397805 1.341951 -0.77937 1.06066 -1.06066 C 0.77937 -1.341951 0.397805 -1.5 0 -1.5 C -0.397805 -1.5 -0.77937 -1.341951 -1.06066 -1.06066 C -1.341951 -0.77937 -1.5 -0.397805 -1.5 0 C -1.5 0.397805 -1.341951 0.77937 -1.06066 1.06066 C -0.77937 1.341951 -0.397805 1.5 0 1.5 z" transform="translate(689.424 503.712)" style="fill: #0000ff; stroke: #0000ff; stroke-width: 0.5"/>
<path d="M 0 1.5 C 0.397805 1.5 0.77937 1.341951 1.06066 1.06066 C 1.341951 0.77937 1.5 0.397805 1.5 0 C 1.5 -0.397805 1.341951 -0.77937 1.06066 -1.06066 C 0.77937 -1.341951 0.397805 -1.5 0 -1.5 C -0.397805 -1.5 -0.77937 -1.341951 -1.06066 -1.06066 C -1.341951 -0.77937 -1.5 -0.397805 -1.5 0 C -1.5 0.397805 -1.341951 0.77937 -1.06066 1.06066 C -0.77937 1.341951 -0.397805 1.5 0 1.5 z" transform="translate(692.352 481.632)" style="fill: #0000ff; stroke: #0000ff; stroke-width: 0.5"/>
<path d="M 0 1.5 C 0.397805 1.5 0.77937 1.341951 1.06066 1.06066 C 1.341951 0.77937 1.5 0.397805 1.5 0 C 1.5 -0.397805 1.341951 -0.77937 1.06066 -1.06066 C 0.77937 -1.341951 0.397805 -1.5 0 -1.5 C -0.397805 -1.5 -0.77937 -1.341951 -1.06066 -1.06066 C -1.341951 -0.77937 -1.5 -0.397805 -1.5 0 C -1.5 0.397805 -1.341951 0.77937 -1.06066 1.06066 C -0.77937 1.341951 -0.397805 1.5 0 1.5 z" transform="translate(692.64 507.84)" style="fill: #0000ff; stroke: #0000ff; stroke-width: 0.5"/>
<path d="M 0 1.5 C 0.397805 1.5 0.77937 1.341951 1.06066 1.06066 C 1.341951 0.77937 1.5 0.397805 1.5 0 C 1.5 -0.397805 1.341951 -0.77937 1.06066 -1.06066 C 0.77937 -1.341951 0.397805 -1.5 0 -1.5 C -0.397805 -1.5 -0.77937 -1.341951 -1.06066 -1.06066 C -1.341951 -0.77937 -1.5 -0.397805 -1.5 0 C -1.5 0.397805 -1.341951 0.77937 -1.06066 1.06066 C -0.77937 1.341951 -0.397805 1.5 0 1.5 z" transform="translate(692.784 508.608)" style="fill: #0000ff; stroke: #0000ff; stroke-width: 0.5"/>
<path d="M 0 1.5 C 0.397805 1.5 0.77937 1.341951 1.06066 1.06066 C 1.341951 0.77937 1.5 0.397805 1.5 0 C 1.5 -0.397805 1.341951 -0.77937 1.06066 -1.06066 C 0.77937 -1.341951 0.397805 -1.5 0 -1.5 C -0.397805 -1.5 -0.77937 -1.341951 -1.06066 -1.06066 C -1.341951 -0.77937 -1.5 -0.397805 -1.5 0 C -1.5 0.397805 -1.341951 0.77937 -1.06066 1.06066 C -0.77937 1.341951 -0.397805 1.5 0 1.5 z" transform="translate(693.36 475.344)" style="fill: #0000ff; stroke: #0000ff; stroke-width: 0.5"/>
</g>
</g>
<g id="patch_31">
<path d="M 589.9200 535.6800 L 589.9200 317.7600 " style="fill: none; stroke: #000000; stroke-width: 0.96; stroke-linejoin: miter; stroke-linecap: square"/>
</g>
<g id="patch_32">
<path d="M 807.8400 535.6800 L 807.8400 317.7600 " style="fill: none; stroke: #000000; stroke-width: 0.96; stroke-linejoin: miter; stroke-linecap: square"/>
</g>
<g id="patch_33">
<path d="M 589.9200 535.6800 L 807.8400 535.6800 " style="fill: none; stroke: #000000; stroke-width: 0.96; stroke-linejoin: miter; stroke-linecap: square"/>
</g>
<g id="patch_34">
<path d="M 589.9200 317.7600 L 807.8400 317.7600 " style="fill: none; stroke: #000000; stroke-width: 0.96; stroke-linejoin: miter; stroke-linecap: square"/>
</g>
<g id="matplotlib.axis_11">
<g id="xtick_31">
<g id="line2d_191">
<path d="M 590.1600 535.6800 L 590.1600 317.7600 " clip-path="url(#p9c6c197f49)" style="fill: none; stroke-dasharray: 1,3; stroke-dashoffset: 0; stroke: #000000; stroke-width: 0.48"/>
</g>
<g id="line2d_192">
<g>
<path d="M 0 0 L 0 -4" transform="translate(590.1600 535.9200)" style="stroke: #000000; stroke-width: 0.48"/>
</g>
</g>
<g id="line2d_193">
<g>
<path d="M 0 0 L 0 4" transform="translate(590.1600 318.0000)" style="stroke: #000000; stroke-width: 0.48"/>
</g>
</g>
<g id="text_91">
<text style="font-size: 8px; font-family: 'DejaVu Sans', sans-serif; text-anchor: middle" x="589.92" y="546.4" transform="rotate(-0 589.92 546.4)">−140</text>
</g>
</g>
<g id="xtick_32">
<g id="line2d_194">
<path d="M 626.6400 535.6800 L 626.6400 317.7600 " clip-path="url(#p9c6c197f49)" style="fill: none; stroke-dasharray: 1,3; stroke-dashoffset: 0; stroke: #000000; stroke-width: 0.48"/>
</g>
<g id="line2d_195">
<g>
<path d="M 0 0 L 0 -4" transform="translate(626.6400 535.9200)" style="stroke: #000000; stroke-width: 0.48"/>
</g>
</g>
<g id="line2d_196">
<g>
<path d="M 0 0 L 0 4" transform="translate(626.6400 318.0000)" style="stroke: #000000; stroke-width: 0.48"/>
</g>
</g>
<g id="text_92">
<text style="font-size: 8px; font-family: 'DejaVu Sans', sans-serif; text-anchor: middle" x="626.24" y="546.4" transform="rotate(-0 626.24 546.4)">−130</text>
</g>
</g>
<g id="xtick_33">
<g id="line2d_197">
<path d="M 662.6400 535.6800 L 662.6400 317.7600 " clip-path="url(#p9c6c197f49)" style="fill: none; stroke-dasharray: 1,3; stroke-dashoffset: 0; stroke: #000000; stroke-width: 0.48"/>
</g>
<g id="line2d_198">
<g>
<path d="M 0 0 L 0 -4" transform="translate(662.6400 535.9200)" style="stroke: #000000; stroke-width: 0.48"/>
</g>
</g>
<g id="line2d_199">
<g>
<path d="M 0 0 L 0 4" transform="translate(662.6400 318.0000)" style="stroke: #000000; stroke-width: 0.48"/>
</g>
</g>
<g id="text_93">
<text style="font-size: 8px; font-family: 'DejaVu Sans', sans-serif; text-anchor: middle" x="662.56" y="546.4" transform="rotate(-0 662.56 546.4)">−120</text>
</g>
</g>
<g id="xtick_34">
<g id="line2d_200">
<path d="M 699.1200 535.6800 L 699.1200 317.7600 " clip-path="url(#p9c6c197f49)" style="fill: none; stroke-dasharray: 1,3; stroke-dashoffset: 0; stroke: #000000; stroke-width: 0.48"/>
</g>
<g id="line2d_201">
<g>
<path d="M 0 0 L 0 -4" transform="translate(699.1200 535.9200)" style="stroke: #000000; stroke-width: 0.48"/>
</g>
</g>
<g id="line2d_202">
<g>
<path d="M 0 0 L 0 4" transform="translate(699.1200 318.0000)" style="stroke: #000000; stroke-width: 0.48"/>
</g>
</g>
<g id="text_94">
<text style="font-size: 8px; font-family: 'DejaVu Sans', sans-serif; text-anchor: middle" x="698.88" y="546.4" transform="rotate(-0 698.88 546.4)">−110</text>
</g>
</g>
<g id="xtick_35">
<g id="line2d_203">
<path d="M 735.6000 535.6800 L 735.6000 317.7600 " clip-path="url(#p9c6c197f49)" style="fill: none; stroke-dasharray: 1,3; stroke-dashoffset: 0; stroke: #000000; stroke-width: 0.48"/>
</g>
<g id="line2d_204">
<g>
<path d="M 0 0 L 0 -4" transform="translate(735.6000 535.9200)" style="stroke: #000000; stroke-width: 0.48"/>
</g>
</g>
<g id="line2d_205">
<g>
<path d="M 0 0 L 0 4" transform="translate(735.6000 318.0000)" style="stroke: #000000; stroke-width: 0.48"/>
</g>
</g>
<g id="text_95">
<text style="font-size: 8px; font-family: 'DejaVu Sans', sans-serif; text-anchor: middle" x="735.2" y="546.4" transform="rotate(-0 735.2 546.4)">−100</text>
</g>
</g>
<g id="xtick_36">
<g id="line2d_206">
<path d="M 771.6000 535.6800 L 771.6000 317.7600 " clip-path="url(#p9c6c197f49)" style="fill: none; stroke-dasharray: 1,3; stroke-dashoffset: 0; stroke: #000000; stroke-width: 0.48"/>
</g>
<g id="line2d_207">
<g>
<path d="M 0 0 L 0 -4" transform="translate(771.6000 535.9200)" style="stroke: #000000; stroke-width: 0.48"/>
</g>
</g>
<g id="line2d_208">
<g>
<path d="M 0 0 L 0 4" transform="translate(771.6000 318.0000)" style="stroke: #000000; stroke-width: 0.48"/>
</g>
</g>
<g id="text_96">
<text style="font-size: 8px; font-family: 'DejaVu Sans', sans-serif; text-anchor: middle" x="771.52" y="546.4" transform="rotate(-0 771.52 546.4)">−90</text>
</g>
</g>
<g id="xtick_37">
<g id="line2d_209">
<path d="M 808.0800 535.6800 L 808.0800 317.7600 " clip-path="url(#p9c6c197f49)" style="fill: none; stroke-dasharray: 1,3; stroke-dashoffset: 0; stroke: #000000; stroke-width: 0.48"/>
</g>
<g id="line2d_210">
<g>
<path d="M 0 0 L 0 -4" transform="translate(808.0800 535.9200)" style="stroke: #000000; stroke-width: 0.48"/>
</g>
</g>
<g id="line2d_211">
<g>
<path d="M 0 0 L 0 4" transform="translate(808.0800 318.0000)" style="stroke: #000000; stroke-width: 0.48"/>
</g>
</g>
<g id="text_97">
<text style="font-size: 8px; font-family: 'DejaVu Sans', sans-serif; text-anchor: middle" x="807.84" y="546.4" transform="rotate(-0 807.84 546.4)">−80</text>
</g>
</g>
<g id="text_98">
<text style="font-size: 8px; font-family: 'DejaVu Sans', sans-serif; text-anchor: middle" x="698.88" y="559.04" transform="rotate(-0 698.88 559.04)">V3(km/s)</text>
</g>
</g>
<g id="matplotlib.axis_12">
<g id="ytick_37">
<g id="line2d_212">
<path d="M 589.9200 535.9200 L 807.8400 535.9200 " clip-path="url(#p9c6c197f49)" style="fill: none; stroke-dasharray: 1,3; stroke-dashoffset: 0; stroke: #000000; stroke-width: 0.48"/>
</g>
<g id="line2d_213">
<g>
<path d="M 0 0 L 4 0" transform="translate(590.1600 535.9200)" style="stroke: #000000; stroke-width: 0.48"/>
</g>
</g>
<g id="line2d_214">
<g>
<path d="M 0 0 L -4 0" transform="translate(808.0800 535.9200)" style="stroke: #000000; stroke-width: 0.48"/>
</g>
</g>
<g id="text_99">
<text style="font-size: 8px; font-family: 'DejaVu Sans', sans-serif; text-anchor: end" x="585.92" y="538.08" transform="rotate(-0 585.92 538.08)">−20</text>
</g>
</g>
<g id="ytick_38">
<g id="line2d_215">
<path d="M 589.9200 499.4400 L 807.8400 499.4400 " clip-path="url(#p9c6c197f49)" style="fill: none; stroke-dasharray: 1,3; stroke-dashoffset: 0; stroke: #000000; stroke-width: 0.48"/>
</g>
<g id="line2d_216">
<g>
<path d="M 0 0 L 4 0" transform="translate(590.1600 499.4400)" style="stroke: #000000; stroke-width: 0.48"/>
</g>
</g>
<g id="line2d_217">
<g>
<path d="M 0 0 L -4 0" transform="translate(808.0800 499.4400)" style="stroke: #000000; stroke-width: 0.48"/>
</g>
</g>
<g id="text_100">
<text style="font-size: 8px; font-family: 'DejaVu Sans', sans-serif; text-anchor: end" x="585.92" y="501.76" transform="rotate(-0 585.92 501.76)">−10</text>
</g>
</g>
<g id="ytick_39">
<g id="line2d_218">
<path d="M 589.9200 463.4400 L 807.8400 463.4400 " clip-path="url(#p9c6c197f49)" style="fill: none; stroke-dasharray: 1,3; stroke-dashoffset: 0; stroke: #000000; stroke-width: 0.48"/>
</g>
<g id="line2d_219">
<g>
<path d="M 0 0 L 4 0" transform="translate(590.1600 463.4400)" style="stroke: #000000; stroke-width: 0.48"/>
</g>
</g>
<g id="line2d_220">
<g>
<path d="M 0 0 L -4 0" transform="translate(808.0800 463.4400)" style="stroke: #000000; stroke-width: 0.48"/>
</g>
</g>
<g id="text_101">
<text style="font-size: 8px; font-family: 'DejaVu Sans', sans-serif; text-anchor: end" x="585.92" y="465.44" transform="rotate(-0 585.92 465.44)">0</text>
</g>
</g>
<g id="ytick_40">
<g id="line2d_221">
<path d="M 589.9200 426.9600 L 807.8400 426.9600 " clip-path="url(#p9c6c197f49)" style="fill: none; stroke-dasharray: 1,3; stroke-dashoffset: 0; stroke: #000000; stroke-width: 0.48"/>
</g>
<g id="line2d_222">
<g>
<path d="M 0 0 L 4 0" transform="translate(590.1600 426.9600)" style="stroke: #000000; stroke-width: 0.48"/>
</g>
</g>
<g id="line2d_223">
<g>
<path d="M 0 0 L -4 0" transform="translate(808.0800 426.9600)" style="stroke: #000000; stroke-width: 0.48"/>
</g>
</g>
<g id="text_102">
<text style="font-size: 8px; font-family: 'DejaVu Sans', sans-serif; text-anchor: end" x="585.92" y="429.12" transform="rotate(-0 585.92 429.12)">10</text>
</g>
</g>
<g id="ytick_41">
<g id="line2d_224">
<path d="M 589.9200 390.4800 L 807.8400 390.4800 " clip-path="url(#p9c6c197f49)" style="fill: none; stroke-dasharray: 1,3; stroke-dashoffset: 0; stroke: #000000; stroke-width: 0.48"/>
</g>
<g id="line2d_225">
<g>
<path d="M 0 0 L 4 0" transform="translate(590.1600 390.4800)" style="stroke: #000000; stroke-width: 0.48"/>
</g>
</g>
<g id="line2d_226">
<g>
<path d="M 0 0 L -4 0" transform="translate(808.0800 390.4800)" style="stroke: #000000; stroke-width: 0.48"/>
</g>
</g>
<g id="text_103">
<text style="font-size: 8px; font-family: 'DejaVu Sans', sans-serif; text-anchor: end" x="585.92" y="392.8" transform="rotate(-0 585.92 392.8)">20</text>
</g>
</g>
<g id="ytick_42">
<g id="line2d_227">
<path d="M 589.9200 354.4800 L 807.8400 354.4800 " clip-path="url(#p9c6c197f49)" style="fill: none; stroke-dasharray: 1,3; stroke-dashoffset: 0; stroke: #000000; stroke-width: 0.48"/>
</g>
<g id="line2d_228">
<g>
<path d="M 0 0 L 4 0" transform="translate(590.1600 354.4800)" style="stroke: #000000; stroke-width: 0.48"/>
</g>
</g>
<g id="line2d_229">
<g>
<path d="M 0 0 L -4 0" transform="translate(808.0800 354.4800)" style="stroke: #000000; stroke-width: 0.48"/>
</g>
</g>
<g id="text_104">
<text style="font-size: 8px; font-family: 'DejaVu Sans', sans-serif; text-anchor: end" x="585.92" y="356.48" transform="rotate(-0 585.92 356.48)">30</text>
</g>
</g>
<g id="ytick_43">
<g id="line2d_230">
<path d="M 589.9200 318.0000 L 807.8400 318.0000 " clip-path="url(#p9c6c197f49)" style="fill: none; stroke-dasharray: 1,3; stroke-dashoffset: 0; stroke: #000000; stroke-width: 0.48"/>
</g>
<g id="line2d_231">
<g>
<path d="M 0 0 L 4 0" transform="translate(590.1600 318.0000)" style="stroke: #000000; stroke-width: 0.48"/>
</g>
</g>
<g id="line2d_232">
<g>
<path d="M 0 0 L -4 0" transform="translate(808.0800 318.0000)" style="stroke: #000000; stroke-width: 0.48"/>
</g>
</g>
<g id="text_105">
<text style="font-size: 8px; font-family: 'DejaVu Sans', sans-serif; text-anchor: end" x="585.92" y="320.16" transform="rotate(-0 585.92 320.16)">40</text>
</g>
</g>
<g id="text_106">
<text style="font-size: 8px; font-family: 'DejaVu Sans', sans-serif; text-anchor: middle" x="561" y="426.72" transform="rotate(-90 561 426.72)">V1(km/s)</text>
</g>
</g>
<g id="text_107">
<!-- $\lambda_1/\lambda_3\approx$224.62 -->
<g transform="translate(605.76 524.4)">
<text>
<tspan x="0" y="-0.25" style="font-size: 9.000px; font-family: 'Liberation Serif', serif; font-style: italic">λ</tspan>
<tspan x="8.971031" y="-0.25" style="font-size: 9.000px; font-family: 'Liberation Serif', serif; font-style: italic">/</tspan>
<tspan x="13.471031" y="-0.25" style="font-size: 9.000px; font-family: 'Liberation Serif', serif; font-style: italic">λ</tspan>
<tspan x="5.24707" y="1.280563" style="font-size: 6.300px; font-family: 'Liberation Serif', serif">1</tspan>
<tspan x="18.718102" y="1.280563" style="font-size: 6.300px; font-family: 'Liberation Serif', serif">3</tspan>
<tspan x="23.5223" y="-0.25" style="font-size: 9.000px; font-family: 'DejaVu Sans', sans-serif">≈</tspan>
<tspan x="34.4943" y="-0.25" style="font-size: 9px; font-family: 'DejaVu Sans', sans-serif">2</tspan>
<tspan x="40.2204" y="-0.25" style="font-size: 9px; font-family: 'DejaVu Sans', sans-serif">2</tspan>
<tspan x="45.9465" y="-0.25" style="font-size: 9px; font-family: 'DejaVu Sans', sans-serif">4</tspan>
<tspan x="51.6725" y="-0.25" style="font-size: 9px; font-family: 'DejaVu Sans', sans-serif">.</tspan>
<tspan x="54.5334" y="-0.25" style="font-size: 9px; font-family: 'DejaVu Sans', sans-serif">6</tspan>
<tspan x="60.2594" y="-0.25" style="font-size: 9px; font-family: 'DejaVu Sans', sans-serif">2</tspan>
</text>
</g>
</g>
<g id="text_108">
<!-- Hodogram (V3_V1 MVAV$_{remaining}$ frame) -->
<g transform="translate(592.40869 312.76)">
<text>
<tspan x="0" y="-0.640625" style="font-size: 11px; font-family: 'DejaVu Sans', sans-serif">H</tspan>
<tspan x="8.271484" y="-0.640625" style="font-size: 11px; font-family: 'DejaVu Sans', sans-serif">o</tspan>
<tspan x="15.001465" y="-0.640625" style="font-size: 11px; font-family: 'DejaVu Sans', sans-serif">d</tspan>
<tspan x="21.983887" y="-0.640625" style="font-size: 11px; font-family: 'DejaVu Sans', sans-serif">o</tspan>
<tspan x="28.713867" y="-0.640625" style="font-size: 11px; font-family: 'DejaVu Sans', sans-serif">g</tspan>
<tspan x="35.696289" y="-0.640625" style="font-size: 11px; font-family: 'DejaVu Sans', sans-serif">r</tspan>
<tspan x="40.21875" y="-0.640625" style="font-size: 11px; font-family: 'DejaVu Sans', sans-serif">a</tspan>
<tspan x="46.959473" y="-0.640625" style="font-size: 11px; font-family: 'DejaVu Sans', sans-serif">m</tspan>
<tspan x="57.674805" y="-0.640625" style="font-size: 11px; font-family: 'DejaVu Sans', sans-serif"> </tspan>
<tspan x="61.171387" y="-0.640625" style="font-size: 11px; font-family: 'DejaVu Sans', sans-serif">(</tspan>
<tspan x="65.462891" y="-0.640625" style="font-size: 11px; font-family: 'DejaVu Sans', sans-serif">V</tspan>
<tspan x="72.987793" y="-0.640625" style="font-size: 11px; font-family: 'DejaVu Sans', sans-serif">3</tspan>
<tspan x="79.986328" y="-0.640625" style="font-size: 11px; font-family: 'DejaVu Sans', sans-serif">_</tspan>
<tspan x="85.486328" y="-0.640625" style="font-size: 11px; font-family: 'DejaVu Sans', sans-serif">V</tspan>
<tspan x="93.01123" y="-0.640625" style="font-size: 11px; font-family: 'DejaVu Sans', sans-serif">1</tspan>
<tspan x="100.009766" y="-0.640625" style="font-size: 11px; font-family: 'DejaVu Sans', sans-serif"> </tspan>
<tspan x="103.506348" y="-0.640625" style="font-size: 11px; font-family: 'DejaVu Sans', sans-serif">M</tspan>
<tspan x="112.99707" y="-0.640625" style="font-size: 11px; font-family: 'DejaVu Sans', sans-serif">V</tspan>
<tspan x="120.521973" y="-0.640625" style="font-size: 11px; font-family: 'DejaVu Sans', sans-serif">A</tspan>
<tspan x="128.046875" y="-0.640625" style="font-size: 11px; font-family: 'DejaVu Sans', sans-serif">V</tspan>
<tspan x="172.858091" y="-0.640625" style="font-size: 11px; font-family: 'DejaVu Sans', sans-serif"> </tspan>
<tspan x="176.354673" y="-0.640625" style="font-size: 11px; font-family: 'DejaVu Sans', sans-serif">f</tspan>
<tspan x="180.227231" y="-0.640625" style="font-size: 11px; font-family: 'DejaVu Sans', sans-serif">r</tspan>
<tspan x="184.749692" y="-0.640625" style="font-size: 11px; font-family: 'DejaVu Sans', sans-serif">a</tspan>
<tspan x="191.490415" y="-0.640625" style="font-size: 11px; font-family: 'DejaVu Sans', sans-serif">m</tspan>
<tspan x="202.205747" y="-0.640625" style="font-size: 11px; font-family: 'DejaVu Sans', sans-serif">e</tspan>
<tspan x="208.973325" y="-0.640625" style="font-size: 11px; font-family: 'DejaVu Sans', sans-serif">)</tspan>
<tspan x="136.062833" y="1.230063" style="font-size: 7.700px; font-family: 'Liberation Serif', serif; font-style: italic">r</tspan>
<tspan x="139.536856" y="1.230063" style="font-size: 7.700px; font-family: 'Liberation Serif', serif; font-style: italic">e</tspan>
<tspan x="143.116153" y="1.230063" style="font-size: 7.700px; font-family: 'Liberation Serif', serif; font-style: italic">m</tspan>
<tspan x="149.876212" y="1.230063" style="font-size: 7.700px; font-family: 'Liberation Serif', serif; font-style: italic">a</tspan>
<tspan x="153.940518" y="1.230063" style="font-size: 7.700px; font-family: 'Liberation Serif', serif; font-style: italic">i</tspan>
<tspan x="156.591153" y="1.230063" style="font-size: 7.700px; font-family: 'Liberation Serif', serif; font-style: italic">n</tspan>
<tspan x="161.211905" y="1.230063" style="font-size: 7.700px; font-family: 'Liberation Serif', serif; font-style: italic">i</tspan>
<tspan x="163.86254" y="1.230063" style="font-size: 7.700px; font-family: 'Liberation Serif', serif; font-style: italic">n</tspan>
<tspan x="168.483292" y="1.230063" style="font-size: 7.700px; font-family: 'Liberation Serif', serif; font-style: italic">g</tspan>
</text>
</g>
</g>
</g>
<g id="axes_7">
<g id="patch_35">
<path d="M 56.16 733.176 L 807.84 733.176 L 807.84 626.616 L 56.16 626.616 z
" style="fill: #ffffff"/>
</g>
<g id="line2d_233">
<path d="M 56.16 634.464 L 118.8 634.896 L 181.44 633.024 L 244.08 635.808 L 306.72 632.88 L 369.36 630.192 L 432 631.872 L 494.64 630.624 L 557.28 627.168 L 619.92 627.168 L 682.56 626.88 L 745.2 627.168 L 807.84 627.888 " clip-path="url(#pfb548b19d1)" style="fill: none; stroke: #ff0000; stroke-linecap: square"/>
</g>
<g id="line2d_234">
<path d="M 56.16 662.016 L 118.8 661.584 L 181.44 667.488 L 244.08 663.168 L 306.72 664.176 L 369.36 666.624 L 432 664.944 L 494.64 673.344 L 557.28 690.72 L 619.92 692.304 L 682.56 685.44 L 745.2 688.416 L 807.84 691.584 " clip-path="url(#pfb548b19d1)" style="fill: none; stroke: #008000; stroke-linecap: square"/>
</g>
<g id="line2d_235">
<path d="M 56.16 721.008 L 118.8 722.304 L 181.44 723.744 L 244.08 723.888 L 306.72 718.992 L 369.36 722.16 L 432 725.952 L 494.64 730.176 L 557.28 730.176 L 619.92 729.216 L 682.56 727.584 L 745.2 729.168 L 807.84 730.464 " clip-path="url(#pfb548b19d1)" style="fill: none; stroke: #0000ff; stroke-linecap: square"/>
</g>
<g id="line2d_236">
<path d="M 56.16 693.3600 L 807.84 693.3600 " clip-path="url(#pfb548b19d1)" style="fill: none; stroke-dasharray: 6,6; stroke-dashoffset: 0; stroke: #000000; stroke-width: 0.6"/>
</g>
<g id="patch_36">
<path d="M 56.1600 732.9600 L 56.1600 626.4000 " style="fill: none; stroke: #000000; stroke-width: 0.96; stroke-linejoin: miter; stroke-linecap: square"/>
</g>
<g id="patch_37">
<path d="M 807.8400 732.9600 L 807.8400 626.4000 " style="fill: none; stroke: #000000; stroke-width: 0.96; stroke-linejoin: miter; stroke-linecap: square"/>
</g>
<g id="patch_38">
<path d="M 56.1600 732.9600 L 807.8400 732.9600 " style="fill: none; stroke: #000000; stroke-width: 0.96; stroke-linejoin: miter; stroke-linecap: square"/>
</g>
<g id="patch_39">
<path d="M 56.1600 626.4000 L 807.8400 626.4000 " style="fill: none; stroke: #000000; stroke-width: 0.96; stroke-linejoin: miter; stroke-linecap: square"/>
</g>
<g id="matplotlib.axis_13">
<g id="xtick_38">
<g id="line2d_237">
<g>
<path d="M 0 0 L 0 -4" transform="translate(244.5600 733.2000)" style="stroke: #000000; stroke-width: 0.48"/>
</g>
</g>
<g id="line2d_238">
<g>
<path d="M 0 0 L 0 4" transform="translate(244.5600 626.6400)" style="stroke: #000000; stroke-width: 0.48"/>
</g>
</g>
<g id="text_109">
<text style="font-size: 8px; font-family: 'DejaVu Sans', sans-serif; text-anchor: middle" x="244.08" y="743.896" transform="rotate(-0 244.08 743.896)">09/23 23:41:02</text>
</g>
</g>
<g id="xtick_39">
<g id="line2d_239">
<g>
<path d="M 0 0 L 0 -4" transform="translate(557.5200 733.2000)" style="stroke: #000000; stroke-width: 0.48"/>
</g>
</g>
<g id="line2d_240">
<g>
<path d="M 0 0 L 0 4" transform="translate(557.5200 626.6400)" style="stroke: #000000; stroke-width: 0.48"/>
</g>
</g>
<g id="text_110">
<text style="font-size: 8px; font-family: 'DejaVu Sans', sans-serif; text-anchor: middle" x="557.28" y="743.896" transform="rotate(-0 557.28 743.896)">09/23 23:41:07</text>
</g>
</g>
</g>
<g id="matplotlib.axis_14">
<g id="ytick_44">
<g id="line2d_241">
<g>
<path d="M 0 0 L 4 0" transform="translate(56.4000 733.2000)" style="stroke: #000000; stroke-width: 0.48"/>
</g>
</g>
<g id="line2d_242">
<g>
<path d="M 0 0 L -4 0" transform="translate(808.0800 733.2000)" style="stroke: #000000; stroke-width: 0.48"/>
</g>
</g>
<g id="text_111">
<text style="font-size: 8px; font-family: 'DejaVu Sans', sans-serif; text-anchor: end" x="52.16" y="735.576" transform="rotate(-0 52.16 735.576)">−30</text>
</g>
</g>
<g id="ytick_45">
<g id="line2d_243">
<g>
<path d="M 0 0 L 4 0" transform="translate(56.4000 720.2400)" style="stroke: #000000; stroke-width: 0.48"/>
</g>
</g>
<g id="line2d_244">
<g>
<path d="M 0 0 L -4 0" transform="translate(808.0800 720.2400)" style="stroke: #000000; stroke-width: 0.48"/>
</g>
</g>
<g id="text_112">
<text style="font-size: 8px; font-family: 'DejaVu Sans', sans-serif; text-anchor: end" x="52.16" y="722.256" transform="rotate(-0 52.16 722.256)">−20</text>
</g>
</g>
<g id="ytick_46">
<g id="line2d_245">
<g>
<path d="M 0 0 L 4 0" transform="translate(56.4000 706.8000)" style="stroke: #000000; stroke-width: 0.48"/>
</g>
</g>
<g id="line2d_246">
<g>
<path d="M 0 0 L -4 0" transform="translate(808.0800 706.8000)" style="stroke: #000000; stroke-width: 0.48"/>
</g>
</g>
<g id="text_113">
<text style="font-size: 8px; font-family: 'DejaVu Sans', sans-serif; text-anchor: end" x="52.16" y="708.936" transform="rotate(-0 52.16 708.936)">−10</text>
</g>
</g>
<g id="ytick_47">
<g id="line2d_247">
<g>
<path d="M 0 0 L 4 0" transform="translate(56.4000 693.3600)" style="stroke: #000000; stroke-width: 0.48"/>
</g>
</g>
<g id="line2d_248">
<g>
<path d="M 0 0 L -4 0" transform="translate(808.0800 693.3600)" style="stroke: #000000; stroke-width: 0.48"/>
</g>
</g>
<g id="text_114">
<text style="font-size: 8px; font-family: 'DejaVu Sans', sans-serif; text-anchor: end" x="52.16" y="695.616" transform="rotate(-0 52.16 695.616)">0</text>
</g>
</g>
<g id="ytick_48">
<g id="line2d_249">
<g>
<path d="M 0 0 L 4 0" transform="translate(56.4000 679.9200)" style="stroke: #000000; stroke-width: 0.48"/>
</g>
</g>
<g id="line2d_250">
<g>
<path d="M 0 0 L -4 0" transform="translate(808.0800 679.9200)" style="stroke: #000000; stroke-width: 0.48"/>
</g>
</g>
<g id="text_115">
<text style="font-size: 8px; font-family: 'DejaVu Sans', sans-serif; text-anchor: end" x="52.16" y="682.296" transform="rotate(-0 52.16 682.296)">10</text>
</g>
</g>
<g id="ytick_49">
<g id="line2d_251">
<g>
<path d="M 0 0 L 4 0" transform="translate(56.4000 666.9600)" style="stroke: #000000; stroke-width: 0.48"/>
</g>
</g>
<g id="line2d_252">
<g>
<path d="M 0 0 L -4 0" transform="translate(808.0800 666.9600)" style="stroke: #000000; stroke-width: 0.48"/>
</g>
</g>
<g id="text_116">
<text style="font-size: 8px; font-family: 'DejaVu Sans', sans-serif; text-anchor: end" x="52.16" y="668.976" transform="rotate(-0 52.16 668.976)">20</text>
</g>
</g>
<g id="ytick_50">
<g id="line2d_253">
<g>
<path d="M 0 0 L 4 0" transform="translate(56.4000 653.5200)" style="stroke: #000000; stroke-width: 0.48"/>
</g>
</g>
<g id="line2d_254">
<g>
<path d="M 0 0 L -4 0" transform="translate(808.0800 653.5200)" style="stroke: #000000; stroke-width: 0.48"/>
</g>
</g>
<g id="text_117">
<text style="font-size: 8px; font-family: 'DejaVu Sans', sans-serif; text-anchor: end" x="52.16" y="655.656" transform="rotate(-0 52.16 655.656)">30</text>
</g>
</g>
<g id="ytick_51">
<g id="line2d_255">
<g>
<path d="M 0 0 L 4 0" transform="translate(56.4000 640.0800)" style="stroke: #000000; stroke-width: 0.48"/>
</g>
</g>
<g id="line2d_256">
<g>
<path d="M 0 0 L -4 0" transform="translate(808.0800 640.0800)" style="stroke: #000000; stroke-width: 0.48"/>
</g>
</g>
<g id="text_118">
<text style="font-size: 8px; font-family: 'DejaVu Sans', sans-serif; text-anchor: end" x="52.16" y="642.336" transform="rotate(-0 52.16 642.336)">40</text>
</g>
</g>
<g id="ytick_52">
<g id="line2d_257">
<g>
<path d="M 0 0 L 4 0" transform="translate(56.4000 626.6400)" style="stroke: #000000; stroke-width: 0.48"/>
</g>
</g>
<g id="line2d_258">
<g>
<path d="M 0 0 L -4 0" transform="translate(808.0800 626.6400)" style="stroke: #000000; stroke-width: 0.48"/>
</g>
</g>
<g id="text_119">
<text style="font-size: 8px; font-family: 'DejaVu Sans', sans-serif; text-anchor: end" x="52.16" y="629.016" transform="rotate(-0 52.16 629.016)">50</text>
</g>
</g>
<g id="text_120">
<text style="font-size: 8px; font-family: 'DejaVu Sans', sans-serif; text-anchor: middle" x="27.24" y="679.896" transform="rotate(-90 27.24 679.896)">B(nT)</text>
</g>
</g>
<g id="text_121">
<text style="font-size: 11.22px; font-family: 'DejaVu Sans', sans-serif; text-anchor: middle" x="432" y="621.616" transform="rotate(-0 432 621.616)">Magnetic Field (RTN Frame)</text>
</g>
<g id="legend_4">
<g id="patch_40">
<path d="M 769.9200 664.3200 L 804.4800 664.3200 L 804.4800 630.2400 L 769.9200 630.2400 z
" style="fill: #ffffff; stroke: #000000; stroke-linejoin: miter"/>
</g>
<g id="line2d_259">
<path d="M 774.8 636.226 L 784.6 636.226 " style="fill: none; stroke: #ff0000; stroke-linecap: square"/>
</g>
<g id="text_122">
<text style="font-size: 7px; font-family: 'DejaVu Sans', sans-serif; text-anchor: start" x="792.3" y="638.676" transform="rotate(-0 792.3 638.676)">Br</text>
</g>
<g id="line2d_260">
<path d="M 774.8 646.926 L 784.6 646.926 " style="fill: none; stroke: #008000; stroke-linecap: square"/>
</g>
<g id="text_123">
<text style="font-size: 7px; font-family: 'DejaVu Sans', sans-serif; text-anchor: start" x="792.3" y="649.376" transform="rotate(-0 792.3 649.376)">Bt</text>
</g>
<g id="line2d_261">
<path d="M 774.8 657.626 L 784.6 657.626 " style="fill: none; stroke: #0000ff; stroke-linecap: square"/>
</g>
<g id="text_124">
<text style="font-size: 7px; font-family: 'DejaVu Sans', sans-serif; text-anchor: start" x="792.3" y="660.076" transform="rotate(-0 792.3 660.076)">Bn</text>
</g>
</g>
</g>
<g id="axes_8">
<g id="patch_41">
<path d="M 56.16 893.304 L 807.84 893.304 L 807.84 786.744 L 56.16 786.744 z
" style="fill: #ffffff"/>
</g>
<g id="line2d_262">
<path d="M 56.16 876.864 L 118.8 875.856 L 181.44 879.312 L 244.08 875.424 L 306.72 879.312 L 369.36 881.472 L 432 878.4 L 494.64 881.472 L 557.28 891.216 L 619.92 892.224 L 682.56 890.064 L 745.2 890.64 L 807.84 891.216 " clip-path="url(#p00bc8649d4)" style="fill: none; stroke: #ff0000; stroke-linecap: square"/>
</g>
<g id="line2d_263">
<path d="M 56.16 847.152 L 118.8 847.728 L 181.44 852.192 L 244.08 850.032 L 306.72 847.44 L 369.36 850.32 L 432 851.76 L 494.64 859.68 L 557.28 870.432 L 619.92 871.008 L 682.56 865.536 L 745.2 868.272 L 807.84 871.296 " clip-path="url(#p00bc8649d4)" style="fill: none; stroke: #008000; stroke-linecap: square"/>
</g>
<g id="line2d_264">
<path d="M 56.16 797.952 L 118.8 796.944 L 181.44 797.952 L 244.08 797.232 L 306.72 798.672 L 369.36 796.512 L 432 794.64 L 494.64 795.216 L 557.28 801.264 L 619.92 802.272 L 682.56 799.824 L 745.2 800.832 L 807.84 801.84 " clip-path="url(#p00bc8649d4)" style="fill: none; stroke: #0000ff; stroke-linecap: square"/>
</g>
<g id="line2d_265">
<path d="M 56.16 793.632 L 118.8 793.2 L 181.44 793.632 L 244.08 794.064 L 306.72 794.064 L 369.36 791.52 L 432 790.848 L 494.64 790.8 L 557.28 790.512 L 619.92 790.944 L 682.56 790.8 L 745.2 790.944 L 807.84 790.944 " clip-path="url(#p00bc8649d4)" style="fill: none; stroke: #000000; stroke-linecap: square"/>
</g>
<g id="line2d_266">
<path d="M 56.16 858.0000 L 807.84 858.0000 " clip-path="url(#p00bc8649d4)" style="fill: none; stroke-dasharray: 6,6; stroke-dashoffset: 0; stroke: #000000; stroke-width: 0.6"/>
</g>
<g id="patch_42">
<path d="M 56.1600 893.2800 L 56.1600 786.7200 " style="fill: none; stroke: #000000; stroke-width: 0.96; stroke-linejoin: miter; stroke-linecap: square"/>
</g>
<g id="patch_43">
<path d="M 807.8400 893.2800 L 807.8400 786.7200 " style="fill: none; stroke: #000000; stroke-width: 0.96; stroke-linejoin: miter; stroke-linecap: square"/>
</g>
<g id="patch_44">
<path d="M 56.1600 893.2800 L 807.8400 893.2800 " style="fill: none; stroke: #000000; stroke-width: 0.96; stroke-linejoin: miter; stroke-linecap: square"/>
</g>
<g id="patch_45">
<path d="M 56.1600 786.7200 L 807.8400 786.7200 " style="fill: none; stroke: #000000; stroke-width: 0.96; stroke-linejoin: miter; stroke-linecap: square"/>
</g>
<g id="matplotlib.axis_15">
<g id="xtick_40">
<g id="line2d_267">
<g>
<path d="M 0 0 L 0 -4" transform="translate(244.5600 893.5200)" style="stroke: #000000; stroke-width: 0.48"/>
</g>
</g>
<g id="line2d_268">
<g>
<path d="M 0 0 L 0 4" transform="translate(244.5600 786.9600)" style="stroke: #000000; stroke-width: 0.48"/>
</g>
</g>
<g id="text_125">
<text style="font-size: 8px; font-family: 'DejaVu Sans', sans-serif; text-anchor: middle" x="244.08" y="904.024" transform="rotate(-0 244.08 904.024)">09/23 23:41:02</text>
</g>
</g>
<g id="xtick_41">
<g id="line2d_269">
<g>
<path d="M 0 0 L 0 -4" transform="translate(557.5200 893.5200)" style="stroke: #000000; stroke-width: 0.48"/>
</g>
</g>
<g id="line2d_270">
<g>
<path d="M 0 0 L 0 4" transform="translate(557.5200 786.9600)" style="stroke: #000000; stroke-width: 0.48"/>
</g>
</g>
<g id="text_126">
<text style="font-size: 8px; font-family: 'DejaVu Sans', sans-serif; text-anchor: middle" x="557.28" y="904.024" transform="rotate(-0 557.28 904.024)">09/23 23:41:07</text>
</g>
</g>
</g>
<g id="matplotlib.axis_16">
<g id="ytick_53">
<g id="line2d_271">
<g>
<path d="M 0 0 L 4 0" transform="translate(56.4000 893.5200)" style="stroke: #000000; stroke-width: 0.48"/>
</g>
</g>
<g id="line2d_272">
<g>
<path d="M 0 0 L -4 0" transform="translate(808.0800 893.5200)" style="stroke: #000000; stroke-width: 0.48"/>
</g>
</g>
<g id="text_127">
<text style="font-size: 8px; font-family: 'DejaVu Sans', sans-serif; text-anchor: end" x="52.16" y="895.704" transform="rotate(-0 52.16 895.704)">−30</text>
</g>
</g>
<g id="ytick_54">
<g id="line2d_273">
<g>
<path d="M 0 0 L 4 0" transform="translate(56.4000 881.5200)" style="stroke: #000000; stroke-width: 0.48"/>
</g>
</g>
<g id="line2d_274">
<g>
<path d="M 0 0 L -4 0" transform="translate(808.0800 881.5200)" style="stroke: #000000; stroke-width: 0.48"/>
</g>
</g>
<g id="text_128">
<text style="font-size: 8px; font-family: 'DejaVu Sans', sans-serif; text-anchor: end" x="52.16" y="883.864" transform="rotate(-0 52.16 883.864)">−20</text>
</g>
</g>
<g id="ytick_55">
<g id="line2d_275">
<g>
<path d="M 0 0 L 4 0" transform="translate(56.4000 870.0000)" style="stroke: #000000; stroke-width: 0.48"/>
</g>
</g>
<g id="line2d_276">
<g>
<path d="M 0 0 L -4 0" transform="translate(808.0800 870.0000)" style="stroke: #000000; stroke-width: 0.48"/>
</g>
</g>
<g id="text_129">
<text style="font-size: 8px; font-family: 'DejaVu Sans', sans-serif; text-anchor: end" x="52.16" y="872.024" transform="rotate(-0 52.16 872.024)">−10</text>
</g>
</g>
<g id="ytick_56">
<g id="line2d_277">
<g>
<path d="M 0 0 L 4 0" transform="translate(56.4000 858.0000)" style="stroke: #000000; stroke-width: 0.48"/>
</g>
</g>
<g id="line2d_278">
<g>
<path d="M 0 0 L -4 0" transform="translate(808.0800 858.0000)" style="stroke: #000000; stroke-width: 0.48"/>
</g>
</g>
<g id="text_130">
<text style="font-size: 8px; font-family: 'DejaVu Sans', sans-serif; text-anchor: end" x="52.16" y="860.184" transform="rotate(-0 52.16 860.184)">0</text>
</g>
</g>
<g id="ytick_57">
<g id="line2d_279">
<g>
<path d="M 0 0 L 4 0" transform="translate(56.4000 846.0000)" style="stroke: #000000; stroke-width: 0.48"/>
</g>
</g>
<g id="line2d_280">
<g>
<path d="M 0 0 L -4 0" transform="translate(808.0800 846.0000)" style="stroke: #000000; stroke-width: 0.48"/>
</g>
</g>
<g id="text_131">
<text style="font-size: 8px; font-family: 'DejaVu Sans', sans-serif; text-anchor: end" x="52.16" y="848.344" transform="rotate(-0 52.16 848.344)">10</text>
</g>
</g>
<g id="ytick_58">
<g id="line2d_281">
<g>
<path d="M 0 0 L 4 0" transform="translate(56.4000 834.4800)" style="stroke: #000000; stroke-width: 0.48"/>
</g>
</g>
<g id="line2d_282">
<g>
<path d="M 0 0 L -4 0" transform="translate(808.0800 834.4800)" style="stroke: #000000; stroke-width: 0.48"/>
</g>
</g>
<g id="text_132">
<text style="font-size: 8px; font-family: 'DejaVu Sans', sans-serif; text-anchor: end" x="52.16" y="836.504" transform="rotate(-0 52.16 836.504)">20</text>
</g>
</g>
<g id="ytick_59">
<g id="line2d_283">
<g>
<path d="M 0 0 L 4 0" transform="translate(56.4000 822.4800)" style="stroke: #000000; stroke-width: 0.48"/>
</g>
</g>
<g id="line2d_284">
<g>
<path d="M 0 0 L -4 0" transform="translate(808.0800 822.4800)" style="stroke: #000000; stroke-width: 0.48"/>
</g>
</g>
<g id="text_133">
<text style="font-size: 8px; font-family: 'DejaVu Sans', sans-serif; text-anchor: end" x="52.16" y="824.664" transform="rotate(-0 52.16 824.664)">30</text>
</g>
</g>
<g id="ytick_60">
<g id="line2d_285">
<g>
<path d="M 0 0 L 4 0" transform="translate(56.4000 810.4800)" style="stroke: #000000; stroke-width: 0.48"/>
</g>
</g>
<g id="line2d_286">
<g>
<path d="M 0 0 L -4 0" transform="translate(808.0800 810.4800)" style="stroke: #000000; stroke-width: 0.48"/>
</g>
</g>
<g id="text_134">
<text style="font-size: 8px; font-family: 'DejaVu Sans', sans-serif; text-anchor: end" x="52.16" y="812.824" transform="rotate(-0 52.16 812.824)">40</text>
</g>
</g>
<g id="ytick_61">
<g id="line2d_287">
<g>
<path d="M 0 0 L 4 0" transform="translate(56.4000 798.9600)" style="stroke: #000000; stroke-width: 0.48"/>
</g>
</g>
<g id="line2d_288">
<g>
<path d="M 0 0 L -4 0" transform="translate(808.0800 798.9600)" style="stroke: #000000; stroke-width: 0.48"/>
</g>
</g>
<g id="text_135">
<text style="font-size: 8px; font-family: 'DejaVu Sans', sans-serif; text-anchor: end" x="52.16" y="800.984" transform="rotate(-0 52.16 800.984)">50</text>
</g>
</g>
<g id="ytick_62">
<g id="line2d_289">
<g>
<path d="M 0 0 L 4 0" transform="translate(56.4000 786.9600)" style="stroke: #000000; stroke-width: 0.48"/>
</g>
</g>
<g id="line2d_290">
<g>
<path d="M 0 0 L -4 0" transform="translate(808.0800 786.9600)" style="stroke: #000000; stroke-width: 0.48"/>
</g>
</g>
<g id="text_136">
<text style="font-size: 8px; font-family: 'DejaVu Sans', sans-serif; text-anchor: end" x="52.16" y="789.144" transform="rotate(-0 52.16 789.144)">60</text>
</g>
</g>
<g id="text_137">
<text style="font-size: 8px; font-family: 'DejaVu Sans', sans-serif; text-anchor: middle" x="27.24" y="840.024" transform="rotate(-90 27.24 840.024)">B(nT)</text>
</g>
</g>
<g id="text_138">
<text style="font-size: 11.22px; font-family: 'DejaVu Sans', sans-serif; text-anchor: middle" x="432" y="781.744" transform="rotate(-0 432 781.744)">Magnetic Field (Flux Rope Frame)</text>
</g>
<g id="legend_5">
<g id="patch_46">
<path d="M 768.4800 835.6800 L 804.4800 835.6800 L 804.4800 790.0800 L 768.4800 790.0800 z
" style="fill: #ffffff; stroke: #000000; stroke-linejoin: miter"/>
</g>
<g id="line2d_291">
<path d="M 773.24 796.354 L 783.04 796.354 " style="fill: none; stroke: #ff0000; stroke-linecap: square"/>
</g>
<g id="text_139">
<text style="font-size: 7px; font-family: 'DejaVu Sans', sans-serif; text-anchor: start" x="790.74" y="798.804" transform="rotate(-0 790.74 798.804)">Bx'</text>
</g>
<g id="line2d_292">
<path d="M 773.24 807.054 L 783.04 807.054 " style="fill: none; stroke: #008000; stroke-linecap: square"/>
</g>
<g id="text_140">
<text style="font-size: 7px; font-family: 'DejaVu Sans', sans-serif; text-anchor: start" x="790.74" y="809.504" transform="rotate(-0 790.74 809.504)">By'</text>
</g>
<g id="line2d_293">
<path d="M 773.24 817.754 L 783.04 817.754 " style="fill: none; stroke: #0000ff; stroke-linecap: square"/>
</g>
<g id="text_141">
<text style="font-size: 7px; font-family: 'DejaVu Sans', sans-serif; text-anchor: start" x="790.74" y="820.204" transform="rotate(-0 790.74 820.204)">Bz'</text>
</g>
<g id="line2d_294">
<path d="M 773.24 828.454 L 783.04 828.454 " style="fill: none; stroke: #000000; stroke-linecap: square"/>
</g>
<g id="text_142">
<text style="font-size: 7px; font-family: 'DejaVu Sans', sans-serif; text-anchor: start" x="790.74" y="830.904" transform="rotate(-0 790.74 830.904)">|B|</text>
</g>
</g>
</g>
<g id="axes_9">
<g id="patch_47">
<path d="M 56.16 1053.432 L 807.84 1053.432 L 807.84 946.872 L 56.16 946.872 z
" style="fill: #ffffff"/>
</g>
<g id="line2d_295">
<path d="M 56.16 948.864 L 118.8 949.152 L 181.44 949.536 L 244.08 948.864 L 306.72 948.576 L 369.36 948.48 L 432 948.72 L 494.64 949.536 L 557.28 949.152 L 619.92 948.72 L 682.56 948.336 L 745.2 948.72 L 807.84 949.008 " clip-path="url(#p5f27541ede)" style="fill: none; stroke: #ff0000; stroke-linecap: square"/>
</g>
<g id="line2d_296">
<path d="M 56.16 1037.04 L 118.8 1036.608 L 181.44 1037.856 L 244.08 1037.04 L 306.72 1036.896 L 369.36 1037.568 L 432 1037.568 L 494.64 1039.104 L 557.28 1043.328 L 619.92 1042.608 L 682.56 1041.84 L 745.2 1042.656 L 807.84 1041.408 " clip-path="url(#p5f27541ede)" style="fill: none; stroke: #008000; stroke-linecap: square"/>
</g>
<g id="line2d_297">
<path d="M 56.16 1034.832 L 118.8 1034.448 L 181.44 1035.552 L 244.08 1034.736 L 306.72 1033.488 L 369.36 1034.016 L 432 1034.976 L 494.64 1035.792 L 557.28 1035.792 L 619.92 1036.224 L 682.56 1034.976 L 745.2 1036.368 L 807.84 1035.792 " clip-path="url(#p5f27541ede)" style="fill: none; stroke: #0000ff; stroke-linecap: square"/>
</g>
<g id="patch_48">
<path d="M 56.1600 1053.6000 L 56.1600 947.0400 " style="fill: none; stroke: #000000; stroke-width: 0.96; stroke-linejoin: miter; stroke-linecap: square"/>
</g>
<g id="patch_49">
<path d="M 807.8400 1053.6000 L 807.8400 947.0400 " style="fill: none; stroke: #000000; stroke-width: 0.96; stroke-linejoin: miter; stroke-linecap: square"/>
</g>
<g id="patch_50">
<path d="M 56.1600 1053.6000 L 807.8400 1053.6000 " style="fill: none; stroke: #000000; stroke-width: 0.96; stroke-linejoin: miter; stroke-linecap: square"/>
</g>
<g id="patch_51">
<path d="M 56.1600 947.0400 L 807.8400 947.0400 " style="fill: none; stroke: #000000; stroke-width: 0.96; stroke-linejoin: miter; stroke-linecap: square"/>
</g>
<g id="matplotlib.axis_17">
<g id="xtick_42">
<g id="line2d_298">
<g>
<path d="M 0 0 L 0 -4" transform="translate(244.5600 1053.8400)" style="stroke: #000000; stroke-width: 0.48"/>
</g>
</g>
<g id="line2d_299">
<g>
<path d="M 0 0 L 0 4" transform="translate(244.5600 947.2800)" style="stroke: #000000; stroke-width: 0.48"/>
</g>
</g>
<g id="text_143">
<text style="font-size: 8px; font-family: 'DejaVu Sans', sans-serif; text-anchor: middle" x="244.08" y="1064.152" transform="rotate(-0 244.08 1064.152)">09/23 23:41:02</text>
</g>
</g>
<g id="xtick_43">
<g id="line2d_300">
<g>
<path d="M 0 0 L 0 -4" transform="translate(557.5200 1053.8400)" style="stroke: #000000; stroke-width: 0.48"/>
</g>
</g>
<g id="line2d_301">
<g>
<path d="M 0 0 L 0 4" transform="translate(557.5200 947.2800)" style="stroke: #000000; stroke-width: 0.48"/>
</g>
</g>
<g id="text_144">
<text style="font-size: 8px; font-family: 'DejaVu Sans', sans-serif; text-anchor: middle" x="557.28" y="1064.152" transform="rotate(-0 557.28 1064.152)">09/23 23:41:07</text>
</g>
</g>
</g>
<g id="matplotlib.axis_18">
<g id="ytick_63">
<g id="line2d_302">
<g>
<path d="M 0 0 L 4 0" transform="translate(56.4000 1053.8400)" style="stroke: #000000; stroke-width: 0.48"/>
</g>
</g>
<g id="line2d_303">
<g>
<path d="M 0 0 L -4 0" transform="translate(808.0800 1053.8400)" style="stroke: #000000; stroke-width: 0.48"/>
</g>
</g>
<g id="text_145">
<text style="font-size: 8px; font-family: 'DejaVu Sans', sans-serif; text-anchor: end" x="52.16" y="1055.832" transform="rotate(-0 52.16 1055.832)">−200</text>
</g>
</g>
<g id="ytick_64">
<g id="line2d_304">
<g>
<path d="M 0 0 L 4 0" transform="translate(56.4000 1041.8400)" style="stroke: #000000; stroke-width: 0.48"/>
</g>
</g>
<g id="line2d_305">
<g>
<path d="M 0 0 L -4 0" transform="translate(808.0800 1041.8400)" style="stroke: #000000; stroke-width: 0.48"/>
</g>
</g>
<g id="text_146">
<text style="font-size: 8px; font-family: 'DejaVu Sans', sans-serif; text-anchor: end" x="52.16" y="1043.992" transform="rotate(-0 52.16 1043.992)">−100</text>
</g>
</g>
<g id="ytick_65">
<g id="line2d_306">
<g>
<path d="M 0 0 L 4 0" transform="translate(56.4000 1029.8400)" style="stroke: #000000; stroke-width: 0.48"/>
</g>
</g>
<g id="line2d_307">
<g>
<path d="M 0 0 L -4 0" transform="translate(808.0800 1029.8400)" style="stroke: #000000; stroke-width: 0.48"/>
</g>
</g>
<g id="text_147">
<text style="font-size: 8px; font-family: 'DejaVu Sans', sans-serif; text-anchor: end" x="52.16" y="1032.152" transform="rotate(-0 52.16 1032.152)">0</text>
</g>
</g>
<g id="ytick_66">
<g id="line2d_308">
<g>
<path d="M 0 0 L 4 0" transform="translate(56.4000 1018.3200)" style="stroke: #000000; stroke-width: 0.48"/>
</g>
</g>
<g id="line2d_309">
<g>
<path d="M 0 0 L -4 0" transform="translate(808.0800 1018.3200)" style="stroke: #000000; stroke-width: 0.48"/>
</g>
</g>
<g id="text_148">
<text style="font-size: 8px; font-family: 'DejaVu Sans', sans-serif; text-anchor: end" x="52.16" y="1020.312" transform="rotate(-0 52.16 1020.312)">100</text>
</g>
</g>
<g id="ytick_67">
<g id="line2d_310">
<g>
<path d="M 0 0 L 4 0" transform="translate(56.4000 1006.3200)" style="stroke: #000000; stroke-width: 0.48"/>
</g>
</g>
<g id="line2d_311">
<g>
<path d="M 0 0 L -4 0" transform="translate(808.0800 1006.3200)" style="stroke: #000000; stroke-width: 0.48"/>
</g>
</g>
<g id="text_149">
<text style="font-size: 8px; font-family: 'DejaVu Sans', sans-serif; text-anchor: end" x="52.16" y="1008.472" transform="rotate(-0 52.16 1008.472)">200</text>
</g>
</g>
<g id="ytick_68">
<g id="line2d_312">
<g>
<path d="M 0 0 L 4 0" transform="translate(56.4000 994.3200)" style="stroke: #000000; stroke-width: 0.48"/>
</g>
</g>
<g id="line2d_313">
<g>
<path d="M 0 0 L -4 0" transform="translate(808.0800 994.3200)" style="stroke: #000000; stroke-width: 0.48"/>
</g>
</g>
<g id="text_150">
<text style="font-size: 8px; font-family: 'DejaVu Sans', sans-serif; text-anchor: end" x="52.16" y="996.632" transform="rotate(-0 52.16 996.632)">300</text>
</g>
</g>
<g id="ytick_69">
<g id="line2d_314">
<g>
<path d="M 0 0 L 4 0" transform="translate(56.4000 982.8000)" style="stroke: #000000; stroke-width: 0.48"/>
</g>
</g>
<g id="line2d_315">
<g>
<path d="M 0 0 L -4 0" transform="translate(808.0800 982.8000)" style="stroke: #000000; stroke-width: 0.48"/>
</g>
</g>
<g id="text_151">
<text style="font-size: 8px; font-family: 'DejaVu Sans', sans-serif; text-anchor: end" x="52.16" y="984.792" transform="rotate(-0 52.16 984.792)">400</text>
</g>
</g>
<g id="ytick_70">
<g id="line2d_316">
<g>
<path d="M 0 0 L 4 0" transform="translate(56.4000 970.8000)" style="stroke: #000000; stroke-width: 0.48"/>
</g>
</g>
<g id="line2d_317">
<g>
<path d="M 0 0 L -4 0" transform="translate(808.0800 970.8000)" style="stroke: #000000; stroke-width: 0.48"/>
</g>
</g>
<g id="text_152">
<text style="font-size: 8px; font-family: 'DejaVu Sans', sans-serif; text-anchor: end" x="52.16" y="972.952" transform="rotate(-0 52.16 972.952)">500</text>
</g>
</g>
<g id="ytick_71">
<g id="line2d_318">
<g>
<path d="M 0 0 L 4 0" transform="translate(56.4000 958.8000)" style="stroke: #000000; stroke-width: 0.48"/>
</g>
</g>
<g id="line2d_319">
<g>
<path d="M 0 0 L -4 0" transform="translate(808.0800 958.8000)" style="stroke: #000000; stroke-width: 0.48"/>
</g>
</g>
<g id="text_153">
<text style="font-size: 8px; font-family: 'DejaVu Sans', sans-serif; text-anchor: end" x="52.16" y="961.112" transform="rotate(-0 52.16 961.112)">600</text>
</g>
</g>
<g id="ytick_72">
<g id="line2d_320">
<g>
<path d="M 0 0 L 4 0" transform="translate(56.4000 947.2800)" style="stroke: #000000; stroke-width: 0.48"/>
</g>
</g>
<g id="line2d_321">
<g>
<path d="M 0 0 L -4 0" transform="translate(808.0800 947.2800)" style="stroke: #000000; stroke-width: 0.48"/>
</g>
</g>
<g id="text_154">
<text style="font-size: 8px; font-family: 'DejaVu Sans', sans-serif; text-anchor: end" x="52.16" y="949.272" transform="rotate(-0 52.16 949.272)">700</text>
</g>
</g>
<g id="text_155">
<text style="font-size: 8px; font-family: 'DejaVu Sans', sans-serif; text-anchor: middle" x="22.2" y="1000.152" transform="rotate(-90 22.2 1000.152)">Vsw(km/s)</text>
</g>
</g>
<g id="text_156">
<text style="font-size: 11.22px; font-family: 'DejaVu Sans', sans-serif; text-anchor: middle" x="432" y="941.872" transform="rotate(-0 432 941.872)">Solar Wind Velocity (RTN Frame)</text>
</g>
<g id="legend_6">
<g id="patch_52">
<path d="M 769.9200 984.4800 L 804.4800 984.4800 L 804.4800 950.4000 L 769.9200 950.4000 z
" style="fill: #ffffff; stroke: #000000; stroke-linejoin: miter"/>
</g>
<g id="line2d_322">
<path d="M 774.74 956.482 L 784.54 956.482 " style="fill: none; stroke: #ff0000; stroke-linecap: square"/>
</g>
<g id="text_157">
<text style="font-size: 7px; font-family: 'DejaVu Sans', sans-serif; text-anchor: start" x="792.24" y="958.932" transform="rotate(-0 792.24 958.932)">Vr</text>
</g>
<g id="line2d_323">
<path d="M 774.74 967.182 L 784.54 967.182 " style="fill: none; stroke: #008000; stroke-linecap: square"/>
</g>
<g id="text_158">
<text style="font-size: 7px; font-family: 'DejaVu Sans', sans-serif; text-anchor: start" x="792.24" y="969.632" transform="rotate(-0 792.24 969.632)">Vt</text>
</g>
<g id="line2d_324">
<path d="M 774.74 977.882 L 784.54 977.882 " style="fill: none; stroke: #0000ff; stroke-linecap: square"/>
</g>
<g id="text_159">
<text style="font-size: 7px; font-family: 'DejaVu Sans', sans-serif; text-anchor: start" x="792.24" y="980.332" transform="rotate(-0 792.24 980.332)">Vn</text>
</g>
</g>
</g>
<g id="axes_10">
<g id="patch_53">
<path d="M 56.16 1213.56 L 807.84 1213.56 L 807.84 1107 L 56.16 1107 z
" style="fill: #ffffff"/>
</g>
<g id="line2d_325">
<path d="M 56.16 1152.096 L 118.8 1145.328 L 181.44 1119.984 L 244.08 1156.224 L 306.72 1195.68 L 369.36 1203.216 L 432 1187.04 L 494.64 1173.888 L 557.28 1177.776 L 619.92 1183.872 L 682.56 1195.152 L 745.2 1180.848 L 807.84 1175.424 " clip-path="url(#p61d6ffdc29)" style="fill: none; stroke: #0000ff; stroke-linecap: square"/>
</g>
<g id="patch_54">
<path d="M 56.1600 1213.4400 L 56.1600 1106.8800 " style="fill: none; stroke: #000000; stroke-width: 0.96; stroke-linejoin: miter; stroke-linecap: square"/>
</g>
<g id="patch_55">
<path d="M 807.8400 1213.4400 L 807.8400 1106.8800 " style="fill: none; stroke: #000000; stroke-width: 0.96; stroke-linejoin: miter; stroke-linecap: square"/>
</g>
<g id="patch_56">
<path d="M 56.1600 1213.4400 L 807.8400 1213.4400 " style="fill: none; stroke: #000000; stroke-width: 0.96; stroke-linejoin: miter; stroke-linecap: square"/>
</g>
<g id="patch_57">
<path d="M 56.1600 1106.8800 L 807.8400 1106.8800 " style="fill: none; stroke: #000000; stroke-width: 0.96; stroke-linejoin: miter; stroke-linecap: square"/>
</g>
<g id="matplotlib.axis_19">
<g id="xtick_44">
<g id="line2d_326">
<g>
<path d="M 0 0 L 0 -4" transform="translate(244.5600 1213.6800)" style="stroke: #000000; stroke-width: 0.48"/>
</g>
</g>
<g id="line2d_327">
<g>
<path d="M 0 0 L 0 4" transform="translate(244.5600 1107.1200)" style="stroke: #000000; stroke-width: 0.48"/>
</g>
</g>
<g id="text_160">
<text style="font-size: 8px; font-family: 'DejaVu Sans', sans-serif; text-anchor: middle" x="244.08" y="1224.28" transform="rotate(-0 244.08 1224.28)">09/23 23:41:02</text>
</g>
</g>
<g id="xtick_45">
<g id="line2d_328">
<g>
<path d="M 0 0 L 0 -4" transform="translate(557.5200 1213.6800)" style="stroke: #000000; stroke-width: 0.48"/>
</g>
</g>
<g id="line2d_329">
<g>
<path d="M 0 0 L 0 4" transform="translate(557.5200 1107.1200)" style="stroke: #000000; stroke-width: 0.48"/>
</g>
</g>
<g id="text_161">
<text style="font-size: 8px; font-family: 'DejaVu Sans', sans-serif; text-anchor: middle" x="557.28" y="1224.28" transform="rotate(-0 557.28 1224.28)">09/23 23:41:07</text>
</g>
</g>
</g>
<g id="matplotlib.axis_20">
<g id="ytick_73">
<g id="line2d_330">
<g>
<path d="M 0 0 L 4 0" transform="translate(56.4000 1213.6800)" style="stroke: #000000; stroke-width: 0.48"/>
</g>
</g>
<g id="line2d_331">
<g>
<path d="M 0 0 L -4 0" transform="translate(808.0800 1213.6800)" style="stroke: #000000; stroke-width: 0.48"/>
</g>
</g>
<g id="text_162">
<text style="font-size: 8px; font-family: 'DejaVu Sans', sans-serif; text-anchor: end" x="52.16" y="1215.96" transform="rotate(-0 52.16 1215.96)">0.13</text>
</g>
</g>
<g id="ytick_74">
<g id="line2d_332">
<g>
<path d="M 0 0 L 4 0" transform="translate(56.4000 1200.7200)" style="stroke: #000000; stroke-width: 0.48"/>
</g>
</g>
<g id="line2d_333">
<g>
<path d="M 0 0 L -4 0" transform="translate(808.0800 1200.7200)" style="stroke: #000000; stroke-width: 0.48"/>
</g>
</g>
<g id="text_163">
<text style="font-size: 8px; font-family: 'DejaVu Sans', sans-serif; text-anchor: end" x="52.16" y="1202.64" transform="rotate(-0 52.16 1202.64)">0.14</text>
</g>
</g>
<g id="ytick_75">
<g id="line2d_334">
<g>
<path d="M 0 0 L 4 0" transform="translate(56.4000 1187.2800)" style="stroke: #000000; stroke-width: 0.48"/>
</g>
</g>
<g id="line2d_335">
<g>
<path d="M 0 0 L -4 0" transform="translate(808.0800 1187.2800)" style="stroke: #000000; stroke-width: 0.48"/>
</g>
</g>
<g id="text_164">
<text style="font-size: 8px; font-family: 'DejaVu Sans', sans-serif; text-anchor: end" x="52.16" y="1189.32" transform="rotate(-0 52.16 1189.32)">0.15</text>
</g>
</g>
<g id="ytick_76">
<g id="line2d_336">
<g>
<path d="M 0 0 L 4 0" transform="translate(56.4000 1173.8400)" style="stroke: #000000; stroke-width: 0.48"/>
</g>
</g>
<g id="line2d_337">
<g>
<path d="M 0 0 L -4 0" transform="translate(808.0800 1173.8400)" style="stroke: #000000; stroke-width: 0.48"/>
</g>
</g>
<g id="text_165">
<text style="font-size: 8px; font-family: 'DejaVu Sans', sans-serif; text-anchor: end" x="52.16" y="1176" transform="rotate(-0 52.16 1176)">0.16</text>
</g>
</g>
<g id="ytick_77">
<g id="line2d_338">
<g>
<path d="M 0 0 L 4 0" transform="translate(56.4000 1160.4000)" style="stroke: #000000; stroke-width: 0.48"/>
</g>
</g>
<g id="line2d_339">
<g>
<path d="M 0 0 L -4 0" transform="translate(808.0800 1160.4000)" style="stroke: #000000; stroke-width: 0.48"/>
</g>
</g>
<g id="text_166">
<text style="font-size: 8px; font-family: 'DejaVu Sans', sans-serif; text-anchor: end" x="52.16" y="1162.68" transform="rotate(-0 52.16 1162.68)">0.17</text>
</g>
</g>
<g id="ytick_78">
<g id="line2d_340">
<g>
<path d="M 0 0 L 4 0" transform="translate(56.4000 1147.4400)" style="stroke: #000000; stroke-width: 0.48"/>
</g>
</g>
<g id="line2d_341">
<g>
<path d="M 0 0 L -4 0" transform="translate(808.0800 1147.4400)" style="stroke: #000000; stroke-width: 0.48"/>
</g>
</g>
<g id="text_167">
<text style="font-size: 8px; font-family: 'DejaVu Sans', sans-serif; text-anchor: end" x="52.16" y="1149.36" transform="rotate(-0 52.16 1149.36)">0.18</text>
</g>
</g>
<g id="ytick_79">
<g id="line2d_342">
<g>
<path d="M 0 0 L 4 0" transform="translate(56.4000 1134.0000)" style="stroke: #000000; stroke-width: 0.48"/>
</g>
</g>
<g id="line2d_343">
<g>
<path d="M 0 0 L -4 0" transform="translate(808.0800 1134.0000)" style="stroke: #000000; stroke-width: 0.48"/>
</g>
</g>
<g id="text_168">
<text style="font-size: 8px; font-family: 'DejaVu Sans', sans-serif; text-anchor: end" x="52.16" y="1136.04" transform="rotate(-0 52.16 1136.04)">0.19</text>
</g>
</g>
<g id="ytick_80">
<g id="line2d_344">
<g>
<path d="M 0 0 L 4 0" transform="translate(56.4000 1120.5600)" style="stroke: #000000; stroke-width: 0.48"/>
</g>
</g>
<g id="line2d_345">
<g>
<path d="M 0 0 L -4 0" transform="translate(808.0800 1120.5600)" style="stroke: #000000; stroke-width: 0.48"/>
</g>
</g>
<g id="text_169">
<text style="font-size: 8px; font-family: 'DejaVu Sans', sans-serif; text-anchor: end" x="52.16" y="1122.72" transform="rotate(-0 52.16 1122.72)">0.20</text>
</g>
</g>
<g id="ytick_81">
<g id="line2d_346">
<g>
<path d="M 0 0 L 4 0" transform="translate(56.4000 1107.1200)" style="stroke: #000000; stroke-width: 0.48"/>
</g>
</g>
<g id="line2d_347">
<g>
<path d="M 0 0 L -4 0" transform="translate(808.0800 1107.1200)" style="stroke: #000000; stroke-width: 0.48"/>
</g>
</g>
<g id="text_170">
<text style="font-size: 8px; font-family: 'DejaVu Sans', sans-serif; text-anchor: end" x="52.16" y="1109.4" transform="rotate(-0 52.16 1109.4)">0.21</text>
</g>
</g>
<g id="text_171">
<!-- $\beta_p$ -->
<g transform="translate(24.9195 1164.407175) rotate(-90)">
<text>
<tspan x="0" y="-0.359375" style="font-size: 8.000px; font-family: 'Liberation Serif', serif; font-style: italic">β</tspan>
<tspan x="4.519531" y="1.001125" style="font-size: 5.600px; font-family: 'Liberation Serif', serif; font-style: italic">p</tspan>
</text>
</g>
</g>
</g>
<g id="text_172">
<text style="font-size: 11.22px; font-family: 'DejaVu Sans', sans-serif; text-anchor: middle" x="432" y="1102" transform="rotate(-0 432 1102)">Plasma Beta</text>
</g>
</g>
<g id="axes_11">
<g id="patch_58">
<path d="M 56.16 1373.688 L 807.84 1373.688 L 807.84 1267.128 L 56.16 1267.128 z
" style="fill: #ffffff"/>
</g>
<g id="line2d_348">
<path d="M 56.16 1312.32 L 118.8 1311.744 L 181.44 1268.928 L 244.08 1307.424 L 306.72 1361.376 L 369.36 1325.088 L 432 1331.856 L 494.64 1369.056 L 557.28 1314.672 L 619.92 1308.768 L 682.56 1337.328 L 745.2 1314.768 L 807.84 1301.424 " clip-path="url(#pe2c6bf1d2a)" style="fill: none; stroke: #0000ff; stroke-linecap: square"/>
</g>
<g id="patch_59">
<path d="M 56.1600 1373.7600 L 56.1600 1267.2000 " style="fill: none; stroke: #000000; stroke-width: 0.96; stroke-linejoin: miter; stroke-linecap: square"/>
</g>
<g id="patch_60">
<path d="M 807.8400 1373.7600 L 807.8400 1267.2000 " style="fill: none; stroke: #000000; stroke-width: 0.96; stroke-linejoin: miter; stroke-linecap: square"/>
</g>
<g id="patch_61">
<path d="M 56.1600 1373.7600 L 807.8400 1373.7600 " style="fill: none; stroke: #000000; stroke-width: 0.96; stroke-linejoin: miter; stroke-linecap: square"/>
</g>
<g id="patch_62">
<path d="M 56.1600 1267.2000 L 807.8400 1267.2000 " style="fill: none; stroke: #000000; stroke-width: 0.96; stroke-linejoin: miter; stroke-linecap: square"/>
</g>
<g id="matplotlib.axis_21">
<g id="xtick_46">
<g id="line2d_349">
<g>
<path d="M 0 0 L 0 -4" transform="translate(244.5600 1374.0000)" style="stroke: #000000; stroke-width: 0.48"/>
</g>
</g>
<g id="line2d_350">
<g>
<path d="M 0 0 L 0 4" transform="translate(244.5600 1267.4400)" style="stroke: #000000; stroke-width: 0.48"/>
</g>
</g>
<g id="text_173">
<text style="font-size: 8px; font-family: 'DejaVu Sans', sans-serif; text-anchor: middle" x="244.08" y="1384.408" transform="rotate(-0 244.08 1384.408)">09/23 23:41:02</text>
</g>
</g>
<g id="xtick_47">
<g id="line2d_351">
<g>
<path d="M 0 0 L 0 -4" transform="translate(557.5200 1374.0000)" style="stroke: #000000; stroke-width: 0.48"/>
</g>
</g>
<g id="line2d_352">
<g>
<path d="M 0 0 L 0 4" transform="translate(557.5200 1267.4400)" style="stroke: #000000; stroke-width: 0.48"/>
</g>
</g>
<g id="text_174">
<text style="font-size: 8px; font-family: 'DejaVu Sans', sans-serif; text-anchor: middle" x="557.28" y="1384.408" transform="rotate(-0 557.28 1384.408)">09/23 23:41:07</text>
</g>
</g>
</g>
<g id="matplotlib.axis_22">
<g id="ytick_82">
<g id="line2d_353">
<g>
<path d="M 0 0 L 4 0" transform="translate(56.4000 1374.0000)" style="stroke: #000000; stroke-width: 0.48"/>
</g>
</g>
<g id="line2d_354">
<g>
<path d="M 0 0 L -4 0" transform="translate(808.0800 1374.0000)" style="stroke: #000000; stroke-width: 0.48"/>
</g>
</g>
<g id="text_175">
<text style="font-size: 8px; font-family: 'DejaVu Sans', sans-serif; text-anchor: end" x="52.16" y="1376.088" transform="rotate(-0 52.16 1376.088)">64</text>
</g>
</g>
<g id="ytick_83">
<g id="line2d_355">
<g>
<path d="M 0 0 L 4 0" transform="translate(56.4000 1356.2400)" style="stroke: #000000; stroke-width: 0.48"/>
</g>
</g>
<g id="line2d_356">
<g>
<path d="M 0 0 L -4 0" transform="translate(808.0800 1356.2400)" style="stroke: #000000; stroke-width: 0.48"/>
</g>
</g>
<g id="text_176">
<text style="font-size: 8px; font-family: 'DejaVu Sans', sans-serif; text-anchor: end" x="52.16" y="1358.328" transform="rotate(-0 52.16 1358.328)">66</text>
</g>
</g>
<g id="ytick_84">
<g id="line2d_357">
<g>
<path d="M 0 0 L 4 0" transform="translate(56.4000 1338.4800)" style="stroke: #000000; stroke-width: 0.48"/>
</g>
</g>
<g id="line2d_358">
<g>
<path d="M 0 0 L -4 0" transform="translate(808.0800 1338.4800)" style="stroke: #000000; stroke-width: 0.48"/>
</g>
</g>
<g id="text_177">
<text style="font-size: 8px; font-family: 'DejaVu Sans', sans-serif; text-anchor: end" x="52.16" y="1340.568" transform="rotate(-0 52.16 1340.568)">68</text>
</g>
</g>
<g id="ytick_85">
<g id="line2d_359">
<g>
<path d="M 0 0 L 4 0" transform="translate(56.4000 1320.7200)" style="stroke: #000000; stroke-width: 0.48"/>
</g>
</g>
<g id="line2d_360">
<g>
<path d="M 0 0 L -4 0" transform="translate(808.0800 1320.7200)" style="stroke: #000000; stroke-width: 0.48"/>
</g>
</g>
<g id="text_178">
<text style="font-size: 8px; font-family: 'DejaVu Sans', sans-serif; text-anchor: end" x="52.16" y="1322.808" transform="rotate(-0 52.16 1322.808)">70</text>
</g>
</g>
<g id="ytick_86">
<g id="line2d_361">
<g>
<path d="M 0 0 L 4 0" transform="translate(56.4000 1302.9600)" style="stroke: #000000; stroke-width: 0.48"/>
</g>
</g>
<g id="line2d_362">
<g>
<path d="M 0 0 L -4 0" transform="translate(808.0800 1302.9600)" style="stroke: #000000; stroke-width: 0.48"/>
</g>
</g>
<g id="text_179">
<text style="font-size: 8px; font-family: 'DejaVu Sans', sans-serif; text-anchor: end" x="52.16" y="1305.048" transform="rotate(-0 52.16 1305.048)">72</text>
</g>
</g>
<g id="ytick_87">
<g id="line2d_363">
<g>
<path d="M 0 0 L 4 0" transform="translate(56.4000 1285.2000)" style="stroke: #000000; stroke-width: 0.48"/>
</g>
</g>
<g id="line2d_364">
<g>
<path d="M 0 0 L -4 0" transform="translate(808.0800 1285.2000)" style="stroke: #000000; stroke-width: 0.48"/>
</g>
</g>
<g id="text_180">
<text style="font-size: 8px; font-family: 'DejaVu Sans', sans-serif; text-anchor: end" x="52.16" y="1287.288" transform="rotate(-0 52.16 1287.288)">74</text>
</g>
</g>
<g id="ytick_88">
<g id="line2d_365">
<g>
<path d="M 0 0 L 4 0" transform="translate(56.4000 1267.4400)" style="stroke: #000000; stroke-width: 0.48"/>
</g>
</g>
<g id="line2d_366">
<g>
<path d="M 0 0 L -4 0" transform="translate(808.0800 1267.4400)" style="stroke: #000000; stroke-width: 0.48"/>
</g>
</g>
<g id="text_181">
<text style="font-size: 8px; font-family: 'DejaVu Sans', sans-serif; text-anchor: end" x="52.16" y="1269.528" transform="rotate(-0 52.16 1269.528)">76</text>
</g>
</g>
<g id="text_182">
<text style="font-size: 8px; font-family: 'DejaVu Sans', sans-serif; text-anchor: middle" x="33.9" y="1320.408" transform="rotate(-90 33.9 1320.408)">Np(#/cc)</text>
</g>
</g>
<g id="text_183">
<text style="font-size: 11.22px; font-family: 'DejaVu Sans', sans-serif; text-anchor: middle" x="432" y="1262.128" transform="rotate(-0 432 1262.128)">Proton Number Density</text>
</g>
</g>
<g id="axes_12">
<g id="patch_63">
<path d="M 56.16 1533.816 L 807.84 1533.816 L 807.84 1427.256 L 56.16 1427.256 z
" style="fill: #ffffff"/>
</g>
<g id="line2d_367">
<path d="M 56.16 1468.32 L 118.8 1452.912 L 181.44 1442.928 L 244.08 1480.176 L 306.72 1513.248 L 369.36 1522.992 L 432 1484.64 L 494.64 1433.952 L 557.28 1472.64 L 619.92 1490.112 L 682.56 1495.2 L 745.2 1482.576 L 807.84 1479.792 " clip-path="url(#pdb2678cf31)" style="fill: none; stroke: #0000ff; stroke-linecap: square"/>
</g>
<g id="patch_64">
<path d="M 56.1600 1533.6000 L 56.1600 1427.0400 " style="fill: none; stroke: #000000; stroke-width: 0.96; stroke-linejoin: miter; stroke-linecap: square"/>
</g>
<g id="patch_65">
<path d="M 807.8400 1533.6000 L 807.8400 1427.0400 " style="fill: none; stroke: #000000; stroke-width: 0.96; stroke-linejoin: miter; stroke-linecap: square"/>
</g>
<g id="patch_66">
<path d="M 56.1600 1533.6000 L 807.8400 1533.6000 " style="fill: none; stroke: #000000; stroke-width: 0.96; stroke-linejoin: miter; stroke-linecap: square"/>
</g>
<g id="patch_67">
<path d="M 56.1600 1427.0400 L 807.8400 1427.0400 " style="fill: none; stroke: #000000; stroke-width: 0.96; stroke-linejoin: miter; stroke-linecap: square"/>
</g>
<g id="matplotlib.axis_23">
<g id="xtick_48">
<g id="line2d_368">
<g>
<path d="M 0 0 L 0 -4" transform="translate(244.5600 1533.8400)" style="stroke: #000000; stroke-width: 0.48"/>
</g>
</g>
<g id="line2d_369">
<g>
<path d="M 0 0 L 0 4" transform="translate(244.5600 1427.2800)" style="stroke: #000000; stroke-width: 0.48"/>
</g>
</g>
<g id="text_184">
<text style="font-size: 8px; font-family: 'DejaVu Sans', sans-serif; text-anchor: middle" x="244.08" y="1544.536" transform="rotate(-0 244.08 1544.536)">09/23 23:41:02</text>
</g>
</g>
<g id="xtick_49">
<g id="line2d_370">
<g>
<path d="M 0 0 L 0 -4" transform="translate(557.5200 1533.8400)" style="stroke: #000000; stroke-width: 0.48"/>
</g>
</g>
<g id="line2d_371">
<g>
<path d="M 0 0 L 0 4" transform="translate(557.5200 1427.2800)" style="stroke: #000000; stroke-width: 0.48"/>
</g>
</g>
<g id="text_185">
<text style="font-size: 8px; font-family: 'DejaVu Sans', sans-serif; text-anchor: middle" x="557.28" y="1544.536" transform="rotate(-0 557.28 1544.536)">09/23 23:41:07</text>
</g>
</g>
</g>
<g id="matplotlib.axis_24">
<g id="ytick_89">
<g id="line2d_372">
<g>
<path d="M 0 0 L 4 0" transform="translate(56.4000 1533.8400)" style="stroke: #000000; stroke-width: 0.48"/>
</g>
</g>
<g id="line2d_373">
<g>
<path d="M 0 0 L -4 0" transform="translate(808.0800 1533.8400)" style="stroke: #000000; stroke-width: 0.48"/>
</g>
</g>
<g id="text_186">
<text style="font-size: 8px; font-family: 'DejaVu Sans', sans-serif; text-anchor: end" x="52.16" y="1536.216" transform="rotate(-0 52.16 1536.216)">0.17</text>
</g>
</g>
<g id="ytick_90">
<g id="line2d_374">
<g>
<path d="M 0 0 L 4 0" transform="translate(56.4000 1516.0800)" style="stroke: #000000; stroke-width: 0.48"/>
</g>
</g>
<g id="line2d_375">
<g>
<path d="M 0 0 L -4 0" transform="translate(808.0800 1516.0800)" style="stroke: #000000; stroke-width: 0.48"/>
</g>
</g>
<g id="text_187">
<text style="font-size: 8px; font-family: 'DejaVu Sans', sans-serif; text-anchor: end" x="52.16" y="1518.456" transform="rotate(-0 52.16 1518.456)">0.18</text>
</g>
</g>
<g id="ytick_91">
<g id="line2d_376">
<g>
<path d="M 0 0 L 4 0" transform="translate(56.4000 1498.3200)" style="stroke: #000000; stroke-width: 0.48"/>
</g>
</g>
<g id="line2d_377">
<g>
<path d="M 0 0 L -4 0" transform="translate(808.0800 1498.3200)" style="stroke: #000000; stroke-width: 0.48"/>
</g>
</g>
<g id="text_188">
<text style="font-size: 8px; font-family: 'DejaVu Sans', sans-serif; text-anchor: end" x="52.16" y="1500.696" transform="rotate(-0 52.16 1500.696)">0.19</text>
</g>
</g>
<g id="ytick_92">
<g id="line2d_378">
<g>
<path d="M 0 0 L 4 0" transform="translate(56.4000 1480.5600)" style="stroke: #000000; stroke-width: 0.48"/>
</g>
</g>
<g id="line2d_379">
<g>
<path d="M 0 0 L -4 0" transform="translate(808.0800 1480.5600)" style="stroke: #000000; stroke-width: 0.48"/>
</g>
</g>
<g id="text_189">
<text style="font-size: 8px; font-family: 'DejaVu Sans', sans-serif; text-anchor: end" x="52.16" y="1482.936" transform="rotate(-0 52.16 1482.936)">0.20</text>
</g>
</g>
<g id="ytick_93">
<g id="line2d_380">
<g>
<path d="M 0 0 L 4 0" transform="translate(56.4000 1462.8000)" style="stroke: #000000; stroke-width: 0.48"/>
</g>
</g>
<g id="line2d_381">
<g>
<path d="M 0 0 L -4 0" transform="translate(808.0800 1462.8000)" style="stroke: #000000; stroke-width: 0.48"/>
</g>
</g>
<g id="text_190">
<text style="font-size: 8px; font-family: 'DejaVu Sans', sans-serif; text-anchor: end" x="52.16" y="1465.176" transform="rotate(-0 52.16 1465.176)">0.21</text>
</g>
</g>
<g id="ytick_94">
<g id="line2d_382">
<g>
<path d="M 0 0 L 4 0" transform="translate(56.4000 1445.0400)" style="stroke: #000000; stroke-width: 0.48"/>
</g>
</g>
<g id="line2d_383">
<g>
<path d="M 0 0 L -4 0" transform="translate(808.0800 1445.0400)" style="stroke: #000000; stroke-width: 0.48"/>
</g>
</g>
<g id="text_191">
<text style="font-size: 8px; font-family: 'DejaVu Sans', sans-serif; text-anchor: end" x="52.16" y="1447.416" transform="rotate(-0 52.16 1447.416)">0.22</text>
</g>
</g>
<g id="ytick_95">
<g id="line2d_384">
<g>
<path d="M 0 0 L 4 0" transform="translate(56.4000 1427.2800)" style="stroke: #000000; stroke-width: 0.48"/>
</g>
</g>
<g id="line2d_385">
<g>
<path d="M 0 0 L -4 0" transform="translate(808.0800 1427.2800)" style="stroke: #000000; stroke-width: 0.48"/>
</g>
</g>
<g id="text_192">
<text style="font-size: 8px; font-family: 'DejaVu Sans', sans-serif; text-anchor: end" x="52.16" y="1429.656" transform="rotate(-0 52.16 1429.656)">0.23</text>
</g>
</g>
<g id="text_193">
<!-- Tp($10^6$K) -->
<g transform="translate(25.32 1497.211299) rotate(-90)">
<text>
<tspan x="0" y="-0.209188" style="font-size: 8px; font-family: 'DejaVu Sans', sans-serif">T</tspan>
<tspan x="4.886719" y="-0.209188" style="font-size: 8px; font-family: 'DejaVu Sans', sans-serif">p</tspan>
<tspan x="9.964844" y="-0.209188" style="font-size: 8px; font-family: 'DejaVu Sans', sans-serif">(</tspan>
<tspan x="24.753256" y="-0.209188" style="font-size: 8px; font-family: 'DejaVu Sans', sans-serif">K</tspan>
<tspan x="29.99935" y="-0.209188" style="font-size: 8px; font-family: 'DejaVu Sans', sans-serif">)</tspan>
<tspan x="13.085938" y="-0.209188" style="font-size: 8.000px; font-family: 'Liberation Serif', serif">1</tspan>
<tspan x="17.085938" y="-0.209188" style="font-size: 8.000px; font-family: 'Liberation Serif', serif">0</tspan>
<tspan x="21.443069" y="-3.270313" style="font-size: 5.600px; font-family: 'Liberation Serif', serif">6</tspan>
</text>
</g>
</g>
</g>
<g id="text_194">
<!-- Proton Temperature and $T_e/T_p$ -->
<g transform="translate(349.008588 1422.256)">
<text>
<tspan x="0" y="-0.640625" style="font-size: 11px; font-family: 'DejaVu Sans', sans-serif">P</tspan>
<tspan x="6.633301" y="-0.640625" style="font-size: 11px; font-family: 'DejaVu Sans', sans-serif">r</tspan>
<tspan x="11.155762" y="-0.640625" style="font-size: 11px; font-family: 'DejaVu Sans', sans-serif">o</tspan>
<tspan x="17.885742" y="-0.640625" style="font-size: 11px; font-family: 'DejaVu Sans', sans-serif">t</tspan>
<tspan x="22.19873" y="-0.640625" style="font-size: 11px; font-family: 'DejaVu Sans', sans-serif">o</tspan>
<tspan x="28.928711" y="-0.640625" style="font-size: 11px; font-family: 'DejaVu Sans', sans-serif">n</tspan>
<tspan x="35.900391" y="-0.640625" style="font-size: 11px; font-family: 'DejaVu Sans', sans-serif"> </tspan>
<tspan x="39.396973" y="-0.640625" style="font-size: 11px; font-family: 'DejaVu Sans', sans-serif">T</tspan>
<tspan x="46.116211" y="-0.640625" style="font-size: 11px; font-family: 'DejaVu Sans', sans-serif">e</tspan>
<tspan x="52.883789" y="-0.640625" style="font-size: 11px; font-family: 'DejaVu Sans', sans-serif">m</tspan>
<tspan x="63.599121" y="-0.640625" style="font-size: 11px; font-family: 'DejaVu Sans', sans-serif">p</tspan>
<tspan x="70.581543" y="-0.640625" style="font-size: 11px; font-family: 'DejaVu Sans', sans-serif">e</tspan>
<tspan x="77.349121" y="-0.640625" style="font-size: 11px; font-family: 'DejaVu Sans', sans-serif">r</tspan>
<tspan x="81.871582" y="-0.640625" style="font-size: 11px; font-family: 'DejaVu Sans', sans-serif">a</tspan>
<tspan x="88.612305" y="-0.640625" style="font-size: 11px; font-family: 'DejaVu Sans', sans-serif">t</tspan>
<tspan x="92.925293" y="-0.640625" style="font-size: 11px; font-family: 'DejaVu Sans', sans-serif">u</tspan>
<tspan x="99.896973" y="-0.640625" style="font-size: 11px; font-family: 'DejaVu Sans', sans-serif">r</tspan>
<tspan x="104.419434" y="-0.640625" style="font-size: 11px; font-family: 'DejaVu Sans', sans-serif">e</tspan>
<tspan x="111.187012" y="-0.640625" style="font-size: 11px; font-family: 'DejaVu Sans', sans-serif"> </tspan>
<tspan x="114.683594" y="-0.640625" style="font-size: 11px; font-family: 'DejaVu Sans', sans-serif">a</tspan>
<tspan x="121.424316" y="-0.640625" style="font-size: 11px; font-family: 'DejaVu Sans', sans-serif">n</tspan>
<tspan x="128.395996" y="-0.640625" style="font-size: 11px; font-family: 'DejaVu Sans', sans-serif">d</tspan>
<tspan x="135.378418" y="-0.640625" style="font-size: 11px; font-family: 'DejaVu Sans', sans-serif"> </tspan>
<tspan x="138.875" y="-0.640625" style="font-size: 11.000px; font-family: 'Liberation Serif', serif; font-style: italic">T</tspan>
<tspan x="149.579633" y="-0.640625" style="font-size: 11.000px; font-family: 'Liberation Serif', serif; font-style: italic">/</tspan>
<tspan x="155.079633" y="-0.640625" style="font-size: 11.000px; font-family: 'Liberation Serif', serif; font-style: italic">T</tspan>
<tspan x="145.298828" y="1.230063" style="font-size: 7.700px; font-family: 'Liberation Serif', serif; font-style: italic">e</tspan>
<tspan x="161.503461" y="1.230063" style="font-size: 7.700px; font-family: 'Liberation Serif', serif; font-style: italic">p</tspan>
</text>
</g>
</g>
<g id="legend_7">
<g id="patch_68">
<path d="M 59.5200 1443.3600 L 93.6000 1443.3600 L 93.6000 1430.8800 L 59.5200 1430.8800 z
" style="fill: #ffffff; stroke: #000000; stroke-linejoin: miter"/>
</g>
<g id="line2d_386">
<path d="M 64.56 1436.866 L 74.36 1436.866 " style="fill: none; stroke: #0000ff; stroke-linecap: square"/>
</g>
<g id="text_195">
<text style="font-size: 7px; font-family: 'DejaVu Sans', sans-serif; text-anchor: start" x="82.06" y="1439.316" transform="rotate(-0 82.06 1439.316)">Tp</text>
</g>
</g>
</g>
<g id="patch_69">
<path d="M 60.0000 355.6800 L 126.2400 355.6800 L 126.2400 321.1200 L 60.0000 321.1200 z
" style="fill: #ffffff; stroke: #000000; stroke-linejoin: miter"/>
</g>
<g id="text_196">
<text style="font-size: 9px; font-family: 'DejaVu Sans', sans-serif; text-anchor: start" x="61.344" y="329.76" transform="rotate(-0 61.344 329.76)">slope = 0.794</text>
</g>
<g id="text_197">
<!-- $r$ = 0.998 -->
<g transform="translate(61.344 340.176)">
<text>
<tspan x="0" y="-0.3125" style="font-size: 9.000px; font-family: 'Liberation Serif', serif; font-style: italic">r</tspan>
<tspan x="4.060547" y="-0.3125" style="font-size: 9px; font-family: 'DejaVu Sans', sans-serif"> </tspan>
<tspan x="6.921387" y="-0.3125" style="font-size: 9px; font-family: 'DejaVu Sans', sans-serif">=</tspan>
<tspan x="14.462402" y="-0.3125" style="font-size: 9px; font-family: 'DejaVu Sans', sans-serif"> </tspan>
<tspan x="17.323242" y="-0.3125" style="font-size: 9px; font-family: 'DejaVu Sans', sans-serif">0</tspan>
<tspan x="23.049316" y="-0.3125" style="font-size: 9px; font-family: 'DejaVu Sans', sans-serif">.</tspan>
<tspan x="25.910156" y="-0.3125" style="font-size: 9px; font-family: 'DejaVu Sans', sans-serif">9</tspan>
<tspan x="31.63623" y="-0.3125" style="font-size: 9px; font-family: 'DejaVu Sans', sans-serif">9</tspan>
<tspan x="37.362305" y="-0.3125" style="font-size: 9px; font-family: 'DejaVu Sans', sans-serif">8</tspan>
</text>
</g>
</g>
<g id="text_198">
<!-- $M_A$ = 0.801 -->
<g transform="translate(61.344 350.688)">
<text>
<tspan x="0" y="-0.3125" style="font-size: 9.000px; font-family: 'Liberation Serif', serif; font-style: italic">M</tspan>
<tspan x="8.731934" y="1.218063" style="font-size: 6.300px; font-family: 'Liberation Serif', serif; font-style: italic">A</tspan>
<tspan x="14.030895" y="-0.3125" style="font-size: 9px; font-family: 'DejaVu Sans', sans-serif"> </tspan>
<tspan x="16.891734" y="-0.3125" style="font-size: 9px; font-family: 'DejaVu Sans', sans-serif">=</tspan>
<tspan x="24.43275" y="-0.3125" style="font-size: 9px; font-family: 'DejaVu Sans', sans-serif"> </tspan>
<tspan x="27.29359" y="-0.3125" style="font-size: 9px; font-family: 'DejaVu Sans', sans-serif">0</tspan>
<tspan x="33.019664" y="-0.3125" style="font-size: 9px; font-family: 'DejaVu Sans', sans-serif">.</tspan>
<tspan x="35.630504" y="-0.3125" style="font-size: 9px; font-family: 'DejaVu Sans', sans-serif">8</tspan>
<tspan x="41.356578" y="-0.3125" style="font-size: 9px; font-family: 'DejaVu Sans', sans-serif">0</tspan>
<tspan x="47.082652" y="-0.3125" style="font-size: 9px; font-family: 'DejaVu Sans', sans-serif">1</tspan>
</text>
</g>
</g>
</g>
<defs>
<clipPath id="p8485a4d8d3">
<rect x="56.16" y="40.32" width="217.92" height="217.92"/>
</clipPath>
<clipPath id="pe4867e20e9">
<rect x="323.04" y="40.32" width="217.92" height="217.92"/>
</clipPath>
<clipPath id="pc75b457d42">
<rect x="589.92" y="40.32" width="217.92" height="217.92"/>
</clipPath>
<clipPath id="p6fa958b996">
<rect x="56.16" y="317.76" width="217.92" height="217.92"/>
</clipPath>
<clipPath id="pda71e8f11e">
<rect x="323.04" y="317.76" width="217.92" height="217.92"/>
</clipPath>
<clipPath id="p9c6c197f49">
<rect x="589.92" y="317.76" width="217.92" height="217.92"/>
</clipPath>
<clipPath id="pfb548b19d1">
<rect x="56.16" y="626.616" width="751.68" height="106.56"/>
</clipPath>
<clipPath id="p00bc8649d4">
<rect x="56.16" y="786.744" width="751.68" height="106.56"/>
</clipPath>
<clipPath id="p5f27541ede">
<rect x="56.16" y="946.872" width="751.68" height="106.56"/>
</clipPath>
<clipPath id="p61d6ffdc29">
<rect x="56.16" y="1107" width="751.68" height="106.56"/>
</clipPath>
<clipPath id="pe2c6bf1d2a">
<rect x="56.16" y="1267.128" width="751.68" height="106.56"/>
</clipPath>
<clipPath id="pdb2678cf31">
<rect x="56.16" y="1427.256" width="751.68" height="106.56"/>
</clipPath>
</defs>
</svg>

</body></html>
